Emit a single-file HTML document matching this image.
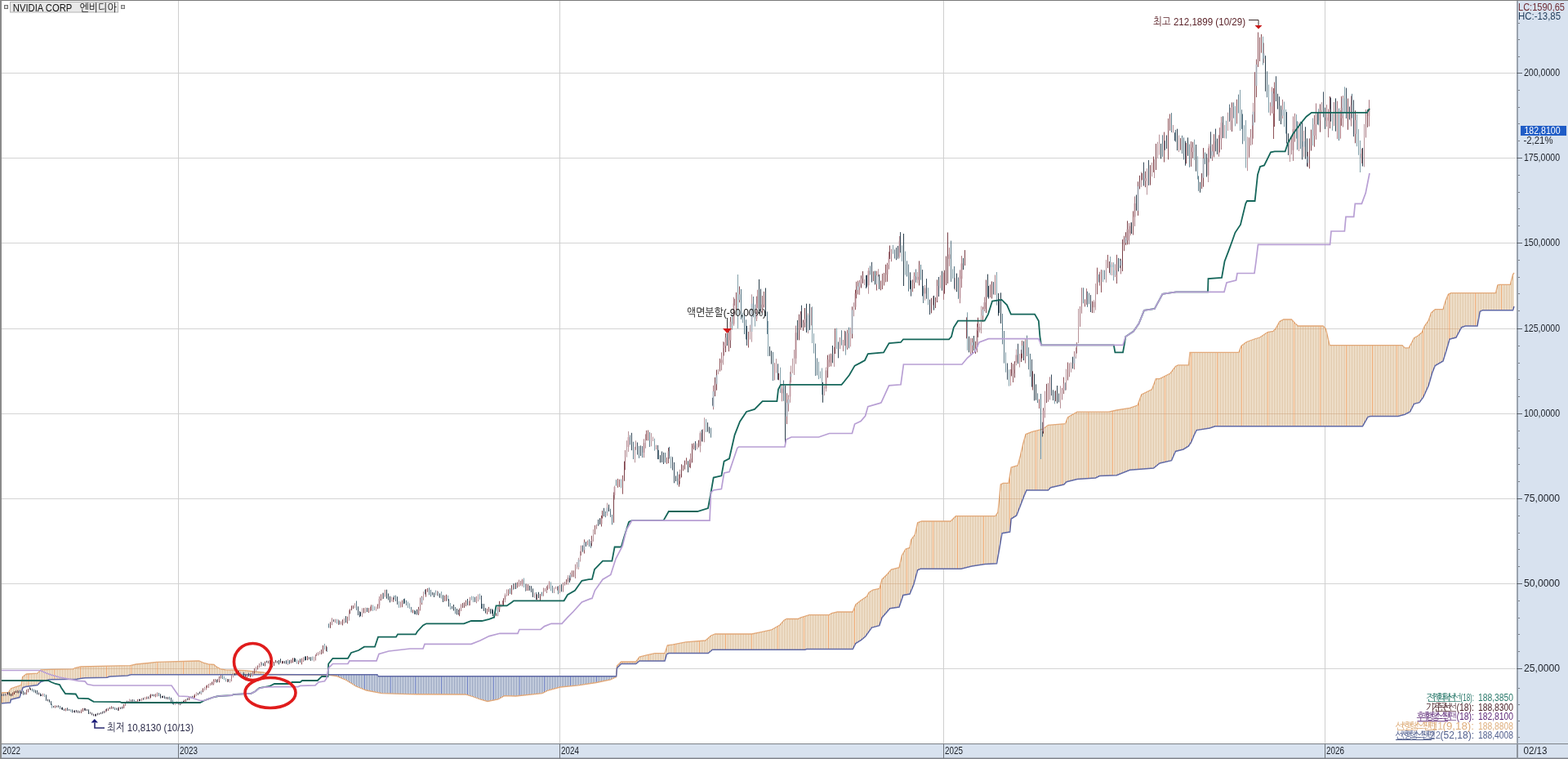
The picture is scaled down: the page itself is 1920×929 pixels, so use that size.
<!DOCTYPE html>
<html><head><meta charset="utf-8"><title>NVIDIA CORP chart</title>
<style>
html,body{margin:0;padding:0;background:#fff;}
body{width:1920px;height:929px;overflow:hidden;position:relative;}
svg{display:block;position:absolute;left:0;top:0;}
</style></head><body>
<svg width="1920" height="929" viewBox="0 0 1920 929">
<defs>
<pattern id="po" width="2" height="8" patternUnits="userSpaceOnUse"><rect width="2" height="8" fill="#fdf6ea"/><rect width="1" height="8" fill="#d6b894"/></pattern>
<pattern id="pb" width="2" height="8" patternUnits="userSpaceOnUse"><rect width="2" height="8" fill="#f2f6fb"/><rect width="1" height="8" fill="#7a8aac"/></pattern>
</defs>
<rect width="1920" height="929" fill="#ffffff"/>

<rect x="2" y="89" width="1854" height="1" fill="#d4d4d4"/>
<rect x="2" y="193" width="1854" height="1" fill="#d4d4d4"/>
<rect x="2" y="297" width="1854" height="1" fill="#d4d4d4"/>
<rect x="2" y="402" width="1854" height="1" fill="#d4d4d4"/>
<rect x="2" y="506" width="1854" height="1" fill="#d4d4d4"/>
<rect x="2" y="610" width="1854" height="1" fill="#d4d4d4"/>
<rect x="2" y="714" width="1854" height="1" fill="#d4d4d4"/>
<rect x="2" y="818" width="1854" height="1" fill="#d4d4d4"/>
<rect x="218" y="1" width="1" height="909" fill="#cfcfcf"/>
<rect x="685" y="1" width="1" height="909" fill="#cfcfcf"/>
<rect x="1155" y="1" width="1" height="909" fill="#cfcfcf"/>
<rect x="1622" y="1" width="1" height="909" fill="#cfcfcf"/>
<polygon points="0,848 1,847.9 2,847.9 3,847.8 4,847.8 5,847.7 6,847.7 7,847.6 8,847.5 9,847.5 10,847.4 10.5,847.2 11,846.5 11.5,845.7 12,845 12.5,844.2 13,843.5 13.5,842.7 14,842.5 14.5,842.4 15,842.2 15.5,842.1 16,841.9 16.5,841.8 17,841.6 17.5,841.4 18,841.3 18.5,841.1 19,840.9 19.5,840.7 20,840.6 20.5,840.4 21,840.2 21.5,840 22,839.9 22.5,839.7 23,839.5 23.5,839.4 24,839.2 24.5,839 25,838.8 25.5,838.7 26,838.5 26.5,835.4 27,832.3 27.5,829.2 28,828.3 28.5,827.9 29,827.5 29.5,827.1 30,826.8 30.5,826.4 31,826 31.5,825.6 32,825.2 32.5,825 33.5,824.9 34.5,824.9 35.5,824.8 36.5,824.8 37.5,824.7 38.5,824.6 39.5,824.6 40.5,824.5 41.5,824.5 42.5,824.4 43.5,824.3 44.5,824.3 45.5,824.2 46,824 46.5,823.5 47,822.9 47.5,822.4 48,821.9 48.5,821.4 49,820.8 49.5,820.3 50,819.8 51.5,819.7 53,819.7 54.5,819.6 56,819.6 57.5,819.5 59,819.4 60.5,819.4 62,819.3 64,819.3 66.5,819.2 69,819.2 71.5,819.1 74,819.1 76.5,819 79,819 81.5,818.9 84,818.9 86.5,818.8 89,818.8 89.5,818.8 90,818.5 90.5,818.3 91,818.1 91.5,817.8 92,817.6 92.5,817.5 93,817.4 93.5,817.3 94,817.2 94.5,817 95,816.9 95.5,816.8 96,816.7 96.5,816.6 97,816.5 97.5,816.3 98,816.2 98.5,816.1 99,816 101,815.9 103,815.9 105,815.8 107,815.8 109,815.7 111,815.7 113,815.6 115,815.6 117,815.5 119,815.5 121,815.4 123,815.4 125,815.3 127,815.3 129,815.2 131,815.2 133,815.1 135.5,815.1 138.5,815 141.5,814.9 144.5,814.9 147.5,814.8 150.5,814.8 153.5,814.7 156.5,814.7 159.5,814.6 160,814.5 160.5,814.4 161,814.2 161.5,814.1 162,814 162.5,813.9 163,813.8 163.5,813.7 164,813.6 164.5,813.5 165,813.4 165.5,813.3 166,813.2 166.5,813 167,813 168,812.9 169,812.8 170,812.7 171,812.6 172,812.5 173,812.4 174,812.3 175,812.2 176,812.1 177,812 178,811.9 179,811.8 180,811.7 181,811.6 182,811.5 182.5,811.5 183,811.4 183.5,811.4 184,811.3 184.5,811.2 185,811.2 185.5,811.1 186,811.1 186.5,811 187,811 187.5,810.9 188,810.8 188.5,810.8 189,810.7 189.5,810.7 190,810.6 190.5,810.5 191,810.5 191.5,810.4 193,810.4 195.5,810.3 198,810.2 200.5,810.2 202.5,810.1 204.5,810.1 206.5,810 208.5,810 210.5,809.9 212.5,809.8 214.5,809.8 216.5,809.7 218.5,809.7 220.5,809.6 222.5,809.5 224.5,809.5 226.5,809.4 228.5,809.4 230.5,809.3 232.5,809.2 234.5,809.2 236.5,809.1 238.5,809.1 240.5,809 243.5,809 244,809.1 244.5,809.3 245,809.6 245.5,809.8 246,810 246.5,810.2 247,810.5 247.5,810.7 248,810.9 248.5,811.1 249,811.3 249.5,811.4 250,811.5 250.5,811.7 251,811.8 251.5,811.9 252,812 252.5,812.1 253,812.3 253.5,812.4 254,812.5 254.5,812.6 255,812.8 255.5,812.8 256,812.9 256.5,812.9 257,813 257.5,813 258,813.1 258.5,813.1 259,813.2 259.5,813.2 260,813.3 260.5,813.3 261,813.4 261.5,813.4 262,813.5 262.5,814 263,814.4 263.5,814.9 264,815.3 264.5,815.8 265,816.2 265.5,816.5 266,816.8 266.5,817 267,817.2 267.5,817.5 268,817.8 268.5,818 269,818.2 269.5,818.5 270,818.8 270.5,818.8 271,818.9 271.5,819 272,819.1 272.5,819.2 273,819.2 273.5,819.3 274,819.4 274.5,819.5 275,819.6 275.5,819.7 276,819.8 277.5,819.8 279,819.9 280,820 281.5,820 282.5,820.1 284,820.1 285,820.2 286.5,820.3 289,820.3 291.5,820.4 294,820.5 296.5,820.5 299,820.6 300,820.6 300.5,820.7 301,820.7 301.5,820.8 302,820.9 302.5,820.9 303,821 303.5,821 304,821.1 304.5,821.2 305,821.2 305.5,821.3 306,821.4 306.5,821.4 307,821.5 307.5,821.6 308,821.6 308.5,821.7 309,821.7 309.5,821.8 310,821.9 310.5,821.9 311,822 312,822.1 313,822.2 314,822.3 315,822.3 316,822.4 317,822.5 318,822.6 319,822.7 320,822.8 321,822.9 322,823 322.5,823 323,823.2 323.5,823.3 324,823.5 324.5,823.7 325,823.8 325.5,824 326,824.2 326.5,824.3 327,824.5 327.5,824.7 328,824.8 328.5,825 329,825.2 329.5,825.3 330,825.5 337.5,825.6 345,825.6 352.5,825.7 360,825.7 367.5,825.8 375,825.8 382.5,825.9 390,825.9 397.5,826 402,826 402.5,826.1 403,826.1 403.5,826.2 404,826.3 404.5,826.4 405,826.5 405.5,826.5 406,826.6 406.5,826.7 407,826.8 407.5,826.8 408,826.9 408.5,827 409,827 409.5,827.1 410,827.2 410.5,827.3 411,827.4 411.5,827.4 412,827.5 412.5,827.7 413,827.9 413.5,828.1 414,828.3 414.5,828.5 415,828.8 415.5,829 416,829.2 416.5,829.4 417,829.6 417.5,829.8 418,830 418.5,830.2 419,830.4 419.5,830.6 420,830.8 420.5,831 421,831.2 421.5,831.5 422,831.7 422.5,831.9 423,832.1 423.5,832.3 424,832.5 424.5,832.8 425,833.1 425.5,833.4 426,833.8 426.5,834.1 427,834.4 427.5,834.7 428,835 428.5,835.3 429,835.6 429.5,835.9 430,836.2 430.5,836.6 431,836.9 431.5,837.2 432,837.5 432.5,837.8 433,838.1 433.5,838.4 434,838.8 434.5,839.1 435,839.4 435.5,839.7 436,840 436.5,840.2 437,840.4 437.5,840.6 438,840.8 438.5,841 439,841.2 439.5,841.4 440,841.6 440.5,841.8 441,842 441.5,842.2 442,842.4 442.5,842.5 443,842.7 443.5,842.9 444,843.1 444.5,843.3 445,843.5 445.5,843.7 446,843.9 446.5,844.1 447,844.3 447.5,844.5 448,844.7 448.5,844.9 449,845 449.5,845.1 450,845.2 450.5,845.3 451,845.4 451.5,845.5 452,845.6 452.5,845.7 453,845.8 453.5,845.9 454,846 454.5,846.1 455,846.2 455.5,846.3 456,846.4 456.5,846.5 457,846.6 457.5,846.7 458,846.8 458.5,846.9 459,847 459.5,847.1 460,847.2 460.5,847.3 461,847.4 461.5,847.5 462,847.6 462.5,847.7 463,847.8 463.5,847.9 464,848 464.5,848.1 465,848.2 465.5,848.3 466,848.4 466.5,848.5 467,848.6 467.5,848.7 469.5,848.8 471.5,848.8 473.5,848.9 475.5,848.9 477.5,849 479.5,849.1 481.5,849.1 483.5,849.2 485.5,849.3 487.5,849.3 489.5,849.4 491.5,849.4 493.5,849.5 495.5,849.6 497.5,849.6 499.5,849.7 508.5,849.7 520.5,849.8 532.5,849.8 544.5,849.9 556.5,849.9 568.5,850 570,850 570.5,850.1 571,850.3 571.5,850.5 572,850.6 572.5,850.8 573,850.9 573.5,851 574,851.2 574.5,851.4 575,851.5 575.5,851.6 576,851.8 576.5,852 577,852.1 577.5,852.2 578,852.4 578.5,852.5 579,852.7 579.5,852.9 580,853 580.5,853.2 581,853.4 581.5,853.6 582,853.8 582.5,853.9 583,854.1 583.5,854.3 584,854.5 584.5,854.7 585,854.9 585.5,855.1 586,855.2 586.5,855.4 587,855.6 587.5,855.8 588,856 588.5,856.1 589,856.3 589.5,856.4 590,856.6 590.5,856.7 591,856.8 591.5,857 592,857.1 592.5,857.2 593,857.4 593.5,857.5 594,857.7 594.5,857.8 595,857.9 595.5,858.1 596,858.2 596.5,858.4 597,858.5 597.5,858.4 598,858.3 598.5,858.2 599,858.1 599.5,858 600,857.9 600.5,857.8 601,857.7 601.5,857.6 602,857.5 602.5,857.4 603,857.3 603.5,857.2 604,857.2 604.5,857.1 605,857 605.5,856.9 606,856.8 606.5,856.7 607,856.6 607.5,856.5 608,856.4 608.5,856.3 609,856.2 609.5,856.1 610,856 610.5,855.7 611,855.4 611.5,855.1 612,854.9 612.5,854.6 613,854.3 613.5,854 614,853.7 614.5,853.4 615,853.1 615.5,852.8 616,852.6 616.5,852.3 617,852 617.5,851.7 620,851.8 622.5,851.8 625,851.9 627.5,851.9 630,852 632,852 632.5,851.9 633,851.9 633.5,851.8 634,851.7 634.5,851.7 635,851.6 635.5,851.6 636,851.5 636.5,851.5 637,851.4 637.5,851.4 638,851.3 638.5,851.3 639,851.2 639.5,851.2 640,851.1 640.5,851.1 641,851 641.5,851 642,850.9 642.5,850.9 643,850.8 643.5,850.8 644,850.7 644.5,850.6 645,850.6 645.5,850.5 646,850.5 646.5,850.4 647,850.4 647.5,850.3 648,850.3 648.5,850.2 649,850.2 649.5,850.1 650,850.1 650.5,850 651,850 651.5,849.9 652,849.9 652.5,849.8 653,849.8 653.5,849.7 654,849.6 654.5,849.6 655,849.5 655.5,849.5 656,849.4 656.5,849.4 657,849.3 657.5,849.3 658,849.2 658.5,849.2 659,849.1 659.5,849.1 660,849 660.5,849 661,848.9 661.5,848.9 662,848.8 662.5,848.8 663,848.7 663.5,848.7 664,848.6 664.5,848.3 665,848.1 665.5,847.8 666,847.6 666.5,847.3 667,847.1 667.5,846.8 668,846.5 668.5,846.3 669,846 669.5,845.8 670,845.5 670.5,845.3 671,845 671.5,844.9 672,844.7 672.5,844.6 673,844.5 673.5,844.3 674,844.2 674.5,844.1 675,843.9 675.5,843.8 676,843.7 676.5,843.5 677,843.4 677.5,843.3 678,843.1 678.5,843 679,842.9 679.5,842.7 680,842.6 680.5,842.5 681,842.3 681.5,842.2 682,842.1 682.5,841.9 683,841.8 683.5,841.7 684,841.5 684.5,841.4 685,841.3 685.5,841.1 686,841 686.5,841 687,840.9 687.5,840.9 688,840.8 689,840.7 689.5,840.6 690,840.6 690.5,840.5 691.5,840.5 692,840.4 692.5,840.4 693,840.3 693.5,840.2 694,840.2 695,840.1 695.5,840 696,840 696.5,839.9 697.5,839.9 698,839.8 698.5,839.8 699,839.7 700,839.6 700.5,839.5 701,839.5 701.5,839.4 702,839.4 702.5,839.3 703.5,839.2 704,839.2 704.5,839.1 705,839.1 706,839 706.5,838.9 707,838.9 707.5,838.8 708,838.8 708.5,838.7 709,838.6 709.5,838.6 710,838.5 710.5,838.4 711,838.3 711.5,838.3 712,838.2 712.5,838.1 713,838 713.5,838 714,837.9 714.5,837.8 715,837.8 715.5,837.7 716,837.6 716.5,837.5 717,837.4 717.5,837.4 718,837.3 718.5,837.2 719,837.1 719.5,837.1 720,837 720.5,836.9 721,836.9 721.5,836.8 722,836.7 722.5,836.6 723,836.5 723.5,836.5 724,836.4 724.5,836.3 725,836.2 725.5,836.2 726,836.1 726.5,836 727,836 727.5,835.9 728,835.8 728.5,835.7 729,835.6 729.5,835.6 730,835.5 730.5,835.4 731,835.3 731.5,835.2 732,835.1 732.5,835 733,834.9 733.5,834.8 734,834.7 734.5,834.6 735,834.5 735.5,834.4 736,834.3 736.5,834.2 737,834.1 737.5,834 738,833.9 738.5,833.8 739,833.7 739.5,833.6 740,833.5 740.5,833.4 741,833.3 741.5,833.2 742,833.1 742.5,833 743,832.9 743.5,832.8 744,832.7 744.5,832.6 745,832.5 745.5,832.4 746,832.3 746.5,832.2 747,832.1 747.5,832 748,831.8 748.5,831.5 749,831.2 749.5,831 750,830.8 750.5,830.5 751,830.2 751.5,830 752,829.8 752.5,829.5 753,829.2 753.5,829 754,828.8 754.5,828.5 755,821.8 755.5,815 756,814.5 756.5,814 757,813.5 757.5,813 758,812.5 758.5,812.1 759,811.6 759.5,811.1 760,810.6 760.5,810.1 761,810 778.5,810 779,809.6 779.5,808.9 780,808.2 780.5,807.5 781,806.8 781.5,806.1 782,805.4 782.5,804.7 783,804 783.5,803.9 784,803.7 784.5,803.6 785,803.5 785.5,803.4 786,803.2 786.5,803.1 787,803 787.5,802.8 788,802.7 788.5,802.6 789,802.5 789.5,802.3 790,802.2 790.5,802.1 791,802 791.5,801.8 792,801.7 792.5,801.6 793,801.5 793.5,801.4 794,801.3 794.5,801.2 795,801.1 795.5,801 796,800.9 796.5,800.8 797,800.6 797.5,800.5 798,800.4 798.5,800.3 799,800.2 799.5,800.1 800,800 800.5,799.9 801,799.8 801.5,799.7 802,799.6 814,799.6 814.5,798.1 815,796.6 815.5,795.1 816,793.7 816.5,792.2 817,790.7 817.5,789.8 818,789.7 818.5,789.6 819,789.6 819.5,789.5 820,789.4 820.5,789.3 821,789.3 821.5,789.2 822,789.1 822.5,789 823,789 823.5,788.9 824,788.8 824.5,788.7 825,788.7 825.5,788.6 826,788.5 826.5,788.4 827,788.3 827.5,788.2 828,788.1 828.5,788 829,787.9 829.5,787.8 830,787.7 830.5,787.6 831,787.5 831.5,787.4 832,787.3 832.5,787.2 833,787.2 833.5,787.1 834,787 834.5,786.9 835,786.8 835.5,786.7 836,786.6 836.5,786.5 837,786.4 837.5,786.3 838,786.2 838.5,786.1 839,786 839.5,785.9 840,785.9 841,785.8 842,785.7 843,785.6 844,785.6 845,785.5 846,785.4 847,785.3 848,785.2 849,785.2 850,785.1 851,785 852,784.9 853,784.9 854,784.8 855,784.7 856,784.6 857,784.5 858,784.5 859,784.4 860,784.3 861,784.2 862,784.1 863,784.1 863.5,784 864,783.8 864.5,783.4 865,782.9 865.5,782.5 866,782.1 866.5,781.6 867,781.2 867.5,780.7 868,780.3 868.5,779.9 869,779.4 869.5,779 870,778.5 870.5,778.1 871,777.8 871.5,777.7 872,777.5 872.5,777.3 873,777.1 873.5,776.9 874,776.7 874.5,776.5 875,776.3 875.5,776.1 876,776 920.5,776 921,775.9 921.5,775.8 922,775.7 922.5,775.6 923,775.5 923.5,775.4 924,775.3 924.5,775.1 925,775 925.5,774.9 926,774.8 926.5,774.7 927,774.6 927.5,774.5 928,774.4 928.5,774.3 929,774.2 929.5,774.1 930,774 930.5,773.9 931,773.8 931.5,773.7 932,773.6 932.5,773.5 933,773.4 933.5,773.2 934,773.1 934.5,773 935,772.9 935.5,772.8 936,772.7 936.5,772.6 937,772.5 937.5,772.4 938,772.3 938.5,772.2 939,772.1 939.5,772 940,771.9 940.5,771.8 941,771.7 941.5,771.6 942,771.5 942.5,771.4 943,771.3 943.5,771.2 944,771.1 944.5,771 945,770.7 945.5,770.4 946,770.1 946.5,769.8 947,769.6 947.5,769.3 948,769 948.5,768.7 949,768.4 949.5,768.1 950,767.8 950.5,767.5 951,767.2 951.5,766.9 952,766.7 952.5,766.4 953,766.1 953.5,765.8 954,765.6 954.5,765.3 955,765 955.5,764.4 956,763.8 956.5,763.3 957,762.7 957.5,762.1 958,761.5 958.5,760.9 959,760.4 959.5,759.8 960,759.2 960.5,759 961,758.7 961.5,758.5 962,758.2 962.5,758 963,757.7 963.5,757.5 977,757.5 977.5,757.4 978,757.1 978.5,756.9 979,756.6 979.5,756.4 980,756.1 980.5,755.9 981,755.7 981.5,755.5 982,755.4 982.5,755.2 983,755.1 983.5,754.9 984,754.8 984.5,754.6 985,754.5 985.5,754.3 986,754.2 986.5,754 987,753.9 987.5,753.7 988,753.6 988.5,753.4 989,753.3 989.5,753.1 990,753 990.5,752.8 991,752.7 1015,752.7 1015.5,752.4 1016,752.1 1016.5,751.8 1017,751.5 1017.5,751.2 1018,750.8 1018.5,750.6 1019,750.5 1019.5,750.3 1020,750.2 1020.5,750.1 1021,750 1021.5,749.9 1022,749.8 1022.5,749.6 1023,749.5 1023.5,749.4 1024,749.3 1024.5,749.2 1025,749.1 1025.5,749 1044,749 1044.5,748.3 1045,747 1045.5,745.8 1046,744.5 1046.5,743.2 1047,742 1047.5,740.7 1048,739.8 1048.5,739.4 1049,739 1049.5,738.6 1050,738.2 1050.5,737.8 1051,737.4 1051.5,737 1052,736.6 1052.5,736.2 1053,735.8 1053.5,735.4 1054,735 1054.5,734.7 1055,734.3 1055.5,734 1056,733.6 1056.5,733.3 1057,733 1057.5,732.6 1058,732.3 1058.5,732 1059,731.6 1059.5,731.3 1060,730.9 1060.5,730.6 1061,730.3 1061.5,729.8 1062,728.9 1062.5,728 1063,727.1 1063.5,726.2 1064,725.3 1064.5,725 1065,724.6 1065.5,724.3 1066,723.9 1066.5,723.6 1067,723.2 1067.5,722.9 1068,722.5 1068.5,722.2 1069,722 1069.5,721.9 1070,721.8 1070.5,721.7 1071,721.6 1071.5,721.5 1072,721.4 1072.5,721.3 1073,721.2 1073.5,721.1 1074,721 1074.5,720.9 1075,720.8 1075.5,720.7 1076,720.6 1076.5,720.6 1077,719.8 1077.5,718 1078,716.3 1078.5,714.5 1079,712.7 1079.5,711 1080,709.2 1080.5,708.7 1081,708.2 1081.5,707.7 1082,707.2 1082.5,706.7 1083,706.2 1083.5,705.7 1084,705.2 1084.5,704.7 1085,704.2 1085.5,703.7 1086,703.2 1086.5,702.7 1087,702.1 1087.5,701.5 1088,701 1088.5,700.4 1089,699.8 1089.5,699.2 1090,698.6 1090.5,698 1091,697.5 1091.5,697 1092,696.9 1092.5,696.7 1093,696.6 1093.5,696.5 1094,696.4 1094.5,696.2 1095,696.1 1095.5,696 1096,695.9 1096.5,695.7 1097,695.6 1097.5,695.5 1098,695.4 1098.5,695.2 1099,695.1 1099.5,695 1100,694.9 1100.5,694.7 1101,694.6 1101.5,692.4 1102,690.2 1102.5,688 1103,685.8 1103.5,683.5 1104,681.3 1104.5,679.7 1105,678.8 1105.5,678 1106,677.1 1106.5,676.3 1107,675.4 1107.5,674.6 1108,673.7 1108.5,672.9 1109,672 1109.5,671.8 1110,671.7 1110.5,671.5 1111,671.4 1111.5,671.2 1112,671 1112.5,670.9 1113,670.7 1113.5,670.6 1114,670.4 1114.5,667.4 1115,664.4 1115.5,661.4 1116,660.3 1116.5,659.6 1117,658.9 1117.5,658.2 1118,657.5 1118.5,656.9 1119,656.2 1119.5,655.5 1120,654.8 1120.5,653.8 1121,651.6 1121.5,649.3 1122,647 1122.5,644.8 1123,642.5 1123.5,640.3 1124,639.7 1124.5,639.5 1125,639.3 1125.5,639.1 1126,638.9 1126.5,638.7 1127,638.6 1127.5,638.4 1128,638.2 1128.5,638 1164,638 1164.5,637.5 1165,637 1165.5,636.5 1166,636 1166.5,635.5 1167,635 1167.5,634.6 1168,634.1 1168.5,633.6 1169,633.1 1169.5,632.6 1170,632.1 1170.5,631.7 1218.5,631.7 1219,631.5 1219.5,630.8 1220,630 1220.5,629.2 1221,628.4 1221.5,627.7 1222,626.9 1222.5,621.8 1223,616.6 1223.5,611.5 1224,606.4 1224.5,601.2 1225,596.1 1225.5,592.9 1226,592.6 1226.5,592.4 1227,592.1 1227.5,591.9 1228,591.6 1228.5,591.4 1235,591.4 1235.5,588.4 1236,585.3 1236.5,582.3 1237,579.3 1237.5,576.2 1238,573.2 1238.5,571.9 1239,571.8 1239.5,571.6 1240,571.5 1240.5,571.3 1241,571.2 1241.5,571.1 1242,570.9 1242.5,570.8 1243,570.6 1243.5,570.5 1244,570.4 1244.5,570.2 1245,570.1 1245.5,569.9 1246,569.8 1246.5,568.9 1247,567 1247.5,565.1 1248,563.2 1248.5,561.3 1249,559.4 1249.5,557.5 1250,555.3 1250.5,553.1 1251,550.9 1251.5,548.7 1252,546.5 1252.5,544.3 1253,542.3 1253.5,540.5 1254,538.7 1254.5,536.9 1255,535.2 1255.5,533.4 1256,531.6 1256.5,531.4 1257,531.2 1257.5,531 1258,530.8 1258.5,530.6 1259,530.4 1259.5,530.2 1260,530 1260.5,529.8 1261,529.6 1261.5,529.4 1262,529.2 1262.5,529 1263,528.8 1263.5,528.6 1264,528.4 1264.5,528.3 1265,528.2 1265.5,528 1266,527.9 1266.5,527.8 1267,527.7 1267.5,527.5 1268,527.4 1268.5,527.3 1269,527.2 1269.5,527 1270,526.9 1270.5,526.8 1271,526.7 1271.5,526.6 1272,526.4 1272.5,526.3 1273,526.2 1273.5,526.1 1274,525.9 1274.5,525.8 1275,525.7 1275.5,525.6 1276,525.4 1276.5,525.3 1277,525.2 1277.5,524.8 1278,524.4 1278.5,524.1 1279,523.7 1279.5,523.3 1280,522.9 1280.5,522.5 1281,522.1 1281.5,521.8 1282,521.4 1282.5,521 1283,520.6 1283.5,520.3 1284.5,520.2 1285.5,520.1 1286.5,520.1 1287.5,520 1288.5,519.9 1289.5,519.8 1290.5,519.8 1291.5,519.7 1292.5,519.6 1293.5,519.5 1294.5,519.5 1295.5,519.4 1296.5,519.3 1297.5,519.2 1298.5,519.1 1299.5,519.1 1300.5,519 1301.5,518.9 1302.5,518.8 1303.5,518.8 1304,518.7 1304.5,518.5 1305,517.2 1305.5,516 1306,514.7 1306.5,513.4 1307,512.2 1307.5,510.9 1308,510.5 1308.5,510.2 1309,509.9 1309.5,509.6 1310,509.3 1310.5,509 1311,508.8 1311.5,508.5 1312,508.2 1312.5,507.9 1313,507.6 1313.5,507.3 1314,507.1 1314.5,506.8 1315,506.5 1315.5,506.2 1316,505.9 1316.5,505.6 1317,505.3 1317.5,505.1 1318,504.8 1318.5,504.5 1319,504.2 1357.5,504.2 1358,504.1 1358.5,504 1359,503.9 1359.5,503.8 1360,503.7 1360.5,503.6 1361,503.4 1361.5,503.3 1362,503.2 1362.5,503.1 1363,503 1363.5,502.9 1364,502.8 1364.5,502.6 1365,502.5 1365.5,502.4 1366,502.3 1366.5,502.2 1367,502.1 1367.5,502 1368,501.9 1368.5,501.8 1369,501.7 1369.5,501.6 1370,501.6 1370.5,501.5 1371,501.4 1371.5,501.3 1372,501.2 1372.5,501.2 1373,501.1 1373.5,501 1374,500.9 1374.5,500.8 1375,500.8 1375.5,500.7 1376,500.6 1376.5,500.5 1377,500.4 1377.5,500.4 1378,500.3 1378.5,500.2 1379,500.1 1379.5,500 1380,500 1380.5,499.9 1381,499.8 1381.5,499.7 1382,499.6 1382.5,499.6 1383,499.5 1383.5,499.4 1384,499.2 1384.5,499 1385,498.9 1385.5,498.7 1386,498.5 1386.5,498.3 1387,498.1 1387.5,498 1388,497.8 1388.5,497.6 1389,497.4 1389.5,497.3 1390,497.1 1390.5,496.9 1391,496.7 1391.5,496.5 1392,496.4 1392.5,496.2 1393,496 1393.5,494.6 1394,493.2 1394.5,491.9 1395,490.5 1395.5,489.1 1396,487.7 1396.5,486.3 1397,484.9 1397.5,483.6 1398,482.9 1398.5,482.6 1399,482.4 1399.5,482.1 1400,481.9 1400.5,481.6 1401,481.4 1401.5,481.1 1402,480.9 1402.5,480.6 1403,480.4 1403.5,480.1 1404,479.9 1404.5,479.6 1405,479.4 1405.5,479.1 1406,478.9 1406.5,478.6 1407,478.4 1407.5,478.1 1408,477.9 1408.5,477.6 1409,477.4 1409.5,477.1 1410,476.9 1410.5,476.6 1411,475.5 1411.5,474.2 1412,472.8 1412.5,471.5 1413,470.1 1413.5,468.8 1414,467.5 1414.5,466.1 1415,464.8 1415.5,463.7 1418,463.6 1420,463.6 1420.5,463.3 1421,463.1 1421.5,462.8 1422,462.6 1422.5,462.3 1423,462.1 1423.5,461.8 1424,461.6 1424.5,461.3 1425,461.1 1425.5,460.8 1426,460.6 1426.5,460.3 1427,460 1427.5,459.8 1428,459.5 1428.5,459.3 1429,459 1429.5,458.8 1430,458.5 1430.5,458.3 1431,458 1431.5,457.8 1432,457.5 1432.5,457.3 1433,457 1433.5,456.3 1434,455.7 1434.5,455 1435,454.3 1435.5,453.7 1436,453 1436.5,452.4 1437,451.7 1437.5,451 1438,450.4 1438.5,449.7 1439,449 1439.5,448.5 1440,448.2 1440.5,447.9 1441,447.7 1441.5,447.4 1442,447.2 1442.5,446.9 1455.5,446.9 1456,441.7 1456.5,436.6 1457,431.4 1516.5,431.4 1517,430.9 1517.5,429.6 1518,428.4 1518.5,427.1 1519,425.8 1519.5,424.6 1520,423.3 1520.5,422.9 1521,422.6 1521.5,422.2 1522,421.8 1522.5,421.5 1523,421.1 1523.5,420.7 1524,420.3 1524.5,420 1525,419.6 1525.5,419.2 1526,418.9 1526.5,418.5 1527,418.3 1527.5,418.1 1528,417.9 1528.5,417.8 1529,417.6 1529.5,417.4 1530,417.2 1530.5,417 1531,416.8 1531.5,416.7 1532,416.5 1532.5,416.3 1533,416.1 1533.5,415.9 1534,415.7 1534.5,415.6 1535,415.4 1535.5,415.2 1536,415 1536.5,414.9 1537,414.7 1537.5,414.6 1538,414.4 1538.5,414.3 1539,414.1 1539.5,414 1540,413.8 1540.5,413.7 1541,413.5 1541.5,413.4 1542,413.2 1542.5,413.1 1543,412.8 1543.5,412.5 1544,412.1 1544.5,411.8 1545,411.5 1545.5,411.1 1546,410.8 1546.5,410.5 1547,410.1 1547.5,409.8 1548,409.5 1548.5,409.1 1549,408.8 1549.5,408.5 1550,408.1 1550.5,407.8 1551,407.4 1551.5,407.1 1552,406.7 1552.5,406.5 1553,406.4 1553.5,406.3 1554,406.2 1554.5,406.2 1555,406.1 1555.5,406 1556,405.9 1556.5,405.9 1557,405.8 1557.5,405.7 1558,405.6 1558.5,405.6 1559,405.5 1559.5,405 1560,404.4 1560.5,403.9 1561,403.4 1561.5,402.8 1562,402.3 1562.5,401.4 1563,400.5 1563.5,399.6 1564,398.7 1564.5,397.9 1565,397 1565.5,396.1 1566,395.2 1566.5,394.3 1567,393.5 1567.5,393.3 1568,393 1568.5,392.7 1569,392.5 1569.5,392.2 1570,391.9 1570.5,391.7 1571,391.4 1571.5,391.1 1572,391 1581,391 1581.5,391.1 1582,391.6 1582.5,392.2 1583,392.7 1583.5,393.2 1584,393.8 1584.5,394.3 1585,394.8 1585.5,395.4 1586,395.9 1586.5,396.3 1587,396.8 1587.5,397.2 1588,397.7 1588.5,398.1 1589,398.6 1589.5,399 1620,399 1620.5,399.5 1621,400 1621.5,400.5 1622,400.9 1622.5,401.4 1623,401.9 1623.5,402.7 1624,404.8 1624.5,407 1625,409.1 1625.5,411.2 1626,413.3 1626.5,415.4 1627,417.5 1627.5,419.6 1628,421.8 1628.5,422.6 1717,422.6 1717.5,423.1 1718,423.6 1718.5,424.1 1719,424.7 1719.5,425.2 1720,425.7 1720.5,425.9 1725,425.9 1725.5,425 1726,424.1 1726.5,423.2 1727,422.3 1727.5,421.4 1728,420.5 1728.5,419.6 1729,418.6 1729.5,417.6 1730,416.6 1730.5,415.6 1731,414.6 1731.5,413.6 1732,413.3 1732.5,413.1 1733,412.8 1733.5,412.5 1734,412.2 1734.5,412 1735,411.7 1735.5,411.4 1736,411.2 1736.5,410.8 1737,410.4 1737.5,410 1738,409.6 1738.5,409.1 1739,408.7 1739.5,408.3 1740,407.9 1740.5,407.4 1741,407 1741.5,405.8 1742,404.6 1742.5,403.5 1743,402.3 1743.5,401.1 1744,399.9 1744.5,398.9 1745,398.2 1745.5,397.5 1746,396.8 1746.5,396.1 1747,395.4 1747.5,394.7 1748,394 1748.5,393.3 1749,392.6 1749.5,391.2 1750,389.9 1750.5,388.5 1751,387.1 1751.5,385.7 1752,384.4 1752.5,383 1753,382.6 1753.5,382.1 1754,381.7 1754.5,381.2 1755,380.8 1755.5,380.3 1756,379.9 1756.5,379.4 1757,379 1757.5,378.7 1767,378.7 1767.5,377 1768,375.3 1768.5,373.5 1769,371.8 1769.5,370.1 1770,368.4 1770.5,367.2 1771,366 1771.5,364.8 1772,363.6 1772.5,362.4 1773,361.3 1773.5,360.3 1774,360 1774.5,359.8 1775,359.5 1775.5,359.3 1776,359 1776.5,358.8 1777,358.7 1831.5,358.7 1832,356.6 1832.5,354.5 1833,352.4 1833.5,350.3 1834,348.9 1834.5,348.8 1835,348.7 1835.5,348.5 1836,348.4 1849,348.4 1849.5,347.6 1850,345.7 1850.5,343.7 1851,341.8 1851.5,339.9 1852,337.9 1852.5,336 1853,335.3 1853.5,334.7 1854,334 1854,375 1853.5,376.6 1853,378.1 1852.5,379.7 1815.5,379.7 1815,379.9 1814.5,380.2 1814,380.4 1813.5,380.7 1813,380.9 1812.5,381.2 1812,382.4 1811.5,385.2 1811,387.9 1810.5,390.7 1810,393.5 1809.5,396.2 1809,399 1794.5,399 1794,399.1 1793.5,399.3 1793,399.5 1792.5,399.7 1792,399.9 1791.5,400 1791,400.2 1790.5,400.4 1790,400.6 1789.5,400.9 1789,401.8 1788.5,402.7 1788,403.7 1787.5,404.6 1787,405.5 1786.5,406.5 1786,407.4 1785.5,408.3 1785,409.3 1784.5,410.2 1784,411.1 1783.5,412.1 1783,413 1782.5,413.1 1782,413.3 1781.5,413.4 1781,413.6 1780.5,413.7 1780,413.8 1779.5,414 1779,414.1 1778.5,414.2 1778,414.4 1777.5,414.5 1777,414.6 1776.5,414.8 1776,414.9 1775.5,415.1 1775,415.2 1774.5,417 1774,418.7 1773.5,420.5 1773,422.3 1772.5,424 1772,425.8 1771.5,427.5 1771,429.1 1770.5,430.7 1770,432.3 1769.5,433.9 1769,435.5 1768.5,437.2 1768,438.8 1767.5,440.4 1767,442 1766.5,442.3 1766,442.6 1765.5,442.9 1765,443.1 1764.5,443.4 1764,443.7 1763.5,444 1763,444.3 1762.5,444.6 1762,444.8 1761.5,445.1 1761,445.4 1760.5,445.7 1760,446 1759.5,446.3 1759,446.5 1758.5,446.8 1758,447.1 1757.5,447.4 1757,448.2 1756.5,449.5 1756,450.7 1755.5,451.9 1755,453.1 1754.5,454.4 1754,455.6 1753.5,457.3 1753,459 1752.5,460.7 1752,462.5 1751.5,464.2 1751,465.9 1750.5,467.6 1750,469.3 1749.5,471 1749,472.4 1748.5,473.5 1748,474.6 1747.5,475.7 1747,476.8 1746.5,477.9 1746,479.1 1745.5,480.2 1745,481.3 1744.5,482.4 1744,483.5 1743.5,484.6 1743,485.8 1742.5,486.6 1742,487.3 1741.5,488 1741,488.6 1740.5,489.3 1740,490 1739.5,490.7 1739,491.3 1738.5,492 1738,492.7 1737.5,492.8 1737,492.9 1736.5,493.1 1736,493.2 1735.5,493.3 1735,493.4 1734.5,493.6 1734,493.7 1733.5,493.8 1733,493.9 1732.5,494.1 1732,494.2 1731.5,494.3 1731,495.3 1730.5,496.3 1730,497.3 1729.5,498.3 1729,499.2 1728.5,500.2 1728,501.2 1727.5,502.2 1727,503.2 1726.5,504 1726,504.3 1725.5,504.5 1725,504.8 1724.5,505 1724,505.3 1723.5,505.5 1723,505.8 1722.5,506.1 1722,506.3 1721.5,506.6 1721,506.8 1720.5,507.1 1720,507.3 1719.5,507.4 1719,507.5 1718.5,507.7 1718,507.8 1717.5,508 1717,508.1 1716.5,508.2 1716,508.4 1715.5,508.5 1715,508.7 1714.5,508.8 1714,508.9 1713.5,509.1 1713,509.2 1712.5,509.4 1712,509.5 1678.5,509.5 1678,509.6 1677.5,509.7 1677,509.8 1676.5,510 1676,510.1 1675.5,510.3 1675,510.4 1674.5,511.3 1674,512.1 1673.5,513 1673,513.9 1672.5,514.7 1672,515.6 1671.5,516.5 1671,517.4 1670.5,518.2 1670,519.1 1669.5,520 1669,520.8 1668.5,521.7 1488,521.7 1487.5,521.8 1487,522 1486.5,522.2 1486,522.3 1485.5,522.5 1485,522.7 1484.5,522.9 1484,523 1483.5,523.2 1483,523.4 1482.5,523.6 1482,523.8 1481.5,523.9 1481,524 1480.5,524.1 1480,524.2 1479.5,524.3 1479,524.4 1478.5,524.4 1478,524.5 1477.5,524.6 1477,524.7 1476.5,524.8 1476,524.8 1475.5,524.9 1475,525 1474.5,525.1 1474,525.2 1473.5,525.2 1473,525.3 1472.5,525.4 1472,525.5 1471.5,525.6 1471,525.6 1470.5,525.7 1470,525.8 1469.5,525.9 1469,526 1468.5,526 1468,526.1 1467.5,526.2 1467,526.3 1466.5,526.4 1466,526.4 1465.5,526.5 1465,526.6 1464.5,527.7 1464,528.7 1463.5,529.8 1463,530.9 1462.5,531.9 1462,533 1461.5,534.2 1461,535.4 1460.5,536.6 1460,537.8 1459.5,539.1 1459,540.3 1458.5,541.3 1458,542.1 1457.5,542.9 1457,543.7 1456.5,544.4 1456,545.2 1455.5,546 1455,546.3 1454.5,546.6 1454,546.9 1453.5,547.2 1453,547.5 1452.5,547.8 1452,548.2 1451.5,548.5 1451,548.8 1450.5,549.1 1450,549.4 1449.5,549.7 1449,550 1448.5,550.1 1448,550.2 1447.5,550.4 1447,550.5 1446.5,550.6 1446,550.8 1445.5,550.9 1445,551 1444.5,551.1 1444,551.2 1443.5,551.4 1443,551.5 1442.5,551.6 1442,551.8 1441.5,551.9 1441,552 1440.5,552.1 1440,552.2 1439.5,552.4 1439,553.3 1438.5,554.5 1438,555.6 1437.5,556.8 1437,557.9 1436.5,559.1 1436,560.2 1435.5,561.4 1435,562.5 1434.5,563.7 1434,563.8 1433.5,563.9 1433,564 1432.5,564.2 1432,564.3 1431.5,564.4 1431,564.5 1430.5,564.6 1430,564.7 1429.5,564.8 1429,565 1428.5,565.1 1428,565.2 1427.5,565.3 1427,565.4 1426.5,565.5 1426,565.6 1425.5,565.7 1425,565.9 1424.5,566 1424,566.1 1423.5,566.2 1423,566.3 1422.5,566.4 1422,566.5 1421.5,566.7 1421,566.8 1420.5,566.9 1420,567 1419.5,567.4 1419,567.8 1418.5,568.2 1418,568.6 1417.5,569 1417,569.4 1416.5,569.8 1416,570.2 1415.5,570.6 1415,571 1414.5,571.4 1414,571.8 1413.5,572.2 1413,572.6 1412.5,573 1411.5,573.1 1410.5,573.2 1409.5,573.2 1408.5,573.3 1407.5,573.4 1406.5,573.5 1405.5,573.5 1404.5,573.6 1403.5,573.7 1402.5,573.8 1401.5,573.8 1400.5,573.9 1399.5,574 1398.5,574.1 1397.5,574.1 1396.5,574.2 1395.5,574.3 1394.5,574.4 1393.5,574.4 1392.5,574.5 1391.5,574.6 1390.5,574.7 1389.5,574.7 1388.5,574.8 1387.5,574.9 1386.5,575 1385.5,575 1384.5,575.1 1383.5,575.2 1383,575.4 1382.5,575.6 1382,575.8 1381.5,576 1381,576.2 1380.5,576.4 1380,576.6 1379.5,576.8 1379,577 1378.5,577.2 1378,577.4 1377.5,577.6 1377,577.8 1376.5,578 1376,578.2 1375.5,578.4 1375,578.6 1374.5,578.8 1374,579 1373.5,579.2 1373,579.4 1372.5,579.6 1372,579.8 1371.5,580 1371,580.2 1370.5,580.4 1370,580.6 1369.5,580.8 1369,581 1368.5,581.2 1368,581.4 1367.5,581.6 1367,581.7 1365.5,581.8 1364,581.8 1362.5,581.9 1361,582 1359.5,582 1358,582.1 1356.5,582.2 1355,582.2 1353.5,582.3 1352,582.4 1350.5,582.4 1349,582.5 1347.5,582.6 1346.5,582.6 1346,582.8 1345.5,583 1345,583.3 1344.5,583.5 1344,583.8 1343.5,584 1343,584.3 1342.5,584.5 1342,584.8 1341.5,585 1340.5,585.1 1339.5,585.1 1338.5,585.2 1337.5,585.3 1336.5,585.3 1335.5,585.4 1334.5,585.5 1333.5,585.5 1332.5,585.6 1331.5,585.7 1330.5,585.7 1329.5,585.8 1328.5,585.9 1327.5,585.9 1326.5,586 1325.5,586.1 1324.5,586.1 1323.5,586.2 1322.5,586.3 1321.5,586.3 1320.5,586.4 1319.5,586.5 1319,586.5 1318.5,586.6 1318,586.7 1317.5,586.9 1317,587 1316.5,587.1 1316,587.2 1315.5,587.4 1315,587.5 1314.5,587.6 1314,587.7 1313.5,587.9 1313,588 1312.5,588.1 1312,588.2 1311.5,588.3 1311,588.5 1310.5,588.6 1310,588.7 1309.5,588.8 1309,589 1308.5,589.1 1308,589.2 1307.5,589.3 1307,589.5 1306.5,589.6 1306,589.7 1305.5,590.2 1305,590.7 1304.5,591.2 1304,591.8 1303.5,592.3 1303,592.8 1302.5,593.1 1302,593.2 1301.5,593.3 1301,593.4 1300.5,593.5 1300,593.7 1299.5,593.8 1299,593.9 1298.5,594 1298,594.1 1297.5,594.2 1297,594.4 1296.5,594.5 1296,594.6 1295.5,594.7 1295,594.8 1294.5,594.9 1294,595.1 1293.5,595.2 1293,595.3 1292.5,595.4 1292,595.5 1291.5,595.7 1291,595.8 1290.5,595.9 1290,596 1289.5,596.1 1289,596.2 1288.5,596.4 1288,596.5 1287.5,596.6 1287,596.7 1286.5,596.9 1286,597.4 1285.5,597.9 1285,598.4 1284.5,598.9 1284,599.4 1283.5,599.9 1283,600 1257,600 1256.5,601.1 1256,602.3 1255.5,603.4 1255,604.5 1254.5,605.7 1254,607 1253.5,608.3 1253,609.6 1252.5,610.9 1252,612.2 1251.5,613.5 1251,614.9 1250.5,616.2 1250,617.5 1249.5,618.8 1249,620.1 1248.5,621.3 1248,622.6 1247.5,623.9 1247,625.2 1246.5,626.4 1246,627.7 1245.5,629 1245,630.2 1244.5,631.1 1244,631.4 1243.5,631.7 1243,632 1242.5,632.4 1242,632.7 1241.5,633 1241,633.3 1240.5,633.6 1240,633.9 1239.5,634.2 1239,634.5 1238.5,634.8 1238,637 1237.5,642 1237,647 1236.5,651 1236,651.1 1235.5,651.2 1235,651.3 1234.5,651.4 1234,651.5 1233.5,651.5 1233,651.6 1232.5,651.7 1232,651.8 1231.5,651.9 1231,652 1230.5,652.1 1230,652.2 1229.5,652.3 1229,652.3 1228.5,652.4 1228,652.5 1227.5,652.6 1227,652.7 1226.5,655.6 1226,658.5 1225.5,661.5 1225,664.4 1224.5,667.3 1224,670.2 1223.5,673.1 1223,675.9 1222.5,678.7 1222,681.5 1221.5,684.2 1221,687 1220.5,689.8 1219,689.9 1217.5,689.9 1216,690 1214.5,690.1 1213,690.2 1211.5,690.2 1210,690.3 1208.5,690.4 1207,690.5 1206,690.5 1205.5,690.6 1205,690.7 1204.5,690.7 1204,690.8 1203.5,690.9 1203,691 1202.5,691 1202,691.1 1201.5,691.2 1201,691.3 1200.5,691.3 1200,691.4 1199.5,691.5 1199,691.6 1198.5,691.7 1198,691.7 1197.5,691.8 1197,691.9 1196.5,692 1196,692 1195.5,692.1 1195,692.2 1194.5,692.3 1194,692.4 1193.5,692.4 1193,692.5 1192.5,692.6 1192,692.7 1191.5,692.7 1191,692.8 1190.5,692.9 1190,693 1189.5,693.1 1189,693.2 1188.5,693.3 1188,693.5 1187.5,693.6 1187,693.7 1186.5,693.8 1186,694 1185.5,694.1 1185,694.2 1184.5,694.4 1184,694.5 1183.5,694.6 1183,694.7 1182.5,694.9 1182,695 1181.5,695.1 1181,695.3 1180.5,695.4 1180,695.5 1179.5,695.6 1179,695.8 1178.5,695.9 1178,696 1177.5,696.1 1177,696.3 1127,696.3 1126.5,696.5 1126,696.7 1125.5,697 1125,697.2 1124.5,697.5 1124,697.7 1123.5,698.3 1123,700.1 1122.5,702 1122,703.8 1121.5,705.6 1121,707.5 1120.5,709.3 1120,711.2 1119.5,713 1119,714.9 1118.5,716.3 1118,717.5 1117.5,718.7 1117,719.9 1116.5,721.1 1116,722.2 1115.5,723.4 1115,724.6 1114.5,725.8 1114,727 1113.5,727.1 1113,727.2 1112.5,727.3 1112,727.4 1111.5,727.5 1111,727.6 1110.5,727.6 1110,727.7 1109.5,727.8 1109,727.9 1108.5,728 1108,728.1 1107.5,728.2 1107,728.3 1106.5,728.4 1106,728.5 1105.5,729.7 1105,731.2 1104.5,732.6 1104,734.1 1103.5,735.6 1103,737.1 1102.5,738.6 1102,740 1101.5,741.5 1101,743 1100.5,743.1 1100,743.2 1099.5,743.2 1099,743.3 1098.5,743.4 1098,743.5 1097.5,743.5 1097,743.6 1096.5,743.7 1096,743.8 1095.5,743.8 1095,743.9 1094.5,744 1094,744.1 1093.5,744.1 1093,744.2 1092.5,744.3 1092,744.4 1091.5,744.4 1091,744.5 1090.5,744.6 1090,744.7 1089.5,744.9 1089,745.5 1088.5,746.1 1088,746.7 1087.5,747.3 1087,747.8 1086.5,748.4 1086,749 1085.5,749.6 1085,750.2 1084.5,750.8 1084,751.3 1083.5,751.9 1083,752.5 1082.5,753.1 1082,753.7 1081.5,754.3 1081,754.8 1080.5,755.4 1080,756 1079.5,757.5 1079,759 1078.5,760.5 1078,762.1 1077.5,763.6 1077,765.1 1076.5,765.8 1076,765.9 1075.5,766 1075,766.2 1074.5,766.3 1074,766.4 1073.5,766.6 1073,766.7 1072.5,766.8 1072,767 1071.5,767.1 1071,767.2 1070.5,767.4 1070,767.5 1069.5,767.6 1069,767.8 1068.5,767.9 1068,768 1067.5,768.2 1067,768.3 1066.5,769.6 1066,770.3 1065.5,771 1065,771.7 1064.5,772.4 1064,773.1 1063.5,773.8 1063,774.5 1062.5,775.1 1062,775.8 1061.5,776.5 1061,777.2 1060.5,777.9 1060,778.6 1059.5,779.2 1059,779.6 1058.5,780 1058,780.4 1057.5,780.8 1057,781.2 1056.5,781.6 1056,782.1 1055.5,782.5 1055,782.9 1054.5,783.3 1054,783.6 1053.5,783.9 1053,784.2 1052.5,784.6 1052,784.9 1051.5,785.2 1051,785.5 1050.5,785.8 1050,786.1 1049.5,786.5 1049,786.8 1048.5,787.1 1048,787.4 1047.5,788 1047,789 1046.5,790 1046,791 1045.5,791.9 1045,792.9 1044.5,793.9 1044,794.5 987.5,794.5 987,794.7 986.5,795 986,795.2 985.5,795.3 872.5,795.3 872,795.6 871.5,796 871,796.4 870.5,796.8 870,797.2 869.5,797.7 869,798.1 868.5,798.5 868,798.9 867.5,799.3 867,799.6 819,799.6 818.5,799.8 818,800 817.5,800.1 817,800.3 816.5,800.5 816,802.2 815.5,803.9 815,805.6 814.5,807.3 814,809 783,809 782.5,809.4 782,809.8 781.5,810.2 781,810.6 780.5,811 780,811.4 779.5,811.8 779,812.3 778.5,812.5 761,812.5 760.5,812.6 760,813.1 759.5,813.6 759,814.1 758.5,814.6 758,815.2 757.5,815.7 757,816.2 756.5,816.7 756,817.2 755.5,817.7 755,823.3 754.5,828.5 754,828.8 753.5,829 753,829.2 752.5,829.5 752,829.8 751.5,830 751,830.2 750.5,830.5 750,830.8 749.5,831 749,831.2 748.5,831.5 748,831.8 747.5,832 747,832.1 746.5,832.2 746,832.3 745.5,832.4 745,832.5 744.5,832.6 744,832.7 743.5,832.8 743,832.9 742.5,833 742,833.1 741.5,833.2 741,833.3 740.5,833.4 740,833.5 739.5,833.6 739,833.7 738.5,833.8 738,833.9 737.5,834 737,834.1 736.5,834.2 736,834.3 735.5,834.4 735,834.5 734.5,834.6 734,834.7 733.5,834.8 733,834.9 732.5,835 732,835.1 731.5,835.2 731,835.3 730.5,835.4 730,835.5 729.5,835.6 729,835.6 728.5,835.7 728,835.8 727.5,835.9 727,836 726.5,836 726,836.1 725.5,836.2 725,836.2 724.5,836.3 724,836.4 723.5,836.5 723,836.5 722.5,836.6 722,836.7 721.5,836.8 721,836.9 720.5,836.9 720,837 719.5,837.1 719,837.1 718.5,837.2 718,837.3 717.5,837.4 717,837.4 716.5,837.5 716,837.6 715.5,837.7 715,837.8 714.5,837.8 714,837.9 713.5,838 713,838 712.5,838.1 712,838.2 711.5,838.3 711,838.3 710.5,838.4 710,838.5 709.5,838.6 709,838.6 708.5,838.7 708,838.8 707.5,838.8 707,838.9 706.5,838.9 706,839 705,839.1 704.5,839.1 704,839.2 703.5,839.2 702.5,839.3 702,839.4 701.5,839.4 701,839.5 700.5,839.5 700,839.6 699,839.7 698.5,839.8 698,839.8 697.5,839.9 696.5,839.9 696,840 695.5,840 695,840.1 694,840.2 693.5,840.2 693,840.3 692.5,840.4 692,840.4 691.5,840.5 690.5,840.5 690,840.6 689.5,840.6 689,840.7 688,840.8 687.5,840.9 687,840.9 686.5,841 686,841 685.5,841.1 685,841.3 684.5,841.4 684,841.5 683.5,841.7 683,841.8 682.5,841.9 682,842.1 681.5,842.2 681,842.3 680.5,842.5 680,842.6 679.5,842.7 679,842.9 678.5,843 678,843.1 677.5,843.3 677,843.4 676.5,843.5 676,843.7 675.5,843.8 675,843.9 674.5,844.1 674,844.2 673.5,844.3 673,844.5 672.5,844.6 672,844.7 671.5,844.9 671,845 670.5,845.3 670,845.5 669.5,845.8 669,846 668.5,846.3 668,846.5 667.5,846.8 667,847.1 666.5,847.3 666,847.6 665.5,847.8 665,848.1 664.5,848.3 664,848.6 663.5,848.7 663,848.7 662.5,848.8 662,848.8 661.5,848.9 661,848.9 660.5,849 660,849 659.5,849.1 659,849.1 658.5,849.2 658,849.2 657.5,849.3 657,849.3 656.5,849.4 656,849.4 655.5,849.5 655,849.5 654.5,849.6 654,849.6 653.5,849.7 653,849.8 652.5,849.8 652,849.9 651.5,849.9 651,850 650.5,850 650,850.1 649.5,850.1 649,850.2 648.5,850.2 648,850.3 647.5,850.3 647,850.4 646.5,850.4 646,850.5 645.5,850.5 645,850.6 644.5,850.6 644,850.7 643.5,850.8 643,850.8 642.5,850.9 642,850.9 641.5,851 641,851 640.5,851.1 640,851.1 639.5,851.2 639,851.2 638.5,851.3 638,851.3 637.5,851.4 637,851.4 636.5,851.5 636,851.5 635.5,851.6 635,851.6 634.5,851.7 634,851.7 633.5,851.8 633,851.9 632.5,851.9 632,852 627,851.9 624.5,851.8 622,851.8 619.5,851.7 617.5,851.7 617,852 616.5,852.3 616,852.6 615.5,852.8 615,853.1 614.5,853.4 614,853.7 613.5,854 613,854.3 612.5,854.6 612,854.9 611.5,855.1 611,855.4 610.5,855.7 610,856 609.5,856.1 609,856.2 608.5,856.3 608,856.4 607.5,856.5 607,856.6 606.5,856.7 606,856.8 605.5,856.9 605,857 604.5,857.1 604,857.2 603.5,857.2 603,857.3 602.5,857.4 602,857.5 601.5,857.6 601,857.7 600.5,857.8 600,857.9 599.5,858 599,858.1 598.5,858.2 598,858.3 597.5,858.4 597,858.5 596.5,858.4 596,858.2 595.5,858.1 595,857.9 594.5,857.8 594,857.7 593.5,857.5 593,857.4 592.5,857.2 592,857.1 591.5,857 591,856.8 590.5,856.7 590,856.6 589.5,856.4 589,856.3 588.5,856.1 588,856 587.5,855.8 587,855.6 586.5,855.4 586,855.2 585.5,855.1 585,854.9 584.5,854.7 584,854.5 583.5,854.3 583,854.1 582.5,853.9 582,853.8 581.5,853.6 581,853.4 580.5,853.2 580,853 579.5,852.9 579,852.7 578.5,852.5 578,852.4 577.5,852.2 577,852.1 576.5,852 576,851.8 575.5,851.6 575,851.5 574.5,851.4 574,851.2 573.5,851 573,850.9 572.5,850.8 572,850.6 571.5,850.5 571,850.3 570.5,850.1 570,850 558,849.9 546,849.9 534,849.8 522,849.8 510,849.7 499.5,849.7 497.5,849.6 495.5,849.6 493.5,849.5 491.5,849.4 489.5,849.4 487.5,849.3 485.5,849.3 483.5,849.2 481.5,849.1 479.5,849.1 477.5,849 475.5,848.9 473.5,848.9 471.5,848.8 469.5,848.8 467.5,848.7 467,848.6 466.5,848.5 466,848.4 465.5,848.3 465,848.2 464.5,848.1 464,848 463.5,847.9 463,847.8 462.5,847.7 462,847.6 461.5,847.5 461,847.4 460.5,847.3 460,847.2 459.5,847.1 459,847 458.5,846.9 458,846.8 457.5,846.7 457,846.6 456.5,846.5 456,846.4 455.5,846.3 455,846.2 454.5,846.1 454,846 453.5,845.9 453,845.8 452.5,845.7 452,845.6 451.5,845.5 451,845.4 450.5,845.3 450,845.2 449.5,845.1 449,845 448.5,844.9 448,844.7 447.5,844.5 447,844.3 446.5,844.1 446,843.9 445.5,843.7 445,843.5 444.5,843.3 444,843.1 443.5,842.9 443,842.7 442.5,842.5 442,842.4 441.5,842.2 441,842 440.5,841.8 440,841.6 439.5,841.4 439,841.2 438.5,841 438,840.8 437.5,840.6 437,840.4 436.5,840.2 436,840 435.5,839.7 435,839.4 434.5,839.1 434,838.8 433.5,838.4 433,838.1 432.5,837.8 432,837.5 431.5,837.2 431,836.9 430.5,836.6 430,836.2 429.5,835.9 429,835.6 428.5,835.3 428,835 427.5,834.7 427,834.4 426.5,834.1 426,833.8 425.5,833.4 425,833.1 424.5,832.8 424,832.5 423.5,832.3 423,832.1 422.5,831.9 422,831.7 421.5,831.5 421,831.2 420.5,831 420,830.8 419.5,830.6 419,830.4 418.5,830.2 418,830 417.5,829.8 417,829.6 416.5,829.4 416,829.2 415.5,829 415,828.8 414.5,828.5 414,828.3 413.5,828.1 413,827.9 412.5,827.7 412,827.5 411.5,827.4 411,827.4 410.5,827.3 410,827.2 409.5,827.1 409,827 408.5,827 408,826.9 407.5,826.8 407,826.8 406.5,826.7 406,826.6 405.5,826.5 405,826.5 404.5,826.4 404,826.3 403.5,826.2 403,826.1 402.5,826.1 402,826 394.5,825.9 387,825.9 379.5,825.8 160.5,825.8 160,825.9 159.5,826 159,826.2 158.5,826.3 158,826.5 157.5,826.6 157,826.7 156.5,826.9 156,827 155,827.1 154,827.1 153,827.2 152,827.2 151,827.3 150,827.3 149,827.4 148,827.4 147,827.5 146,827.5 145,827.6 144,827.6 143,827.7 142,827.7 141,827.8 140,827.8 139,827.9 138,827.9 137,828 136,828 135,828.1 134.5,828.1 134,828.2 133.5,828.4 133,828.6 132.5,828.7 132,828.9 131.5,829 131,829.2 128,829.3 125,829.3 122,829.4 119,829.4 116,829.5 113,829.5 110,829.6 107,829.6 104,829.7 103.5,829.8 103,829.8 102.5,829.9 102,830 101.5,830 101,830.1 100.5,830.1 100,830.2 99.5,830.3 99,830.4 98.5,830.5 98,830.5 97.5,830.6 97,830.7 96.5,830.8 96,830.9 95.5,831 95,831 94.5,831.1 94,831.2 93,831.3 89.5,831.3 86,831.4 82.5,831.4 79,831.5 75.5,831.6 72,831.6 68.5,831.7 65,831.7 61.5,831.8 60.5,831.8 60,831.9 59.5,832 59,832.1 58.5,832.3 58,832.4 57.5,832.5 57,832.6 56.5,832.8 56,832.9 55.5,833 55,833.1 54.5,833.3 54,833.4 53.5,833.5 53,833.6 52.5,833.8 52,833.9 51.5,834 51,834.1 50.5,834.3 50,834.4 49.5,834.9 49,835.4 48.5,835.9 48,836.4 47.5,836.8 47,837.3 46.5,837.8 46,838.3 45.5,838.5 45,838.6 44.5,838.7 44,838.8 43.5,838.8 43,838.9 42.5,839 42,839 41.5,839.1 41,839.2 40.5,839.3 40,839.3 39.5,839.4 39,839.5 38.5,839.6 38,839.6 37.5,839.7 37,839.8 36.5,839.8 36,839.9 35.5,840 35,840.1 34.5,840.1 34,840.2 33.5,840.3 33,840.3 32.5,840.4 32,840.5 31.5,840.6 31,840.7 30.5,840.9 30,841 29.5,841.2 29,841.4 28.5,841.5 28,841.7 27.5,843.2 27,844.7 26.5,846.2 26,847.7 25.5,849.1 25,850.6 24.5,852.1 24,853.6 23.5,853.7 23,853.9 22.5,854 22,854.1 21.5,854.2 21,854.4 20.5,854.5 20,854.6 19.5,854.7 19,854.9 18.5,855 18,855.1 17.5,855.2 17,855.4 16.5,855.5 16,855.6 15.5,855.7 15,855.9 14.5,856 14,856.1 13.5,856.2 13,858.1 12.5,860 11.5,860.1 10.5,860.2 9.5,860.2 8.5,860.3 7.5,860.4 6.5,860.5 5.5,860.6 4.5,860.6 3.5,860.7 2.5,860.8 1.5,860.9 0.5,861 0,861" fill="url(#po)"/>
<polygon points="0,861 1,860.9 2,860.8 3,860.8 4,860.7 5,860.6 6,860.5 7,860.4 8,860.4 9,860.3 10,860.2 11,860.1 12,860 12.5,860 13,858.1 13.5,856.2 14,856.1 14.5,856 15,855.9 15.5,855.7 16,855.6 16.5,855.5 17,855.4 17.5,855.2 18,855.1 18.5,855 19,854.9 19.5,854.7 20,854.6 20.5,854.5 21,854.4 21.5,854.2 22,854.1 22.5,854 23,853.9 23.5,853.7 24,853.6 24.5,852.1 25,850.6 25.5,849.1 26,847.7 26.5,846.2 27,844.7 27.5,843.2 28,841.7 28.5,841.5 29,841.4 29.5,841.2 30,841 30.5,840.9 31,840.7 31.5,840.6 32,840.5 32.5,840.4 33,840.3 33.5,840.3 34,840.2 34.5,840.1 35,840.1 35.5,840 36,839.9 36.5,839.8 37,839.8 37.5,839.7 38,839.6 38.5,839.6 39,839.5 39.5,839.4 40,839.3 40.5,839.3 41,839.2 41.5,839.1 42,839 42.5,839 43,838.9 43.5,838.8 44,838.8 44.5,838.7 45,838.6 45.5,838.5 46,838.3 46.5,837.8 47,837.3 47.5,836.8 48,836.4 48.5,835.9 49,835.4 49.5,834.9 50,834.4 50.5,834.3 51,834.1 51.5,834 52,833.9 52.5,833.8 53,833.6 53.5,833.5 54,833.4 54.5,833.3 55,833.1 55.5,833 56,832.9 56.5,832.8 57,832.6 57.5,832.5 58,832.4 58.5,832.3 59,832.1 59.5,832 60,831.9 60.5,831.8 64,831.7 67.5,831.7 71,831.6 74.5,831.6 78,831.5 81.5,831.5 85,831.4 88.5,831.3 92,831.3 94,831.2 94.5,831.1 95,831 95.5,831 96,830.9 96.5,830.8 97,830.7 97.5,830.6 98,830.5 98.5,830.5 99,830.4 99.5,830.3 100,830.2 100.5,830.1 101,830.1 101.5,830 102,830 102.5,829.9 103,829.8 103.5,829.8 104,829.7 107,829.6 110,829.6 113,829.5 116,829.5 119,829.4 122,829.4 125,829.3 128,829.3 131,829.2 131.5,829 132,828.9 132.5,828.7 133,828.6 133.5,828.4 134,828.2 134.5,828.1 135.5,828 136.5,828 137.5,827.9 138.5,827.9 139.5,827.8 140.5,827.8 141.5,827.7 142.5,827.7 143.5,827.6 144.5,827.6 145.5,827.5 146.5,827.5 147.5,827.4 148.5,827.4 149.5,827.3 150.5,827.3 151.5,827.2 152.5,827.2 153.5,827.1 154.5,827.1 155.5,827 156,827 156.5,826.9 157,826.7 157.5,826.6 158,826.5 158.5,826.3 159,826.2 159.5,826 160,825.9 160.5,825.8 462,825.8 462.5,826.8 463,827.8 754.5,827.8 755,823.3 755.5,817.7 756,817.2 756.5,816.7 757,816.2 757.5,815.7 758,815.2 758.5,814.6 759,814.1 759.5,813.6 760,813.1 760.5,812.6 761,812.5 778.5,812.5 779,812.3 779.5,811.8 780,811.4 780.5,811 781,810.6 781.5,810.2 782,809.8 782.5,809.4 783,809 814,809 814.5,807.3 815,805.6 815.5,803.9 816,802.2 816.5,800.5 817,800.3 817.5,800.1 818,800 818.5,799.8 819,799.6 867,799.6 867.5,799.3 868,798.9 868.5,798.5 869,798.1 869.5,797.7 870,797.2 870.5,796.8 871,796.4 871.5,796 872,795.6 872.5,795.3 985.5,795.3 986,795.2 986.5,795 987,794.7 987.5,794.5 1044,794.5 1044.5,793.9 1045,792.9 1045.5,791.9 1046,791 1046.5,790 1047,789 1047.5,788 1048,787.4 1048.5,787.1 1049,786.8 1049.5,786.5 1050,786.1 1050.5,785.8 1051,785.5 1051.5,785.2 1052,784.9 1052.5,784.6 1053,784.2 1053.5,783.9 1054,783.6 1054.5,783.3 1055,782.9 1055.5,782.5 1056,782.1 1056.5,781.6 1057,781.2 1057.5,780.8 1058,780.4 1058.5,780 1059,779.6 1059.5,779.2 1060,778.6 1060.5,777.9 1061,777.2 1061.5,776.5 1062,775.8 1062.5,775.1 1063,774.5 1063.5,773.8 1064,773.1 1064.5,772.4 1065,771.7 1065.5,771 1066,770.3 1066.5,769.6 1067,768.3 1067.5,768.2 1068,768 1068.5,767.9 1069,767.8 1069.5,767.6 1070,767.5 1070.5,767.4 1071,767.2 1071.5,767.1 1072,767 1072.5,766.8 1073,766.7 1073.5,766.6 1074,766.4 1074.5,766.3 1075,766.2 1075.5,766 1076,765.9 1076.5,765.8 1077,765.1 1077.5,763.6 1078,762.1 1078.5,760.5 1079,759 1079.5,757.5 1080,756 1080.5,755.4 1081,754.8 1081.5,754.3 1082,753.7 1082.5,753.1 1083,752.5 1083.5,751.9 1084,751.3 1084.5,750.8 1085,750.2 1085.5,749.6 1086,749 1086.5,748.4 1087,747.8 1087.5,747.3 1088,746.7 1088.5,746.1 1089,745.5 1089.5,744.9 1090,744.7 1090.5,744.6 1091,744.5 1091.5,744.4 1092,744.4 1092.5,744.3 1093,744.2 1093.5,744.1 1094,744.1 1094.5,744 1095,743.9 1095.5,743.8 1096,743.8 1096.5,743.7 1097,743.6 1097.5,743.5 1098,743.5 1098.5,743.4 1099,743.3 1099.5,743.2 1100,743.2 1100.5,743.1 1101,743 1101.5,741.5 1102,740 1102.5,738.6 1103,737.1 1103.5,735.6 1104,734.1 1104.5,732.6 1105,731.2 1105.5,729.7 1106,728.5 1106.5,728.4 1107,728.3 1107.5,728.2 1108,728.1 1108.5,728 1109,727.9 1109.5,727.8 1110,727.7 1110.5,727.6 1111,727.6 1111.5,727.5 1112,727.4 1112.5,727.3 1113,727.2 1113.5,727.1 1114,727 1114.5,725.8 1115,724.6 1115.5,723.4 1116,722.2 1116.5,721.1 1117,719.9 1117.5,718.7 1118,717.5 1118.5,716.3 1119,714.9 1119.5,713 1120,711.2 1120.5,709.3 1121,707.5 1121.5,705.6 1122,703.8 1122.5,702 1123,700.1 1123.5,698.3 1124,697.7 1124.5,697.5 1125,697.2 1125.5,697 1126,696.7 1126.5,696.5 1127,696.3 1177,696.3 1177.5,696.1 1178,696 1178.5,695.9 1179,695.8 1179.5,695.6 1180,695.5 1180.5,695.4 1181,695.3 1181.5,695.1 1182,695 1182.5,694.9 1183,694.7 1183.5,694.6 1184,694.5 1184.5,694.4 1185,694.2 1185.5,694.1 1186,694 1186.5,693.8 1187,693.7 1187.5,693.6 1188,693.5 1188.5,693.3 1189,693.2 1189.5,693.1 1190,693 1190.5,692.9 1191,692.8 1191.5,692.7 1192,692.7 1192.5,692.6 1193,692.5 1193.5,692.4 1194,692.4 1194.5,692.3 1195,692.2 1195.5,692.1 1196,692 1196.5,692 1197,691.9 1197.5,691.8 1198,691.7 1198.5,691.7 1199,691.6 1199.5,691.5 1200,691.4 1200.5,691.3 1201,691.3 1201.5,691.2 1202,691.1 1202.5,691 1203,691 1203.5,690.9 1204,690.8 1204.5,690.7 1205,690.7 1205.5,690.6 1206,690.5 1207.5,690.4 1209,690.4 1210.5,690.3 1212,690.2 1213.5,690.1 1215,690.1 1216.5,690 1218,689.9 1219.5,689.8 1220.5,689.8 1221,687 1221.5,684.2 1222,681.5 1222.5,678.7 1223,675.9 1223.5,673.1 1224,670.2 1224.5,667.3 1225,664.4 1225.5,661.5 1226,658.5 1226.5,655.6 1227,652.7 1227.5,652.6 1228,652.5 1228.5,652.4 1229,652.3 1229.5,652.3 1230,652.2 1230.5,652.1 1231,652 1231.5,651.9 1232,651.8 1232.5,651.7 1233,651.6 1233.5,651.5 1234,651.5 1234.5,651.4 1235,651.3 1235.5,651.2 1236,651.1 1236.5,651 1237,647 1237.5,642 1238,637 1238.5,634.8 1239,634.5 1239.5,634.2 1240,633.9 1240.5,633.6 1241,633.3 1241.5,633 1242,632.7 1242.5,632.4 1243,632 1243.5,631.7 1244,631.4 1244.5,631.1 1245,630.2 1245.5,629 1246,627.7 1246.5,626.4 1247,625.2 1247.5,623.9 1248,622.6 1248.5,621.3 1249,620.1 1249.5,618.8 1250,617.5 1250.5,616.2 1251,614.9 1251.5,613.5 1252,612.2 1252.5,610.9 1253,609.6 1253.5,608.3 1254,607 1254.5,605.7 1255,604.5 1255.5,603.4 1256,602.3 1256.5,601.1 1257,600 1283,600 1283.5,599.9 1284,599.4 1284.5,598.9 1285,598.4 1285.5,597.9 1286,597.4 1286.5,596.9 1287,596.7 1287.5,596.6 1288,596.5 1288.5,596.4 1289,596.2 1289.5,596.1 1290,596 1290.5,595.9 1291,595.8 1291.5,595.7 1292,595.5 1292.5,595.4 1293,595.3 1293.5,595.2 1294,595.1 1294.5,594.9 1295,594.8 1295.5,594.7 1296,594.6 1296.5,594.5 1297,594.4 1297.5,594.2 1298,594.1 1298.5,594 1299,593.9 1299.5,593.8 1300,593.7 1300.5,593.5 1301,593.4 1301.5,593.3 1302,593.2 1302.5,593.1 1303,592.8 1303.5,592.3 1304,591.8 1304.5,591.2 1305,590.7 1305.5,590.2 1306,589.7 1306.5,589.6 1307,589.5 1307.5,589.3 1308,589.2 1308.5,589.1 1309,589 1309.5,588.8 1310,588.7 1310.5,588.6 1311,588.5 1311.5,588.3 1312,588.2 1312.5,588.1 1313,588 1313.5,587.9 1314,587.7 1314.5,587.6 1315,587.5 1315.5,587.4 1316,587.2 1316.5,587.1 1317,587 1317.5,586.9 1318,586.7 1318.5,586.6 1319,586.5 1320,586.4 1321,586.4 1322,586.3 1323,586.2 1324,586.2 1325,586.1 1326,586 1327,586 1328,585.9 1329,585.8 1330,585.8 1331,585.7 1332,585.6 1333,585.6 1334,585.5 1335,585.4 1336,585.4 1337,585.3 1338,585.2 1339,585.2 1340,585.1 1341,585 1341.5,585 1342,584.8 1342.5,584.5 1343,584.3 1343.5,584 1344,583.8 1344.5,583.5 1345,583.3 1345.5,583 1346,582.8 1346.5,582.6 1348,582.5 1349.5,582.5 1351,582.4 1352.5,582.3 1354,582.3 1355.5,582.2 1357,582.1 1358.5,582.1 1360,582 1361.5,581.9 1363,581.9 1364.5,581.8 1366,581.8 1367,581.7 1367.5,581.6 1368,581.4 1368.5,581.2 1369,581 1369.5,580.8 1370,580.6 1370.5,580.4 1371,580.2 1371.5,580 1372,579.8 1372.5,579.6 1373,579.4 1373.5,579.2 1374,579 1374.5,578.8 1375,578.6 1375.5,578.4 1376,578.2 1376.5,578 1377,577.8 1377.5,577.6 1378,577.4 1378.5,577.2 1379,577 1379.5,576.8 1380,576.6 1380.5,576.4 1381,576.2 1381.5,576 1382,575.8 1382.5,575.6 1383,575.4 1383.5,575.2 1384.5,575.1 1385.5,575 1386.5,575 1387.5,574.9 1388.5,574.8 1389.5,574.7 1390.5,574.7 1391.5,574.6 1392.5,574.5 1393.5,574.4 1394.5,574.4 1395.5,574.3 1396.5,574.2 1397.5,574.1 1398.5,574.1 1399.5,574 1400.5,573.9 1401.5,573.8 1402.5,573.8 1403.5,573.7 1404.5,573.6 1405.5,573.5 1406.5,573.5 1407.5,573.4 1408.5,573.3 1409.5,573.2 1410.5,573.2 1411.5,573.1 1412.5,573 1413,572.6 1413.5,572.2 1414,571.8 1414.5,571.4 1415,571 1415.5,570.6 1416,570.2 1416.5,569.8 1417,569.4 1417.5,569 1418,568.6 1418.5,568.2 1419,567.8 1419.5,567.4 1420,567 1420.5,566.9 1421,566.8 1421.5,566.7 1422,566.5 1422.5,566.4 1423,566.3 1423.5,566.2 1424,566.1 1424.5,566 1425,565.9 1425.5,565.7 1426,565.6 1426.5,565.5 1427,565.4 1427.5,565.3 1428,565.2 1428.5,565.1 1429,565 1429.5,564.8 1430,564.7 1430.5,564.6 1431,564.5 1431.5,564.4 1432,564.3 1432.5,564.2 1433,564 1433.5,563.9 1434,563.8 1434.5,563.7 1435,562.5 1435.5,561.4 1436,560.2 1436.5,559.1 1437,557.9 1437.5,556.8 1438,555.6 1438.5,554.5 1439,553.3 1439.5,552.4 1440,552.2 1440.5,552.1 1441,552 1441.5,551.9 1442,551.8 1442.5,551.6 1443,551.5 1443.5,551.4 1444,551.2 1444.5,551.1 1445,551 1445.5,550.9 1446,550.8 1446.5,550.6 1447,550.5 1447.5,550.4 1448,550.2 1448.5,550.1 1449,550 1449.5,549.7 1450,549.4 1450.5,549.1 1451,548.8 1451.5,548.5 1452,548.2 1452.5,547.8 1453,547.5 1453.5,547.2 1454,546.9 1454.5,546.6 1455,546.3 1455.5,546 1456,545.2 1456.5,544.4 1457,543.7 1457.5,542.9 1458,542.1 1458.5,541.3 1459,540.3 1459.5,539.1 1460,537.8 1460.5,536.6 1461,535.4 1461.5,534.2 1462,533 1462.5,531.9 1463,530.9 1463.5,529.8 1464,528.7 1464.5,527.7 1465,526.6 1465.5,526.5 1466,526.4 1466.5,526.4 1467,526.3 1467.5,526.2 1468,526.1 1468.5,526 1469,526 1469.5,525.9 1470,525.8 1470.5,525.7 1471,525.6 1471.5,525.6 1472,525.5 1472.5,525.4 1473,525.3 1473.5,525.2 1474,525.2 1474.5,525.1 1475,525 1475.5,524.9 1476,524.8 1476.5,524.8 1477,524.7 1477.5,524.6 1478,524.5 1478.5,524.4 1479,524.4 1479.5,524.3 1480,524.2 1480.5,524.1 1481,524 1481.5,523.9 1482,523.8 1482.5,523.6 1483,523.4 1483.5,523.2 1484,523 1484.5,522.9 1485,522.7 1485.5,522.5 1486,522.3 1486.5,522.2 1487,522 1487.5,521.8 1488,521.7 1668.5,521.7 1669,520.8 1669.5,520 1670,519.1 1670.5,518.2 1671,517.4 1671.5,516.5 1672,515.6 1672.5,514.7 1673,513.9 1673.5,513 1674,512.1 1674.5,511.3 1675,510.4 1675.5,510.3 1676,510.1 1676.5,510 1677,509.8 1677.5,509.7 1678,509.6 1678.5,509.5 1712,509.5 1712.5,509.4 1713,509.2 1713.5,509.1 1714,508.9 1714.5,508.8 1715,508.7 1715.5,508.5 1716,508.4 1716.5,508.2 1717,508.1 1717.5,508 1718,507.8 1718.5,507.7 1719,507.5 1719.5,507.4 1720,507.3 1720.5,507.1 1721,506.8 1721.5,506.6 1722,506.3 1722.5,506.1 1723,505.8 1723.5,505.5 1724,505.3 1724.5,505 1725,504.8 1725.5,504.5 1726,504.3 1726.5,504 1727,503.2 1727.5,502.2 1728,501.2 1728.5,500.2 1729,499.2 1729.5,498.3 1730,497.3 1730.5,496.3 1731,495.3 1731.5,494.3 1732,494.2 1732.5,494.1 1733,493.9 1733.5,493.8 1734,493.7 1734.5,493.6 1735,493.4 1735.5,493.3 1736,493.2 1736.5,493.1 1737,492.9 1737.5,492.8 1738,492.7 1738.5,492 1739,491.3 1739.5,490.7 1740,490 1740.5,489.3 1741,488.6 1741.5,488 1742,487.3 1742.5,486.6 1743,485.8 1743.5,484.6 1744,483.5 1744.5,482.4 1745,481.3 1745.5,480.2 1746,479.1 1746.5,477.9 1747,476.8 1747.5,475.7 1748,474.6 1748.5,473.5 1749,472.4 1749.5,471 1750,469.3 1750.5,467.6 1751,465.9 1751.5,464.2 1752,462.5 1752.5,460.7 1753,459 1753.5,457.3 1754,455.6 1754.5,454.4 1755,453.1 1755.5,451.9 1756,450.7 1756.5,449.5 1757,448.2 1757.5,447.4 1758,447.1 1758.5,446.8 1759,446.5 1759.5,446.3 1760,446 1760.5,445.7 1761,445.4 1761.5,445.1 1762,444.8 1762.5,444.6 1763,444.3 1763.5,444 1764,443.7 1764.5,443.4 1765,443.1 1765.5,442.9 1766,442.6 1766.5,442.3 1767,442 1767.5,440.4 1768,438.8 1768.5,437.2 1769,435.5 1769.5,433.9 1770,432.3 1770.5,430.7 1771,429.1 1771.5,427.5 1772,425.8 1772.5,424 1773,422.3 1773.5,420.5 1774,418.7 1774.5,417 1775,415.2 1775.5,415.1 1776,414.9 1776.5,414.8 1777,414.6 1777.5,414.5 1778,414.4 1778.5,414.2 1779,414.1 1779.5,414 1780,413.8 1780.5,413.7 1781,413.6 1781.5,413.4 1782,413.3 1782.5,413.1 1783,413 1783.5,412.1 1784,411.1 1784.5,410.2 1785,409.3 1785.5,408.3 1786,407.4 1786.5,406.5 1787,405.5 1787.5,404.6 1788,403.7 1788.5,402.7 1789,401.8 1789.5,400.9 1790,400.6 1790.5,400.4 1791,400.2 1791.5,400 1792,399.9 1792.5,399.7 1793,399.5 1793.5,399.3 1794,399.1 1794.5,399 1809,399 1809.5,396.2 1810,393.5 1810.5,390.7 1811,387.9 1811.5,385.2 1812,382.4 1812.5,381.2 1813,380.9 1813.5,380.7 1814,380.4 1814.5,380.2 1815,379.9 1815.5,379.7 1852.5,379.7 1853,378.1 1853.5,376.6 1854,375 1854,375 1853.5,376.6 1853,378.1 1852.5,379.7 1815.5,379.7 1815,379.9 1814.5,380.2 1814,380.4 1813.5,380.7 1813,380.9 1812.5,381.2 1812,382.4 1811.5,385.2 1811,387.9 1810.5,390.7 1810,393.5 1809.5,396.2 1809,399 1794.5,399 1794,399.1 1793.5,399.3 1793,399.5 1792.5,399.7 1792,399.9 1791.5,400 1791,400.2 1790.5,400.4 1790,400.6 1789.5,400.9 1789,401.8 1788.5,402.7 1788,403.7 1787.5,404.6 1787,405.5 1786.5,406.5 1786,407.4 1785.5,408.3 1785,409.3 1784.5,410.2 1784,411.1 1783.5,412.1 1783,413 1782.5,413.1 1782,413.3 1781.5,413.4 1781,413.6 1780.5,413.7 1780,413.8 1779.5,414 1779,414.1 1778.5,414.2 1778,414.4 1777.5,414.5 1777,414.6 1776.5,414.8 1776,414.9 1775.5,415.1 1775,415.2 1774.5,417 1774,418.7 1773.5,420.5 1773,422.3 1772.5,424 1772,425.8 1771.5,427.5 1771,429.1 1770.5,430.7 1770,432.3 1769.5,433.9 1769,435.5 1768.5,437.2 1768,438.8 1767.5,440.4 1767,442 1766.5,442.3 1766,442.6 1765.5,442.9 1765,443.1 1764.5,443.4 1764,443.7 1763.5,444 1763,444.3 1762.5,444.6 1762,444.8 1761.5,445.1 1761,445.4 1760.5,445.7 1760,446 1759.5,446.3 1759,446.5 1758.5,446.8 1758,447.1 1757.5,447.4 1757,448.2 1756.5,449.5 1756,450.7 1755.5,451.9 1755,453.1 1754.5,454.4 1754,455.6 1753.5,457.3 1753,459 1752.5,460.7 1752,462.5 1751.5,464.2 1751,465.9 1750.5,467.6 1750,469.3 1749.5,471 1749,472.4 1748.5,473.5 1748,474.6 1747.5,475.7 1747,476.8 1746.5,477.9 1746,479.1 1745.5,480.2 1745,481.3 1744.5,482.4 1744,483.5 1743.5,484.6 1743,485.8 1742.5,486.6 1742,487.3 1741.5,488 1741,488.6 1740.5,489.3 1740,490 1739.5,490.7 1739,491.3 1738.5,492 1738,492.7 1737.5,492.8 1737,492.9 1736.5,493.1 1736,493.2 1735.5,493.3 1735,493.4 1734.5,493.6 1734,493.7 1733.5,493.8 1733,493.9 1732.5,494.1 1732,494.2 1731.5,494.3 1731,495.3 1730.5,496.3 1730,497.3 1729.5,498.3 1729,499.2 1728.5,500.2 1728,501.2 1727.5,502.2 1727,503.2 1726.5,504 1726,504.3 1725.5,504.5 1725,504.8 1724.5,505 1724,505.3 1723.5,505.5 1723,505.8 1722.5,506.1 1722,506.3 1721.5,506.6 1721,506.8 1720.5,507.1 1720,507.3 1719.5,507.4 1719,507.5 1718.5,507.7 1718,507.8 1717.5,508 1717,508.1 1716.5,508.2 1716,508.4 1715.5,508.5 1715,508.7 1714.5,508.8 1714,508.9 1713.5,509.1 1713,509.2 1712.5,509.4 1712,509.5 1678.5,509.5 1678,509.6 1677.5,509.7 1677,509.8 1676.5,510 1676,510.1 1675.5,510.3 1675,510.4 1674.5,511.3 1674,512.1 1673.5,513 1673,513.9 1672.5,514.7 1672,515.6 1671.5,516.5 1671,517.4 1670.5,518.2 1670,519.1 1669.5,520 1669,520.8 1668.5,521.7 1488,521.7 1487.5,521.8 1487,522 1486.5,522.2 1486,522.3 1485.5,522.5 1485,522.7 1484.5,522.9 1484,523 1483.5,523.2 1483,523.4 1482.5,523.6 1482,523.8 1481.5,523.9 1481,524 1480.5,524.1 1480,524.2 1479.5,524.3 1479,524.4 1478.5,524.4 1478,524.5 1477.5,524.6 1477,524.7 1476.5,524.8 1476,524.8 1475.5,524.9 1475,525 1474.5,525.1 1474,525.2 1473.5,525.2 1473,525.3 1472.5,525.4 1472,525.5 1471.5,525.6 1471,525.6 1470.5,525.7 1470,525.8 1469.5,525.9 1469,526 1468.5,526 1468,526.1 1467.5,526.2 1467,526.3 1466.5,526.4 1466,526.4 1465.5,526.5 1465,526.6 1464.5,527.7 1464,528.7 1463.5,529.8 1463,530.9 1462.5,531.9 1462,533 1461.5,534.2 1461,535.4 1460.5,536.6 1460,537.8 1459.5,539.1 1459,540.3 1458.5,541.3 1458,542.1 1457.5,542.9 1457,543.7 1456.5,544.4 1456,545.2 1455.5,546 1455,546.3 1454.5,546.6 1454,546.9 1453.5,547.2 1453,547.5 1452.5,547.8 1452,548.2 1451.5,548.5 1451,548.8 1450.5,549.1 1450,549.4 1449.5,549.7 1449,550 1448.5,550.1 1448,550.2 1447.5,550.4 1447,550.5 1446.5,550.6 1446,550.8 1445.5,550.9 1445,551 1444.5,551.1 1444,551.2 1443.5,551.4 1443,551.5 1442.5,551.6 1442,551.8 1441.5,551.9 1441,552 1440.5,552.1 1440,552.2 1439.5,552.4 1439,553.3 1438.5,554.5 1438,555.6 1437.5,556.8 1437,557.9 1436.5,559.1 1436,560.2 1435.5,561.4 1435,562.5 1434.5,563.7 1434,563.8 1433.5,563.9 1433,564 1432.5,564.2 1432,564.3 1431.5,564.4 1431,564.5 1430.5,564.6 1430,564.7 1429.5,564.8 1429,565 1428.5,565.1 1428,565.2 1427.5,565.3 1427,565.4 1426.5,565.5 1426,565.6 1425.5,565.7 1425,565.9 1424.5,566 1424,566.1 1423.5,566.2 1423,566.3 1422.5,566.4 1422,566.5 1421.5,566.7 1421,566.8 1420.5,566.9 1420,567 1419.5,567.4 1419,567.8 1418.5,568.2 1418,568.6 1417.5,569 1417,569.4 1416.5,569.8 1416,570.2 1415.5,570.6 1415,571 1414.5,571.4 1414,571.8 1413.5,572.2 1413,572.6 1412.5,573 1411.5,573.1 1410.5,573.2 1409.5,573.2 1408.5,573.3 1407.5,573.4 1406.5,573.5 1405.5,573.5 1404.5,573.6 1403.5,573.7 1402.5,573.8 1401.5,573.8 1400.5,573.9 1399.5,574 1398.5,574.1 1397.5,574.1 1396.5,574.2 1395.5,574.3 1394.5,574.4 1393.5,574.4 1392.5,574.5 1391.5,574.6 1390.5,574.7 1389.5,574.7 1388.5,574.8 1387.5,574.9 1386.5,575 1385.5,575 1384.5,575.1 1383.5,575.2 1383,575.4 1382.5,575.6 1382,575.8 1381.5,576 1381,576.2 1380.5,576.4 1380,576.6 1379.5,576.8 1379,577 1378.5,577.2 1378,577.4 1377.5,577.6 1377,577.8 1376.5,578 1376,578.2 1375.5,578.4 1375,578.6 1374.5,578.8 1374,579 1373.5,579.2 1373,579.4 1372.5,579.6 1372,579.8 1371.5,580 1371,580.2 1370.5,580.4 1370,580.6 1369.5,580.8 1369,581 1368.5,581.2 1368,581.4 1367.5,581.6 1367,581.7 1365.5,581.8 1364,581.8 1362.5,581.9 1361,582 1359.5,582 1358,582.1 1356.5,582.2 1355,582.2 1353.5,582.3 1352,582.4 1350.5,582.4 1349,582.5 1347.5,582.6 1346.5,582.6 1346,582.8 1345.5,583 1345,583.3 1344.5,583.5 1344,583.8 1343.5,584 1343,584.3 1342.5,584.5 1342,584.8 1341.5,585 1340.5,585.1 1339.5,585.1 1338.5,585.2 1337.5,585.3 1336.5,585.3 1335.5,585.4 1334.5,585.5 1333.5,585.5 1332.5,585.6 1331.5,585.7 1330.5,585.7 1329.5,585.8 1328.5,585.9 1327.5,585.9 1326.5,586 1325.5,586.1 1324.5,586.1 1323.5,586.2 1322.5,586.3 1321.5,586.3 1320.5,586.4 1319.5,586.5 1319,586.5 1318.5,586.6 1318,586.7 1317.5,586.9 1317,587 1316.5,587.1 1316,587.2 1315.5,587.4 1315,587.5 1314.5,587.6 1314,587.7 1313.5,587.9 1313,588 1312.5,588.1 1312,588.2 1311.5,588.3 1311,588.5 1310.5,588.6 1310,588.7 1309.5,588.8 1309,589 1308.5,589.1 1308,589.2 1307.5,589.3 1307,589.5 1306.5,589.6 1306,589.7 1305.5,590.2 1305,590.7 1304.5,591.2 1304,591.8 1303.5,592.3 1303,592.8 1302.5,593.1 1302,593.2 1301.5,593.3 1301,593.4 1300.5,593.5 1300,593.7 1299.5,593.8 1299,593.9 1298.5,594 1298,594.1 1297.5,594.2 1297,594.4 1296.5,594.5 1296,594.6 1295.5,594.7 1295,594.8 1294.5,594.9 1294,595.1 1293.5,595.2 1293,595.3 1292.5,595.4 1292,595.5 1291.5,595.7 1291,595.8 1290.5,595.9 1290,596 1289.5,596.1 1289,596.2 1288.5,596.4 1288,596.5 1287.5,596.6 1287,596.7 1286.5,596.9 1286,597.4 1285.5,597.9 1285,598.4 1284.5,598.9 1284,599.4 1283.5,599.9 1283,600 1257,600 1256.5,601.1 1256,602.3 1255.5,603.4 1255,604.5 1254.5,605.7 1254,607 1253.5,608.3 1253,609.6 1252.5,610.9 1252,612.2 1251.5,613.5 1251,614.9 1250.5,616.2 1250,617.5 1249.5,618.8 1249,620.1 1248.5,621.3 1248,622.6 1247.5,623.9 1247,625.2 1246.5,626.4 1246,627.7 1245.5,629 1245,630.2 1244.5,631.1 1244,631.4 1243.5,631.7 1243,632 1242.5,632.4 1242,632.7 1241.5,633 1241,633.3 1240.5,633.6 1240,633.9 1239.5,634.2 1239,634.5 1238.5,634.8 1238,637 1237.5,642 1237,647 1236.5,651 1236,651.1 1235.5,651.2 1235,651.3 1234.5,651.4 1234,651.5 1233.5,651.5 1233,651.6 1232.5,651.7 1232,651.8 1231.5,651.9 1231,652 1230.5,652.1 1230,652.2 1229.5,652.3 1229,652.3 1228.5,652.4 1228,652.5 1227.5,652.6 1227,652.7 1226.5,655.6 1226,658.5 1225.5,661.5 1225,664.4 1224.5,667.3 1224,670.2 1223.5,673.1 1223,675.9 1222.5,678.7 1222,681.5 1221.5,684.2 1221,687 1220.5,689.8 1219,689.9 1217.5,689.9 1216,690 1214.5,690.1 1213,690.2 1211.5,690.2 1210,690.3 1208.5,690.4 1207,690.5 1206,690.5 1205.5,690.6 1205,690.7 1204.5,690.7 1204,690.8 1203.5,690.9 1203,691 1202.5,691 1202,691.1 1201.5,691.2 1201,691.3 1200.5,691.3 1200,691.4 1199.5,691.5 1199,691.6 1198.5,691.7 1198,691.7 1197.5,691.8 1197,691.9 1196.5,692 1196,692 1195.5,692.1 1195,692.2 1194.5,692.3 1194,692.4 1193.5,692.4 1193,692.5 1192.5,692.6 1192,692.7 1191.5,692.7 1191,692.8 1190.5,692.9 1190,693 1189.5,693.1 1189,693.2 1188.5,693.3 1188,693.5 1187.5,693.6 1187,693.7 1186.5,693.8 1186,694 1185.5,694.1 1185,694.2 1184.5,694.4 1184,694.5 1183.5,694.6 1183,694.7 1182.5,694.9 1182,695 1181.5,695.1 1181,695.3 1180.5,695.4 1180,695.5 1179.5,695.6 1179,695.8 1178.5,695.9 1178,696 1177.5,696.1 1177,696.3 1127,696.3 1126.5,696.5 1126,696.7 1125.5,697 1125,697.2 1124.5,697.5 1124,697.7 1123.5,698.3 1123,700.1 1122.5,702 1122,703.8 1121.5,705.6 1121,707.5 1120.5,709.3 1120,711.2 1119.5,713 1119,714.9 1118.5,716.3 1118,717.5 1117.5,718.7 1117,719.9 1116.5,721.1 1116,722.2 1115.5,723.4 1115,724.6 1114.5,725.8 1114,727 1113.5,727.1 1113,727.2 1112.5,727.3 1112,727.4 1111.5,727.5 1111,727.6 1110.5,727.6 1110,727.7 1109.5,727.8 1109,727.9 1108.5,728 1108,728.1 1107.5,728.2 1107,728.3 1106.5,728.4 1106,728.5 1105.5,729.7 1105,731.2 1104.5,732.6 1104,734.1 1103.5,735.6 1103,737.1 1102.5,738.6 1102,740 1101.5,741.5 1101,743 1100.5,743.1 1100,743.2 1099.5,743.2 1099,743.3 1098.5,743.4 1098,743.5 1097.5,743.5 1097,743.6 1096.5,743.7 1096,743.8 1095.5,743.8 1095,743.9 1094.5,744 1094,744.1 1093.5,744.1 1093,744.2 1092.5,744.3 1092,744.4 1091.5,744.4 1091,744.5 1090.5,744.6 1090,744.7 1089.5,744.9 1089,745.5 1088.5,746.1 1088,746.7 1087.5,747.3 1087,747.8 1086.5,748.4 1086,749 1085.5,749.6 1085,750.2 1084.5,750.8 1084,751.3 1083.5,751.9 1083,752.5 1082.5,753.1 1082,753.7 1081.5,754.3 1081,754.8 1080.5,755.4 1080,756 1079.5,757.5 1079,759 1078.5,760.5 1078,762.1 1077.5,763.6 1077,765.1 1076.5,765.8 1076,765.9 1075.5,766 1075,766.2 1074.5,766.3 1074,766.4 1073.5,766.6 1073,766.7 1072.5,766.8 1072,767 1071.5,767.1 1071,767.2 1070.5,767.4 1070,767.5 1069.5,767.6 1069,767.8 1068.5,767.9 1068,768 1067.5,768.2 1067,768.3 1066.5,769.6 1066,770.3 1065.5,771 1065,771.7 1064.5,772.4 1064,773.1 1063.5,773.8 1063,774.5 1062.5,775.1 1062,775.8 1061.5,776.5 1061,777.2 1060.5,777.9 1060,778.6 1059.5,779.2 1059,779.6 1058.5,780 1058,780.4 1057.5,780.8 1057,781.2 1056.5,781.6 1056,782.1 1055.5,782.5 1055,782.9 1054.5,783.3 1054,783.6 1053.5,783.9 1053,784.2 1052.5,784.6 1052,784.9 1051.5,785.2 1051,785.5 1050.5,785.8 1050,786.1 1049.5,786.5 1049,786.8 1048.5,787.1 1048,787.4 1047.5,788 1047,789 1046.5,790 1046,791 1045.5,791.9 1045,792.9 1044.5,793.9 1044,794.5 987.5,794.5 987,794.7 986.5,795 986,795.2 985.5,795.3 872.5,795.3 872,795.6 871.5,796 871,796.4 870.5,796.8 870,797.2 869.5,797.7 869,798.1 868.5,798.5 868,798.9 867.5,799.3 867,799.6 819,799.6 818.5,799.8 818,800 817.5,800.1 817,800.3 816.5,800.5 816,802.2 815.5,803.9 815,805.6 814.5,807.3 814,809 783,809 782.5,809.4 782,809.8 781.5,810.2 781,810.6 780.5,811 780,811.4 779.5,811.8 779,812.3 778.5,812.5 761,812.5 760.5,812.6 760,813.1 759.5,813.6 759,814.1 758.5,814.6 758,815.2 757.5,815.7 757,816.2 756.5,816.7 756,817.2 755.5,817.7 755,823.3 754.5,828.5 754,828.8 753.5,829 753,829.2 752.5,829.5 752,829.8 751.5,830 751,830.2 750.5,830.5 750,830.8 749.5,831 749,831.2 748.5,831.5 748,831.8 747.5,832 747,832.1 746.5,832.2 746,832.3 745.5,832.4 745,832.5 744.5,832.6 744,832.7 743.5,832.8 743,832.9 742.5,833 742,833.1 741.5,833.2 741,833.3 740.5,833.4 740,833.5 739.5,833.6 739,833.7 738.5,833.8 738,833.9 737.5,834 737,834.1 736.5,834.2 736,834.3 735.5,834.4 735,834.5 734.5,834.6 734,834.7 733.5,834.8 733,834.9 732.5,835 732,835.1 731.5,835.2 731,835.3 730.5,835.4 730,835.5 729.5,835.6 729,835.6 728.5,835.7 728,835.8 727.5,835.9 727,836 726.5,836 726,836.1 725.5,836.2 725,836.2 724.5,836.3 724,836.4 723.5,836.5 723,836.5 722.5,836.6 722,836.7 721.5,836.8 721,836.9 720.5,836.9 720,837 719.5,837.1 719,837.1 718.5,837.2 718,837.3 717.5,837.4 717,837.4 716.5,837.5 716,837.6 715.5,837.7 715,837.8 714.5,837.8 714,837.9 713.5,838 713,838 712.5,838.1 712,838.2 711.5,838.3 711,838.3 710.5,838.4 710,838.5 709.5,838.6 709,838.6 708.5,838.7 708,838.8 707.5,838.8 707,838.9 706.5,838.9 706,839 705,839.1 704.5,839.1 704,839.2 703.5,839.2 702.5,839.3 702,839.4 701.5,839.4 701,839.5 700.5,839.5 700,839.6 699,839.7 698.5,839.8 698,839.8 697.5,839.9 696.5,839.9 696,840 695.5,840 695,840.1 694,840.2 693.5,840.2 693,840.3 692.5,840.4 692,840.4 691.5,840.5 690.5,840.5 690,840.6 689.5,840.6 689,840.7 688,840.8 687.5,840.9 687,840.9 686.5,841 686,841 685.5,841.1 685,841.3 684.5,841.4 684,841.5 683.5,841.7 683,841.8 682.5,841.9 682,842.1 681.5,842.2 681,842.3 680.5,842.5 680,842.6 679.5,842.7 679,842.9 678.5,843 678,843.1 677.5,843.3 677,843.4 676.5,843.5 676,843.7 675.5,843.8 675,843.9 674.5,844.1 674,844.2 673.5,844.3 673,844.5 672.5,844.6 672,844.7 671.5,844.9 671,845 670.5,845.3 670,845.5 669.5,845.8 669,846 668.5,846.3 668,846.5 667.5,846.8 667,847.1 666.5,847.3 666,847.6 665.5,847.8 665,848.1 664.5,848.3 664,848.6 663.5,848.7 663,848.7 662.5,848.8 662,848.8 661.5,848.9 661,848.9 660.5,849 660,849 659.5,849.1 659,849.1 658.5,849.2 658,849.2 657.5,849.3 657,849.3 656.5,849.4 656,849.4 655.5,849.5 655,849.5 654.5,849.6 654,849.6 653.5,849.7 653,849.8 652.5,849.8 652,849.9 651.5,849.9 651,850 650.5,850 650,850.1 649.5,850.1 649,850.2 648.5,850.2 648,850.3 647.5,850.3 647,850.4 646.5,850.4 646,850.5 645.5,850.5 645,850.6 644.5,850.6 644,850.7 643.5,850.8 643,850.8 642.5,850.9 642,850.9 641.5,851 641,851 640.5,851.1 640,851.1 639.5,851.2 639,851.2 638.5,851.3 638,851.3 637.5,851.4 637,851.4 636.5,851.5 636,851.5 635.5,851.6 635,851.6 634.5,851.7 634,851.7 633.5,851.8 633,851.9 632.5,851.9 632,852 627,851.9 624.5,851.8 622,851.8 619.5,851.7 617.5,851.7 617,852 616.5,852.3 616,852.6 615.5,852.8 615,853.1 614.5,853.4 614,853.7 613.5,854 613,854.3 612.5,854.6 612,854.9 611.5,855.1 611,855.4 610.5,855.7 610,856 609.5,856.1 609,856.2 608.5,856.3 608,856.4 607.5,856.5 607,856.6 606.5,856.7 606,856.8 605.5,856.9 605,857 604.5,857.1 604,857.2 603.5,857.2 603,857.3 602.5,857.4 602,857.5 601.5,857.6 601,857.7 600.5,857.8 600,857.9 599.5,858 599,858.1 598.5,858.2 598,858.3 597.5,858.4 597,858.5 596.5,858.4 596,858.2 595.5,858.1 595,857.9 594.5,857.8 594,857.7 593.5,857.5 593,857.4 592.5,857.2 592,857.1 591.5,857 591,856.8 590.5,856.7 590,856.6 589.5,856.4 589,856.3 588.5,856.1 588,856 587.5,855.8 587,855.6 586.5,855.4 586,855.2 585.5,855.1 585,854.9 584.5,854.7 584,854.5 583.5,854.3 583,854.1 582.5,853.9 582,853.8 581.5,853.6 581,853.4 580.5,853.2 580,853 579.5,852.9 579,852.7 578.5,852.5 578,852.4 577.5,852.2 577,852.1 576.5,852 576,851.8 575.5,851.6 575,851.5 574.5,851.4 574,851.2 573.5,851 573,850.9 572.5,850.8 572,850.6 571.5,850.5 571,850.3 570.5,850.1 570,850 558,849.9 546,849.9 534,849.8 522,849.8 510,849.7 499.5,849.7 497.5,849.6 495.5,849.6 493.5,849.5 491.5,849.4 489.5,849.4 487.5,849.3 485.5,849.3 483.5,849.2 481.5,849.1 479.5,849.1 477.5,849 475.5,848.9 473.5,848.9 471.5,848.8 469.5,848.8 467.5,848.7 467,848.6 466.5,848.5 466,848.4 465.5,848.3 465,848.2 464.5,848.1 464,848 463.5,847.9 463,847.8 462.5,847.7 462,847.6 461.5,847.5 461,847.4 460.5,847.3 460,847.2 459.5,847.1 459,847 458.5,846.9 458,846.8 457.5,846.7 457,846.6 456.5,846.5 456,846.4 455.5,846.3 455,846.2 454.5,846.1 454,846 453.5,845.9 453,845.8 452.5,845.7 452,845.6 451.5,845.5 451,845.4 450.5,845.3 450,845.2 449.5,845.1 449,845 448.5,844.9 448,844.7 447.5,844.5 447,844.3 446.5,844.1 446,843.9 445.5,843.7 445,843.5 444.5,843.3 444,843.1 443.5,842.9 443,842.7 442.5,842.5 442,842.4 441.5,842.2 441,842 440.5,841.8 440,841.6 439.5,841.4 439,841.2 438.5,841 438,840.8 437.5,840.6 437,840.4 436.5,840.2 436,840 435.5,839.7 435,839.4 434.5,839.1 434,838.8 433.5,838.4 433,838.1 432.5,837.8 432,837.5 431.5,837.2 431,836.9 430.5,836.6 430,836.2 429.5,835.9 429,835.6 428.5,835.3 428,835 427.5,834.7 427,834.4 426.5,834.1 426,833.8 425.5,833.4 425,833.1 424.5,832.8 424,832.5 423.5,832.3 423,832.1 422.5,831.9 422,831.7 421.5,831.5 421,831.2 420.5,831 420,830.8 419.5,830.6 419,830.4 418.5,830.2 418,830 417.5,829.8 417,829.6 416.5,829.4 416,829.2 415.5,829 415,828.8 414.5,828.5 414,828.3 413.5,828.1 413,827.9 412.5,827.7 412,827.5 411.5,827.4 411,827.4 410.5,827.3 410,827.2 409.5,827.1 409,827 408.5,827 408,826.9 407.5,826.8 407,826.8 406.5,826.7 406,826.6 405.5,826.5 405,826.5 404.5,826.4 404,826.3 403.5,826.2 403,826.1 402.5,826.1 402,826 394.5,825.9 387,825.9 379.5,825.8 160.5,825.8 160,825.9 159.5,826 159,826.2 158.5,826.3 158,826.5 157.5,826.6 157,826.7 156.5,826.9 156,827 155,827.1 154,827.1 153,827.2 152,827.2 151,827.3 150,827.3 149,827.4 148,827.4 147,827.5 146,827.5 145,827.6 144,827.6 143,827.7 142,827.7 141,827.8 140,827.8 139,827.9 138,827.9 137,828 136,828 135,828.1 134.5,828.1 134,828.2 133.5,828.4 133,828.6 132.5,828.7 132,828.9 131.5,829 131,829.2 128,829.3 125,829.3 122,829.4 119,829.4 116,829.5 113,829.5 110,829.6 107,829.6 104,829.7 103.5,829.8 103,829.8 102.5,829.9 102,830 101.5,830 101,830.1 100.5,830.1 100,830.2 99.5,830.3 99,830.4 98.5,830.5 98,830.5 97.5,830.6 97,830.7 96.5,830.8 96,830.9 95.5,831 95,831 94.5,831.1 94,831.2 93,831.3 89.5,831.3 86,831.4 82.5,831.4 79,831.5 75.5,831.6 72,831.6 68.5,831.7 65,831.7 61.5,831.8 60.5,831.8 60,831.9 59.5,832 59,832.1 58.5,832.3 58,832.4 57.5,832.5 57,832.6 56.5,832.8 56,832.9 55.5,833 55,833.1 54.5,833.3 54,833.4 53.5,833.5 53,833.6 52.5,833.8 52,833.9 51.5,834 51,834.1 50.5,834.3 50,834.4 49.5,834.9 49,835.4 48.5,835.9 48,836.4 47.5,836.8 47,837.3 46.5,837.8 46,838.3 45.5,838.5 45,838.6 44.5,838.7 44,838.8 43.5,838.8 43,838.9 42.5,839 42,839 41.5,839.1 41,839.2 40.5,839.3 40,839.3 39.5,839.4 39,839.5 38.5,839.6 38,839.6 37.5,839.7 37,839.8 36.5,839.8 36,839.9 35.5,840 35,840.1 34.5,840.1 34,840.2 33.5,840.3 33,840.3 32.5,840.4 32,840.5 31.5,840.6 31,840.7 30.5,840.9 30,841 29.5,841.2 29,841.4 28.5,841.5 28,841.7 27.5,843.2 27,844.7 26.5,846.2 26,847.7 25.5,849.1 25,850.6 24.5,852.1 24,853.6 23.5,853.7 23,853.9 22.5,854 22,854.1 21.5,854.2 21,854.4 20.5,854.5 20,854.6 19.5,854.7 19,854.9 18.5,855 18,855.1 17.5,855.2 17,855.4 16.5,855.5 16,855.6 15.5,855.7 15,855.9 14.5,856 14,856.1 13.5,856.2 13,858.1 12.5,860 11.5,860.1 10.5,860.2 9.5,860.2 8.5,860.3 7.5,860.4 6.5,860.5 5.5,860.6 4.5,860.6 3.5,860.7 2.5,860.8 1.5,860.9 0.5,861 0,861" fill="url(#pb)"/>
<rect x="2" y="847.8" width="1" height="12.9" fill="#e59a5e"/>
<rect x="34" y="824.9" width="1" height="15.3" fill="#e59a5e"/>
<rect x="66" y="819.2" width="1" height="12.5" fill="#e59a5e"/>
<rect x="98" y="816.3" width="1" height="14.3" fill="#e59a5e"/>
<rect x="130" y="815.2" width="1" height="14" fill="#e59a5e"/>
<rect x="160" y="814.3" width="1" height="11.5" fill="#e59a5e"/>
<rect x="192" y="810.4" width="1" height="15.4" fill="#e59a5e"/>
<rect x="224" y="809.5" width="1" height="16.3" fill="#e59a5e"/>
<rect x="256" y="812.8" width="1" height="13" fill="#e59a5e"/>
<rect x="288" y="820.3" width="1" height="5.5" fill="#e59a5e"/>
<rect x="318" y="822.7" width="1" height="3.1" fill="#e59a5e"/>
<rect x="414" y="825.8" width="1" height="2.5" fill="#4c62ae"/>
<rect x="446" y="825.8" width="1" height="17.9" fill="#4c62ae"/>
<rect x="478" y="827.8" width="1" height="21.2" fill="#4c62ae"/>
<rect x="508" y="827.8" width="1" height="21.9" fill="#4c62ae"/>
<rect x="540" y="827.8" width="1" height="22.1" fill="#4c62ae"/>
<rect x="572" y="827.8" width="1" height="22.8" fill="#4c62ae"/>
<rect x="604" y="827.8" width="1" height="29.4" fill="#4c62ae"/>
<rect x="636" y="827.8" width="1" height="23.8" fill="#4c62ae"/>
<rect x="666" y="827.8" width="1" height="19.3" fill="#4c62ae"/>
<rect x="698" y="827.8" width="1" height="11.9" fill="#4c62ae"/>
<rect x="730" y="827.8" width="1" height="7.7" fill="#4c62ae"/>
<rect x="762" y="810" width="1" height="2.5" fill="#e59a5e"/>
<rect x="794" y="801.4" width="1" height="7.6" fill="#e59a5e"/>
<rect x="826" y="788.6" width="1" height="11" fill="#e59a5e"/>
<rect x="856" y="784.6" width="1" height="15" fill="#e59a5e"/>
<rect x="888" y="776" width="1" height="19.3" fill="#e59a5e"/>
<rect x="920" y="776" width="1" height="19.3" fill="#e59a5e"/>
<rect x="952" y="766.9" width="1" height="28.4" fill="#e59a5e"/>
<rect x="984" y="755" width="1" height="40.3" fill="#e59a5e"/>
<rect x="1014" y="752.7" width="1" height="41.8" fill="#e59a5e"/>
<rect x="1046" y="743.3" width="1" height="46.7" fill="#e59a5e"/>
<rect x="1078" y="715.9" width="1" height="45.8" fill="#e59a5e"/>
<rect x="1110" y="671.8" width="1" height="56" fill="#e59a5e"/>
<rect x="1142" y="638" width="1" height="58.3" fill="#e59a5e"/>
<rect x="1172" y="631.7" width="1" height="64.6" fill="#e59a5e"/>
<rect x="1204" y="631.7" width="1" height="59" fill="#e59a5e"/>
<rect x="1236" y="583.9" width="1" height="67.2" fill="#e59a5e"/>
<rect x="1268" y="527.4" width="1" height="72.6" fill="#e59a5e"/>
<rect x="1300" y="519.1" width="1" height="74.7" fill="#e59a5e"/>
<rect x="1332" y="504.2" width="1" height="81.5" fill="#e59a5e"/>
<rect x="1362" y="503" width="1" height="78.9" fill="#e59a5e"/>
<rect x="1394" y="492.2" width="1" height="82.2" fill="#e59a5e"/>
<rect x="1426" y="460.5" width="1" height="105.1" fill="#e59a5e"/>
<rect x="1458" y="431.4" width="1" height="111.2" fill="#e59a5e"/>
<rect x="1490" y="431.4" width="1" height="90.3" fill="#e59a5e"/>
<rect x="1520" y="422.6" width="1" height="99.1" fill="#e59a5e"/>
<rect x="1552" y="406.5" width="1" height="115.2" fill="#e59a5e"/>
<rect x="1584" y="394" width="1" height="127.7" fill="#e59a5e"/>
<rect x="1616" y="399" width="1" height="122.7" fill="#e59a5e"/>
<rect x="1648" y="422.6" width="1" height="99.1" fill="#e59a5e"/>
<rect x="1680" y="422.6" width="1" height="86.9" fill="#e59a5e"/>
<rect x="1710" y="422.6" width="1" height="86.9" fill="#e59a5e"/>
<rect x="1742" y="403.9" width="1" height="83" fill="#e59a5e"/>
<rect x="1774" y="360" width="1" height="58.9" fill="#e59a5e"/>
<rect x="1806" y="358.7" width="1" height="40.3" fill="#e59a5e"/>
<rect x="1838" y="348.4" width="1" height="31.3" fill="#e59a5e"/>
<rect x="1562" y="402" width="61" height="1" fill="#c89c78" opacity="0.45"/>
<rect x="1743" y="402" width="45" height="1" fill="#c89c78" opacity="0.45"/>
<rect x="1317" y="506" width="402" height="1" fill="#c89c78" opacity="0.45"/>
<rect x="1224" y="610" width="28" height="1" fill="#c89c78" opacity="0.45"/>
<rect x="1079" y="714" width="40" height="1" fill="#c89c78" opacity="0.45"/>
<rect x="93" y="818" width="174" height="1" fill="#c89c78" opacity="0.45"/>
<polyline points="0,848 10.4,847.4 13.5,842.7 16.7,841.7 26,838.5 27.6,828.6 32.3,825 45.8,824.2 50,819.8 62.5,819.3 89.6,818.8 91.7,817.7 99,816 133.3,815.1 159.4,814.6 166.7,813 182.3,811.5 191.7,810.4 200,810.2 241,809 243.8,809 248.8,811.2 255,812.8 262,813.5 265,816.2 270,818.8 276,819.8 286,820.2 300,820.6 311,822 322.5,823 330,825.5 402,826 412,827.5 424,832.5 436,840 448.8,845 467.5,848.7 500,849.7 570,850 580,853 588,856 597,858.5 610,856 617.5,851.7 631.6,852 664,848.6 671,845 686,841 708,838.8 730,835.5 747.5,832 754.5,828.5 755.5,815 760.6,810 778.7,810 783,804 791.6,801.8 801.9,799.6 814,799.6 817.3,789.8 824.2,788.8 839.7,785.9 863.8,784 870.6,778 875.8,776 920.5,776 930.8,773.8 944.5,771 951.4,767 955,765 960,759.2 963.4,757.5 977.2,757.5 980.6,755.8 991,752.7 1015,752.7 1018.4,750.6 1025.3,749 1044.2,749 1047.8,740 1054,735 1061.4,730 1064,725.3 1068.8,722 1076.8,720.5 1080,709.2 1086.5,702.7 1091.4,697 1101,694.6 1104.3,680 1109,672 1114,670.4 1115.6,660.8 1120.4,654.3 1123.6,639.8 1128.5,638 1164,638 1170.4,631.7 1218.9,631.7 1222,626.9 1225.3,593 1228.5,591.4 1235,591.4 1238.2,572 1246.3,569.7 1249.5,557.5 1252.8,543 1256,531.6 1264,528.4 1277,525.2 1283.4,520.3 1304.4,518.7 1307.6,510.7 1319,504.2 1357.7,504.2 1367.3,502 1383.5,499.4 1393,496 1397.7,483 1410.6,476.6 1415.4,463.7 1420,463.6 1433,457 1439.4,448.5 1442.6,446.9 1455.5,446.9 1457,431.4 1516.8,431.4 1520,423.3 1526.5,418.5 1536,415 1542.7,413 1549,408.8 1552.3,406.5 1559,405.5 1562,402.3 1566.9,393.6 1571.7,391 1581.4,391 1586,395.9 1589.5,399 1620,399 1623.4,402.3 1628.2,422.6 1717,422.6 1720.2,425.9 1725,425.9 1728.3,420 1731.5,413.6 1736.3,411 1741,407 1744.4,399 1749,392.6 1752.5,383 1757.3,378.7 1767,378.7 1770,368.4 1773.4,360.3 1776.7,358.7 1831.5,358.7 1833.8,349 1836,348.4 1849.3,348.4 1852.5,336 1854,334" fill="none" stroke="#e2a878" stroke-width="1.3"/>
<polyline points="0,861 12.5,860 13.5,856.2 24,853.6 28,841.7 31.2,840.6 45.8,838.5 50,834.4 60.4,831.8 93.8,831.2 100,830.2 104,829.7 131,829.2 134.4,828.1 156,827 160.4,825.8 462,825.8 463,827.8 754.6,827.8 755.5,817.7 760.6,812.5 778.7,812.5 783,809 814,809 816.5,800.5 819,799.6 867.2,799.6 872.3,795.3 985.8,795.3 987.5,794.5 1044.2,794.5 1047.7,787.6 1054.5,783.3 1059.7,779 1066.6,769.5 1067,768.3 1076.8,765.7 1080,756 1089.7,744.7 1101,743 1105.9,728.5 1114,727 1118.8,715.6 1123.6,697.9 1126.9,696.3 1176.9,696.3 1189.8,693 1206,690.5 1220.5,689.8 1223.7,672 1227,652.7 1236.6,651 1238.2,635 1244.7,631 1249.5,618.8 1254.4,605.9 1257,600 1283.4,600 1286.6,596.8 1302.8,593 1306,589.7 1319,586.5 1341.5,585 1346.4,582.6 1367.3,581.7 1383.5,575.2 1412.5,573 1420,567 1434.5,563.7 1439.4,552.4 1449,550 1455.5,546 1458.7,541 1462,533 1465,526.6 1481.3,524 1487.8,521.7 1668.5,521.7 1675,510.4 1678.2,509.5 1712,509.5 1720.2,507.2 1726.6,504 1731.5,494.3 1738,492.7 1742.8,486.2 1749.3,471.7 1754,455.6 1757.3,447.5 1767,442 1771.8,426.5 1775,415.2 1783,413 1789.6,400.7 1794.4,399 1809,399 1812.2,381.3 1815.4,379.7 1852.5,379.7 1854,375" fill="none" stroke="#616aa6" stroke-width="1.5"/>
<rect x="2" y="849.4" width="1" height="2.5" fill="#4a4452"/>
<rect x="4" y="849.1" width="1" height="2.9" fill="#4a4452"/>
<rect x="6" y="849.2" width="1" height="2.3" fill="#4a4452"/>
<rect x="8" y="848.3" width="1" height="3.7" fill="#a87880"/>
<rect x="9" y="847.1" width="1" height="3" fill="#4a4452"/>
<rect x="11" y="847.3" width="1" height="4.1" fill="#384c5c"/>
<rect x="13" y="849" width="1" height="3.1" fill="#4a4452"/>
<rect x="15" y="847.5" width="1" height="4.2" fill="#8e5258"/>
<rect x="17" y="846.2" width="1" height="3.7" fill="#7a4048"/>
<rect x="19" y="845.5" width="1" height="2.5" fill="#4a4452"/>
<rect x="21" y="844.7" width="1" height="3.6" fill="#a87880"/>
<rect x="22" y="845.5" width="1" height="3" fill="#4a4452"/>
<rect x="24" y="844.7" width="1" height="3.6" fill="#2c404c"/>
<rect x="26" y="846" width="1" height="3" fill="#4a4452"/>
<rect x="28" y="845.6" width="1" height="5" fill="#384c5c"/>
<rect x="30" y="847.3" width="1" height="3" fill="#4a4452"/>
<rect x="32" y="844.1" width="1" height="6.1" fill="#8e5258"/>
<rect x="34" y="842.9" width="1" height="4.5" fill="#8e5258"/>
<rect x="36" y="840.9" width="1" height="3.2" fill="#4a4452"/>
<rect x="37" y="842.5" width="1" height="2.2" fill="#4a4452"/>
<rect x="39" y="842.7" width="1" height="3.6" fill="#5a7886"/>
<rect x="41" y="843.7" width="1" height="3.7" fill="#5a7886"/>
<rect x="43" y="844.6" width="1" height="3.8" fill="#2c404c"/>
<rect x="45" y="844.9" width="1" height="5.1" fill="#384c5c"/>
<rect x="47" y="847.5" width="1" height="2.9" fill="#4a4452"/>
<rect x="49" y="848.5" width="1" height="3.7" fill="#384c5c"/>
<rect x="50" y="849.8" width="1" height="2.2" fill="#4a4452"/>
<rect x="52" y="848.8" width="1" height="3.5" fill="#a87880"/>
<rect x="54" y="849.1" width="1" height="4.1" fill="#83a0aa"/>
<rect x="56" y="850.4" width="1" height="7.4" fill="#384c5c"/>
<rect x="58" y="855.7" width="1" height="2.6" fill="#4a4452"/>
<rect x="60" y="856.2" width="1" height="3.5" fill="#2c404c"/>
<rect x="62" y="858.2" width="1" height="4.7" fill="#384c5c"/>
<rect x="63" y="861.5" width="1" height="5.3" fill="#83a0aa"/>
<rect x="65" y="864" width="1" height="2.2" fill="#4a4452"/>
<rect x="67" y="863.4" width="1" height="3.2" fill="#8e5258"/>
<rect x="69" y="863.7" width="1" height="2" fill="#4a4452"/>
<rect x="71" y="863.3" width="1" height="2.5" fill="#4a4452"/>
<rect x="73" y="864" width="1" height="3.8" fill="#5a7886"/>
<rect x="75" y="865.9" width="1" height="2.6" fill="#4a4452"/>
<rect x="76" y="865.7" width="1" height="3.4" fill="#2c404c"/>
<rect x="78" y="867.5" width="1" height="2.6" fill="#4a4452"/>
<rect x="80" y="866.8" width="1" height="3.6" fill="#8e5258"/>
<rect x="82" y="866.3" width="1" height="3.6" fill="#384c5c"/>
<rect x="84" y="867.9" width="1" height="1.9" fill="#4a4452"/>
<rect x="86" y="868" width="1" height="3.2" fill="#83a0aa"/>
<rect x="88" y="868.5" width="1" height="3.8" fill="#384c5c"/>
<rect x="90" y="869.8" width="1" height="1.9" fill="#4a4452"/>
<rect x="91" y="869.3" width="1" height="3.1" fill="#4a4452"/>
<rect x="93" y="869" width="1" height="3.1" fill="#4a4452"/>
<rect x="95" y="869.6" width="1" height="3.1" fill="#4a4452"/>
<rect x="97" y="870.3" width="1" height="2.4" fill="#4a4452"/>
<rect x="99" y="868.4" width="1" height="4.5" fill="#8e5258"/>
<rect x="101" y="866.8" width="1" height="4.3" fill="#7a4048"/>
<rect x="103" y="866.7" width="1" height="2.9" fill="#4a4452"/>
<rect x="104" y="867.1" width="1" height="2.9" fill="#4a4452"/>
<rect x="106" y="868.1" width="1" height="2" fill="#4a4452"/>
<rect x="108" y="868.3" width="1" height="5.7" fill="#2c404c"/>
<rect x="110" y="871.5" width="1" height="2.2" fill="#4a4452"/>
<rect x="112" y="872.3" width="1" height="3" fill="#4a4452"/>
<rect x="114" y="873.7" width="1" height="2.7" fill="#4a4452"/>
<rect x="116" y="874.2" width="1" height="2.4" fill="#4a4452"/>
<rect x="117" y="873.6" width="1" height="3" fill="#4a4452"/>
<rect x="119" y="872.7" width="1" height="2.7" fill="#4a4452"/>
<rect x="121" y="872.7" width="1" height="2" fill="#4a4452"/>
<rect x="123" y="871.8" width="1" height="2.4" fill="#4a4452"/>
<rect x="125" y="870.7" width="1" height="3" fill="#4a4452"/>
<rect x="127" y="870" width="1" height="2.9" fill="#4a4452"/>
<rect x="129" y="868.1" width="1" height="4" fill="#a87880"/>
<rect x="130" y="867.3" width="1" height="3.2" fill="#4a4452"/>
<rect x="132" y="866.5" width="1" height="3.5" fill="#8e5258"/>
<rect x="134" y="865.5" width="1" height="2.6" fill="#4a4452"/>
<rect x="136" y="864.4" width="1" height="3.3" fill="#7a4048"/>
<rect x="138" y="865.2" width="1" height="2.4" fill="#4a4452"/>
<rect x="140" y="865.6" width="1" height="3.4" fill="#5a7886"/>
<rect x="142" y="866.5" width="1" height="2.3" fill="#4a4452"/>
<rect x="144" y="866.3" width="1" height="3.5" fill="#384c5c"/>
<rect x="145" y="865.2" width="1" height="4.7" fill="#a87880"/>
<rect x="147" y="865.5" width="1" height="2.5" fill="#4a4452"/>
<rect x="149" y="864.9" width="1" height="2.8" fill="#4a4452"/>
<rect x="151" y="861.9" width="1" height="5.2" fill="#7a4048"/>
<rect x="150.5" y="862.6" width="2" height="3.4" fill="#b48890" opacity="0.8"/>
<rect x="153" y="858.8" width="1" height="5.1" fill="#a87880"/>
<rect x="155" y="857.7" width="1" height="2.5" fill="#4a4452"/>
<rect x="157" y="858.3" width="1" height="1.9" fill="#4a4452"/>
<rect x="158" y="855.5" width="1" height="5.2" fill="#b8949a"/>
<rect x="160" y="856.4" width="1" height="2.8" fill="#4a4452"/>
<rect x="162" y="856" width="1" height="3" fill="#4a4452"/>
<rect x="164" y="856.5" width="1" height="3.5" fill="#5a7886"/>
<rect x="166" y="858" width="1" height="2.5" fill="#4a4452"/>
<rect x="168" y="856" width="1" height="4.5" fill="#8e5258"/>
<rect x="170" y="855.6" width="1" height="2.8" fill="#4a4452"/>
<rect x="171" y="856" width="1" height="1.9" fill="#4a4452"/>
<rect x="173" y="854.6" width="1" height="3.5" fill="#a87880"/>
<rect x="175" y="854" width="1" height="2.8" fill="#4a4452"/>
<rect x="177" y="853.1" width="1" height="3.3" fill="#b8949a"/>
<rect x="179" y="852.6" width="1" height="3.3" fill="#8e5258"/>
<rect x="181" y="852.5" width="1" height="3" fill="#4a4452"/>
<rect x="183" y="850.7" width="1" height="5.1" fill="#b8949a"/>
<rect x="184" y="849.5" width="1" height="4.7" fill="#7a4048"/>
<rect x="186" y="849.7" width="1" height="2.4" fill="#4a4452"/>
<rect x="188" y="849.8" width="1" height="2.6" fill="#4a4452"/>
<rect x="190" y="849.2" width="1" height="4.1" fill="#8e5258"/>
<rect x="192" y="847.5" width="1" height="5" fill="#a87880"/>
<rect x="194" y="848" width="1" height="4.2" fill="#5a7886"/>
<rect x="196" y="849.4" width="1" height="5.2" fill="#2c404c"/>
<rect x="198" y="852" width="1" height="2.3" fill="#4a4452"/>
<rect x="199" y="851.5" width="1" height="2.6" fill="#4a4452"/>
<rect x="201" y="851.6" width="1" height="3.5" fill="#384c5c"/>
<rect x="203" y="853" width="1" height="2.7" fill="#4a4452"/>
<rect x="205" y="853" width="1" height="3" fill="#4a4452"/>
<rect x="207" y="852.7" width="1" height="3.8" fill="#5a7886"/>
<rect x="209" y="853.9" width="1" height="5.2" fill="#384c5c"/>
<rect x="211" y="856.4" width="1" height="5.6" fill="#5a7886"/>
<rect x="212" y="859.2" width="1" height="3.5" fill="#5a7886"/>
<rect x="214" y="859" width="1" height="3.9" fill="#b8949a"/>
<rect x="216" y="858.7" width="1" height="2.8" fill="#4a4452"/>
<rect x="218" y="859.4" width="1" height="3" fill="#4a4452"/>
<rect x="220" y="860.5" width="1" height="2.6" fill="#4a4452"/>
<rect x="222" y="858.6" width="1" height="3.4" fill="#a87880"/>
<rect x="224" y="858" width="1" height="2.6" fill="#4a4452"/>
<rect x="225" y="856.6" width="1" height="3.6" fill="#7a4048"/>
<rect x="227" y="855.8" width="1" height="3.3" fill="#7a4048"/>
<rect x="229" y="854.4" width="1" height="2.8" fill="#4a4452"/>
<rect x="231" y="852.2" width="1" height="4.9" fill="#7a4048"/>
<rect x="233" y="852.5" width="1" height="2" fill="#4a4452"/>
<rect x="235" y="851.8" width="1" height="2.1" fill="#4a4452"/>
<rect x="237" y="851.4" width="1" height="3.3" fill="#8e5258"/>
<rect x="238" y="849.6" width="1" height="4.2" fill="#8e5258"/>
<rect x="240" y="847.3" width="1" height="4.6" fill="#b8949a"/>
<rect x="242" y="848.1" width="1" height="2.6" fill="#4a4452"/>
<rect x="244" y="846.6" width="1" height="2.8" fill="#4a4452"/>
<rect x="246" y="844.9" width="1" height="5.4" fill="#b8949a"/>
<rect x="245.5" y="845.9" width="2" height="3" fill="#a8b8c4" opacity="0.8"/>
<rect x="248" y="842.4" width="1" height="4.8" fill="#7a4048"/>
<rect x="250" y="840.7" width="1" height="4.7" fill="#b8949a"/>
<rect x="252" y="839.3" width="1" height="5.1" fill="#a87880"/>
<rect x="253" y="838.4" width="1" height="3.4" fill="#8e5258"/>
<rect x="255" y="837" width="1" height="5" fill="#a87880"/>
<rect x="257" y="835.9" width="1" height="3.3" fill="#a87880"/>
<rect x="259" y="834.6" width="1" height="3.9" fill="#7a4048"/>
<rect x="261" y="831.4" width="1" height="7.1" fill="#8e5258"/>
<rect x="260.5" y="833.5" width="2" height="3.5" fill="#c29aa2" opacity="0.8"/>
<rect x="263" y="831.1" width="1" height="3.7" fill="#8e5258"/>
<rect x="265" y="831.7" width="1" height="3.8" fill="#2c404c"/>
<rect x="266" y="830.9" width="1" height="4" fill="#b8949a"/>
<rect x="268" y="827.8" width="1" height="7.5" fill="#7a4048"/>
<rect x="267.5" y="829.7" width="2" height="3.6" fill="#c29aa2" opacity="0.8"/>
<rect x="270" y="826.3" width="1" height="4.1" fill="#8e5258"/>
<rect x="272" y="826.4" width="1" height="4.6" fill="#5a7886"/>
<rect x="274" y="827.7" width="1" height="4.5" fill="#83a0aa"/>
<rect x="276" y="829.8" width="1" height="4.5" fill="#83a0aa"/>
<rect x="278" y="831" width="1" height="4" fill="#a87880"/>
<rect x="279" y="831.2" width="1" height="3.4" fill="#2c404c"/>
<rect x="281" y="830.9" width="1" height="4.7" fill="#b8949a"/>
<rect x="283" y="826.2" width="1" height="7.9" fill="#a87880"/>
<rect x="285" y="824.1" width="1" height="5.2" fill="#b8949a"/>
<rect x="287" y="824" width="1" height="2.6" fill="#4a4452"/>
<rect x="289" y="821.4" width="1" height="4.6" fill="#8e5258"/>
<rect x="291" y="821.8" width="1" height="3.2" fill="#4a4452"/>
<rect x="292" y="821.1" width="1" height="5" fill="#384c5c"/>
<rect x="294" y="822.1" width="1" height="4.1" fill="#b8949a"/>
<rect x="296" y="823.2" width="1" height="3.4" fill="#83a0aa"/>
<rect x="298" y="822.8" width="1" height="5.5" fill="#2c404c"/>
<rect x="300" y="825.6" width="1" height="4" fill="#2c404c"/>
<rect x="302" y="825.6" width="1" height="4.7" fill="#8e5258"/>
<rect x="304" y="823.7" width="1" height="4.5" fill="#384c5c"/>
<rect x="306" y="824.5" width="1" height="4.6" fill="#8e5258"/>
<rect x="307" y="823.9" width="1" height="4.2" fill="#83a0aa"/>
<rect x="309" y="821.1" width="1" height="7.3" fill="#b8949a"/>
<rect x="308.5" y="821.9" width="2" height="4.5" fill="#c29aa2" opacity="0.8"/>
<rect x="311" y="818" width="1" height="6.6" fill="#8e5258"/>
<rect x="313" y="815.9" width="1" height="6.2" fill="#b8949a"/>
<rect x="315" y="814.5" width="1" height="5.1" fill="#8e5258"/>
<rect x="317" y="811.9" width="1" height="5.3" fill="#a87880"/>
<rect x="319" y="810" width="1" height="6.3" fill="#b8949a"/>
<rect x="320" y="810.6" width="1" height="3.8" fill="#83a0aa"/>
<rect x="322" y="811.6" width="1" height="3.4" fill="#2c404c"/>
<rect x="324" y="809.7" width="1" height="5.7" fill="#7a4048"/>
<rect x="326" y="808.7" width="1" height="2.6" fill="#4a4452"/>
<rect x="328" y="808.7" width="1" height="3.4" fill="#7a4048"/>
<rect x="330" y="808" width="1" height="5.5" fill="#2c404c"/>
<rect x="332" y="810" width="1" height="4.8" fill="#384c5c"/>
<rect x="333" y="812.2" width="1" height="4.9" fill="#8e5258"/>
<rect x="335" y="810" width="1" height="5" fill="#7a4048"/>
<rect x="337" y="807.9" width="1" height="3.5" fill="#7a4048"/>
<rect x="339" y="808.9" width="1" height="2.7" fill="#4a4452"/>
<rect x="341" y="807.9" width="1" height="5.4" fill="#2c404c"/>
<rect x="343" y="806.3" width="1" height="5.1" fill="#2c404c"/>
<rect x="345" y="809.1" width="1" height="3.3" fill="#8e5258"/>
<rect x="346" y="808.9" width="1" height="3.1" fill="#4a4452"/>
<rect x="348" y="809.1" width="1" height="3.1" fill="#4a4452"/>
<rect x="350" y="808.2" width="1" height="4.5" fill="#384c5c"/>
<rect x="352" y="806.9" width="1" height="7.1" fill="#b8949a"/>
<rect x="351.5" y="809.1" width="2" height="3.3" fill="#a8b8c4" opacity="0.8"/>
<rect x="354" y="807.9" width="1" height="4.7" fill="#384c5c"/>
<rect x="356" y="807.4" width="1" height="4.3" fill="#7a4048"/>
<rect x="358" y="805.4" width="1" height="5.9" fill="#7a4048"/>
<rect x="360" y="805.2" width="1" height="4.8" fill="#2c404c"/>
<rect x="361" y="805.9" width="1" height="4.3" fill="#2c404c"/>
<rect x="363" y="807.3" width="1" height="5.2" fill="#83a0aa"/>
<rect x="365" y="808.4" width="1" height="4.6" fill="#8e5258"/>
<rect x="367" y="806.4" width="1" height="4.5" fill="#384c5c"/>
<rect x="369" y="805.7" width="1" height="7.6" fill="#8e5258"/>
<rect x="371" y="804.3" width="1" height="5.9" fill="#a87880"/>
<rect x="373" y="803.5" width="1" height="5" fill="#2c404c"/>
<rect x="374" y="803.3" width="1" height="4.7" fill="#384c5c"/>
<rect x="376" y="802.9" width="1" height="5.2" fill="#7a4048"/>
<rect x="378" y="804.2" width="1" height="3.1" fill="#4a4452"/>
<rect x="380" y="804.2" width="1" height="4.6" fill="#2c404c"/>
<rect x="382" y="803.5" width="1" height="5" fill="#83a0aa"/>
<rect x="384" y="803.6" width="1" height="6" fill="#b8949a"/>
<rect x="386" y="801.2" width="1" height="7.3" fill="#a87880"/>
<rect x="387" y="799.2" width="1" height="3.7" fill="#a87880"/>
<rect x="389" y="798.2" width="1" height="4.1" fill="#a87880"/>
<rect x="391" y="796.8" width="1" height="4.2" fill="#b8949a"/>
<rect x="393" y="795" width="1" height="5.9" fill="#7a4048"/>
<rect x="395" y="789.9" width="1" height="9.9" fill="#7a4048"/>
<rect x="397" y="787.9" width="1" height="7.4" fill="#83a0aa"/>
<rect x="399" y="790.4" width="1" height="6.6" fill="#7a4048"/>
<rect x="400" y="792" width="1" height="6" fill="#83a0aa"/>
<rect x="402" y="763.3" width="1" height="5.2" fill="#5a7886"/>
<rect x="404" y="761.3" width="1" height="7.5" fill="#7a4048"/>
<rect x="406" y="756.3" width="1" height="8.9" fill="#a87880"/>
<rect x="408" y="758.2" width="1" height="2.9" fill="#4a4452"/>
<rect x="410" y="757.7" width="1" height="4.6" fill="#a87880"/>
<rect x="412" y="757.7" width="1" height="5.7" fill="#83a0aa"/>
<rect x="414" y="758.3" width="1" height="6.6" fill="#a87880"/>
<rect x="415" y="759.5" width="1" height="5" fill="#5a7886"/>
<rect x="417" y="760.4" width="1" height="4.1" fill="#a87880"/>
<rect x="419" y="758.3" width="1" height="7.1" fill="#7a4048"/>
<rect x="421" y="756.6" width="1" height="6.5" fill="#b8949a"/>
<rect x="423" y="754.1" width="1" height="8.1" fill="#2c404c"/>
<rect x="425" y="754.6" width="1" height="8.7" fill="#8e5258"/>
<rect x="427" y="746.9" width="1" height="12.8" fill="#b8949a"/>
<rect x="428" y="745.3" width="1" height="6.1" fill="#8e5258"/>
<rect x="430" y="741.3" width="1" height="5.9" fill="#7a4048"/>
<rect x="432" y="741.1" width="1" height="4.1" fill="#7a4048"/>
<rect x="434" y="738.3" width="1" height="6.1" fill="#b8949a"/>
<rect x="436" y="735.5" width="1" height="11.4" fill="#5a7886"/>
<rect x="438" y="742.3" width="1" height="10.8" fill="#384c5c"/>
<rect x="440" y="748.2" width="1" height="7.1" fill="#384c5c"/>
<rect x="441" y="749.1" width="1" height="5.1" fill="#384c5c"/>
<rect x="443" y="744.3" width="1" height="10.9" fill="#b8949a"/>
<rect x="445" y="744.2" width="1" height="6.3" fill="#7a4048"/>
<rect x="447" y="743.6" width="1" height="6.8" fill="#b8949a"/>
<rect x="449" y="743.9" width="1" height="5.2" fill="#2c404c"/>
<rect x="451" y="744.1" width="1" height="5.9" fill="#8e5258"/>
<rect x="453" y="742.5" width="1" height="6" fill="#b8949a"/>
<rect x="454" y="740.3" width="1" height="7.2" fill="#8e5258"/>
<rect x="456" y="740.4" width="1" height="7.5" fill="#83a0aa"/>
<rect x="458" y="742.2" width="1" height="4.7" fill="#83a0aa"/>
<rect x="460" y="742.4" width="1" height="5.3" fill="#b8949a"/>
<rect x="462" y="739.4" width="1" height="6" fill="#8e5258"/>
<rect x="464" y="729.9" width="1" height="14.8" fill="#a87880"/>
<rect x="463.5" y="733" width="2" height="8.4" fill="#c29aa2" opacity="0.8"/>
<rect x="466" y="727.3" width="1" height="7.8" fill="#8e5258"/>
<rect x="468" y="725.7" width="1" height="7.8" fill="#b8949a"/>
<rect x="469" y="725.6" width="1" height="7.3" fill="#5a7886"/>
<rect x="471" y="721.8" width="1" height="8.8" fill="#a87880"/>
<rect x="473" y="721.7" width="1" height="11" fill="#2c404c"/>
<rect x="475" y="726.4" width="1" height="8.1" fill="#384c5c"/>
<rect x="477" y="729.7" width="1" height="7.7" fill="#2c404c"/>
<rect x="479" y="730.4" width="1" height="6.1" fill="#b8949a"/>
<rect x="481" y="731.2" width="1" height="5.6" fill="#8e5258"/>
<rect x="482" y="729" width="1" height="4.8" fill="#5a7886"/>
<rect x="484" y="728.6" width="1" height="7.3" fill="#5a7886"/>
<rect x="486" y="730.2" width="1" height="9.7" fill="#384c5c"/>
<rect x="488" y="735.8" width="1" height="8.1" fill="#83a0aa"/>
<rect x="490" y="736.4" width="1" height="7.2" fill="#a87880"/>
<rect x="492" y="734.6" width="1" height="8.6" fill="#8e5258"/>
<rect x="494" y="733.2" width="1" height="6.1" fill="#2c404c"/>
<rect x="495" y="732.5" width="1" height="6.1" fill="#5a7886"/>
<rect x="497" y="734.8" width="1" height="6.3" fill="#5a7886"/>
<rect x="499" y="736.5" width="1" height="7.6" fill="#83a0aa"/>
<rect x="501" y="738.4" width="1" height="6.8" fill="#83a0aa"/>
<rect x="503" y="742.9" width="1" height="6.6" fill="#5a7886"/>
<rect x="505" y="746.3" width="1" height="4.1" fill="#7a4048"/>
<rect x="507" y="746.7" width="1" height="5" fill="#5a7886"/>
<rect x="508" y="747.6" width="1" height="4.3" fill="#2c404c"/>
<rect x="510" y="745.9" width="1" height="6.6" fill="#384c5c"/>
<rect x="512" y="742.8" width="1" height="10" fill="#7a4048"/>
<rect x="511.5" y="745.4" width="2" height="5.5" fill="#b48890" opacity="0.8"/>
<rect x="514" y="731.5" width="1" height="16" fill="#a87880"/>
<rect x="516" y="729.7" width="1" height="10.5" fill="#8e5258"/>
<rect x="515.5" y="730.9" width="2" height="6.8" fill="#a8b8c4" opacity="0.8"/>
<rect x="518" y="724.1" width="1" height="10.6" fill="#b8949a"/>
<rect x="520" y="721.6" width="1" height="5.9" fill="#5a7886"/>
<rect x="521" y="720.9" width="1" height="9.7" fill="#8e5258"/>
<rect x="523" y="720" width="1" height="4.7" fill="#8e5258"/>
<rect x="525" y="719.3" width="1" height="9" fill="#5a7886"/>
<rect x="527" y="721.8" width="1" height="8.5" fill="#5a7886"/>
<rect x="529" y="724.8" width="1" height="3.7" fill="#384c5c"/>
<rect x="531" y="725.4" width="1" height="5.6" fill="#2c404c"/>
<rect x="533" y="722.5" width="1" height="6.2" fill="#83a0aa"/>
<rect x="535" y="723" width="1" height="6" fill="#b8949a"/>
<rect x="536" y="724.1" width="1" height="5.7" fill="#83a0aa"/>
<rect x="538" y="726.3" width="1" height="5.4" fill="#2c404c"/>
<rect x="540" y="724" width="1" height="8.7" fill="#83a0aa"/>
<rect x="542" y="728.3" width="1" height="8.7" fill="#2c404c"/>
<rect x="544" y="728.8" width="1" height="7.1" fill="#8e5258"/>
<rect x="546" y="727.7" width="1" height="8" fill="#7a4048"/>
<rect x="548" y="728.8" width="1" height="6.2" fill="#83a0aa"/>
<rect x="549" y="733.3" width="1" height="9.2" fill="#384c5c"/>
<rect x="551" y="737.9" width="1" height="8.1" fill="#83a0aa"/>
<rect x="553" y="741.9" width="1" height="3.5" fill="#384c5c"/>
<rect x="555" y="740" width="1" height="7.5" fill="#2c404c"/>
<rect x="557" y="743.1" width="1" height="8.3" fill="#5a7886"/>
<rect x="559" y="745" width="1" height="7.4" fill="#2c404c"/>
<rect x="561" y="746.5" width="1" height="5.9" fill="#384c5c"/>
<rect x="562" y="744.5" width="1" height="9.7" fill="#8e5258"/>
<rect x="561.5" y="747.8" width="2" height="3.2" fill="#b48890" opacity="0.8"/>
<rect x="564" y="739.4" width="1" height="8.6" fill="#a87880"/>
<rect x="566" y="738.1" width="1" height="6" fill="#7a4048"/>
<rect x="568" y="737.3" width="1" height="6.6" fill="#7a4048"/>
<rect x="570" y="734.7" width="1" height="7.4" fill="#8e5258"/>
<rect x="572" y="733" width="1" height="7.8" fill="#384c5c"/>
<rect x="574" y="735.5" width="1" height="5.9" fill="#b8949a"/>
<rect x="575" y="730.8" width="1" height="10.1" fill="#a87880"/>
<rect x="577" y="729.6" width="1" height="5" fill="#83a0aa"/>
<rect x="579" y="729.9" width="1" height="7.2" fill="#83a0aa"/>
<rect x="581" y="730.7" width="1" height="6.2" fill="#384c5c"/>
<rect x="583" y="729.8" width="1" height="8.5" fill="#a87880"/>
<rect x="585" y="727.4" width="1" height="8.8" fill="#b8949a"/>
<rect x="587" y="726.7" width="1" height="7.1" fill="#83a0aa"/>
<rect x="589" y="728.9" width="1" height="16.2" fill="#384c5c"/>
<rect x="590" y="739" width="1" height="5.9" fill="#5a7886"/>
<rect x="592" y="739.1" width="1" height="8.8" fill="#384c5c"/>
<rect x="594" y="744.2" width="1" height="6.4" fill="#2c404c"/>
<rect x="596" y="744.9" width="1" height="7" fill="#8e5258"/>
<rect x="598" y="742.9" width="1" height="6" fill="#8e5258"/>
<rect x="600" y="745.2" width="1" height="6.1" fill="#2c404c"/>
<rect x="602" y="745.2" width="1" height="5.9" fill="#384c5c"/>
<rect x="603" y="746.4" width="1" height="7.6" fill="#2c404c"/>
<rect x="605" y="749.8" width="1" height="6.5" fill="#384c5c"/>
<rect x="607" y="750.5" width="1" height="3.6" fill="#8e5258"/>
<rect x="609" y="742.9" width="1" height="11.3" fill="#a87880"/>
<rect x="608.5" y="745.4" width="2" height="7.4" fill="#a8b8c4" opacity="0.8"/>
<rect x="611" y="735.8" width="1" height="13.3" fill="#7a4048"/>
<rect x="610.5" y="739.5" width="2" height="6.5" fill="#b48890" opacity="0.8"/>
<rect x="613" y="738.9" width="1" height="4.4" fill="#b8949a"/>
<rect x="615" y="735.1" width="1" height="7.2" fill="#a87880"/>
<rect x="616" y="732.3" width="1" height="9.2" fill="#7a4048"/>
<rect x="618" y="726.3" width="1" height="10.9" fill="#b8949a"/>
<rect x="617.5" y="728.6" width="2" height="5.2" fill="#b48890" opacity="0.8"/>
<rect x="620" y="721.4" width="1" height="8.4" fill="#b8949a"/>
<rect x="622" y="721.3" width="1" height="7.7" fill="#8e5258"/>
<rect x="624" y="720.1" width="1" height="6.8" fill="#5a7886"/>
<rect x="626" y="716.2" width="1" height="11.5" fill="#7a4048"/>
<rect x="628" y="713.9" width="1" height="8.3" fill="#83a0aa"/>
<rect x="629" y="714.1" width="1" height="6.9" fill="#a87880"/>
<rect x="631" y="713.4" width="1" height="7.6" fill="#2c404c"/>
<rect x="633" y="712.5" width="1" height="7" fill="#8e5258"/>
<rect x="635" y="709.6" width="1" height="8.5" fill="#a87880"/>
<rect x="637" y="710.9" width="1" height="6" fill="#a87880"/>
<rect x="639" y="708.6" width="1" height="9" fill="#a87880"/>
<rect x="638.5" y="709.7" width="2" height="5" fill="#b48890" opacity="0.8"/>
<rect x="641" y="707.5" width="1" height="11.6" fill="#83a0aa"/>
<rect x="643" y="714.6" width="1" height="9.3" fill="#83a0aa"/>
<rect x="644" y="714.6" width="1" height="8.5" fill="#a87880"/>
<rect x="646" y="715.2" width="1" height="7.8" fill="#7a4048"/>
<rect x="648" y="716.8" width="1" height="6" fill="#2c404c"/>
<rect x="650" y="717.2" width="1" height="7.7" fill="#384c5c"/>
<rect x="652" y="720.4" width="1" height="10.5" fill="#2c404c"/>
<rect x="654" y="725.4" width="1" height="6.4" fill="#b8949a"/>
<rect x="656" y="724.9" width="1" height="9.1" fill="#5a7886"/>
<rect x="657" y="727.3" width="1" height="7.1" fill="#7a4048"/>
<rect x="659" y="724.7" width="1" height="7.4" fill="#2c404c"/>
<rect x="661" y="727" width="1" height="8.4" fill="#7a4048"/>
<rect x="663" y="724.6" width="1" height="5" fill="#5a7886"/>
<rect x="665" y="719.5" width="1" height="10.2" fill="#a87880"/>
<rect x="667" y="720" width="1" height="4.2" fill="#a87880"/>
<rect x="669" y="717.5" width="1" height="8.4" fill="#a87880"/>
<rect x="670" y="715.7" width="1" height="6.4" fill="#a87880"/>
<rect x="672" y="711.4" width="1" height="9.3" fill="#a87880"/>
<rect x="674" y="712.3" width="1" height="11" fill="#83a0aa"/>
<rect x="676" y="716.8" width="1" height="9" fill="#5a7886"/>
<rect x="678" y="719.1" width="1" height="6.9" fill="#b8949a"/>
<rect x="680" y="717.7" width="1" height="3.3" fill="#b8949a"/>
<rect x="682" y="717.8" width="1" height="4.8" fill="#a87880"/>
<rect x="683" y="717.2" width="1" height="10.1" fill="#5a7886"/>
<rect x="685" y="716" width="1" height="10" fill="#a87880"/>
<rect x="687" y="715.2" width="1" height="9.1" fill="#2c404c"/>
<rect x="689" y="713.1" width="1" height="11.5" fill="#a87880"/>
<rect x="691" y="712.1" width="1" height="4.6" fill="#a87880"/>
<rect x="693" y="709.1" width="1" height="6.4" fill="#8e5258"/>
<rect x="695" y="704.1" width="1" height="11.6" fill="#b8949a"/>
<rect x="694.5" y="707" width="2" height="4.8" fill="#b48890" opacity="0.8"/>
<rect x="697" y="704.4" width="1" height="8.7" fill="#384c5c"/>
<rect x="698" y="700.7" width="1" height="9.8" fill="#a87880"/>
<rect x="697.5" y="703" width="2" height="4.9" fill="#a8b8c4" opacity="0.8"/>
<rect x="700" y="698.3" width="1" height="8" fill="#8e5258"/>
<rect x="702" y="698.3" width="1" height="8" fill="#8e5258"/>
<rect x="704" y="690.6" width="1" height="17.4" fill="#a87880"/>
<rect x="706" y="688" width="1" height="8.6" fill="#b8949a"/>
<rect x="708" y="682.7" width="1" height="14.3" fill="#b8949a"/>
<rect x="707.5" y="685.1" width="2" height="9" fill="#a8b8c4" opacity="0.8"/>
<rect x="710" y="674.8" width="1" height="12.7" fill="#b8949a"/>
<rect x="711" y="667.6" width="1" height="12.3" fill="#a87880"/>
<rect x="713" y="667.5" width="1" height="8.1" fill="#384c5c"/>
<rect x="715" y="660.3" width="1" height="17.2" fill="#8e5258"/>
<rect x="714.5" y="664.1" width="2" height="9.2" fill="#a8b8c4" opacity="0.8"/>
<rect x="717" y="662.9" width="1" height="6" fill="#384c5c"/>
<rect x="719" y="661.5" width="1" height="5.9" fill="#a87880"/>
<rect x="721" y="660.2" width="1" height="9" fill="#5a7886"/>
<rect x="723" y="662" width="1" height="8.7" fill="#5a7886"/>
<rect x="724" y="655.7" width="1" height="12.7" fill="#8e5258"/>
<rect x="723.5" y="660.6" width="2" height="4.1" fill="#c29aa2" opacity="0.8"/>
<rect x="726" y="648" width="1" height="14.8" fill="#b8949a"/>
<rect x="728" y="642.9" width="1" height="11.3" fill="#8e5258"/>
<rect x="730" y="641.8" width="1" height="5.8" fill="#a87880"/>
<rect x="732" y="636" width="1" height="7.7" fill="#384c5c"/>
<rect x="734" y="634.3" width="1" height="7.6" fill="#2c404c"/>
<rect x="736" y="631.1" width="1" height="13.4" fill="#8e5258"/>
<rect x="735.5" y="633.8" width="2" height="7.5" fill="#b48890" opacity="0.8"/>
<rect x="737" y="625.1" width="1" height="9.4" fill="#7a4048"/>
<rect x="739" y="621.8" width="1" height="10.4" fill="#384c5c"/>
<rect x="741" y="626" width="1" height="7.2" fill="#5a7886"/>
<rect x="743" y="615.6" width="1" height="15.8" fill="#b8949a"/>
<rect x="742.5" y="621.4" width="2" height="6.4" fill="#a8b8c4" opacity="0.8"/>
<rect x="745" y="617.6" width="1" height="8.4" fill="#2c404c"/>
<rect x="747" y="622.7" width="1" height="10.2" fill="#5a7886"/>
<rect x="749" y="630" width="1" height="12.3" fill="#5a7886"/>
<rect x="751" y="602.5" width="1" height="37.3" fill="#7a4048"/>
<rect x="752" y="594.5" width="1" height="17" fill="#b8949a"/>
<rect x="751.5" y="596.1" width="2" height="10" fill="#c29aa2" opacity="0.8"/>
<rect x="754" y="587.2" width="1" height="7.5" fill="#5a7886"/>
<rect x="756" y="585.9" width="1" height="10.9" fill="#8e5258"/>
<rect x="758" y="586.7" width="1" height="9.4" fill="#8e5258"/>
<rect x="760" y="586.4" width="1" height="11" fill="#83a0aa"/>
<rect x="762" y="581.8" width="1" height="22.9" fill="#8e5258"/>
<rect x="764" y="564.6" width="1" height="24.2" fill="#7a4048"/>
<rect x="765" y="551" width="1" height="24.3" fill="#a87880"/>
<rect x="767" y="539.2" width="1" height="20.4" fill="#b8949a"/>
<rect x="769" y="527.9" width="1" height="25.2" fill="#b8949a"/>
<rect x="768.5" y="535.1" width="2" height="11.9" fill="#c29aa2" opacity="0.8"/>
<rect x="771" y="532.5" width="1" height="12" fill="#5a7886"/>
<rect x="773" y="529.8" width="1" height="21.4" fill="#384c5c"/>
<rect x="775" y="540.7" width="1" height="21.4" fill="#5a7886"/>
<rect x="777" y="546.8" width="1" height="19.4" fill="#b8949a"/>
<rect x="778" y="539.3" width="1" height="11.4" fill="#b8949a"/>
<rect x="780" y="541.5" width="1" height="15.1" fill="#384c5c"/>
<rect x="782" y="545.8" width="1" height="15" fill="#5a7886"/>
<rect x="784" y="545.4" width="1" height="12.6" fill="#384c5c"/>
<rect x="786" y="546" width="1" height="14.1" fill="#5a7886"/>
<rect x="788" y="537.3" width="1" height="22.9" fill="#a87880"/>
<rect x="787.5" y="542.2" width="2" height="11.8" fill="#b48890" opacity="0.8"/>
<rect x="790" y="531.4" width="1" height="17.3" fill="#b8949a"/>
<rect x="791" y="526.8" width="1" height="12.4" fill="#8e5258"/>
<rect x="793" y="526.5" width="1" height="12.9" fill="#8e5258"/>
<rect x="795" y="528.9" width="1" height="18.1" fill="#5a7886"/>
<rect x="797" y="530.1" width="1" height="16.2" fill="#b8949a"/>
<rect x="799" y="534.6" width="1" height="5.4" fill="#b8949a"/>
<rect x="801" y="536.7" width="1" height="15" fill="#83a0aa"/>
<rect x="803" y="544.7" width="1" height="5.5" fill="#a87880"/>
<rect x="805" y="544.9" width="1" height="17.2" fill="#384c5c"/>
<rect x="806" y="550.8" width="1" height="11.4" fill="#5a7886"/>
<rect x="808" y="557.1" width="1" height="9.2" fill="#2c404c"/>
<rect x="810" y="552.5" width="1" height="13.4" fill="#384c5c"/>
<rect x="812" y="553.8" width="1" height="14.2" fill="#384c5c"/>
<rect x="814" y="554.1" width="1" height="12.3" fill="#5a7886"/>
<rect x="816" y="559.8" width="1" height="8" fill="#8e5258"/>
<rect x="818" y="548.1" width="1" height="19" fill="#8e5258"/>
<rect x="817.5" y="552.2" width="2" height="8" fill="#c29aa2" opacity="0.8"/>
<rect x="819" y="546.9" width="1" height="14.6" fill="#5a7886"/>
<rect x="821" y="558.5" width="1" height="14.7" fill="#83a0aa"/>
<rect x="823" y="559.3" width="1" height="16.2" fill="#384c5c"/>
<rect x="825" y="565.8" width="1" height="25.5" fill="#384c5c"/>
<rect x="827" y="582.4" width="1" height="6.6" fill="#2c404c"/>
<rect x="829" y="577.3" width="1" height="16.3" fill="#5a7886"/>
<rect x="831" y="580.7" width="1" height="15" fill="#7a4048"/>
<rect x="830.5" y="585.6" width="2" height="3.3" fill="#b48890" opacity="0.8"/>
<rect x="832" y="574.7" width="1" height="17.9" fill="#b8949a"/>
<rect x="831.5" y="580.3" width="2" height="5.7" fill="#b48890" opacity="0.8"/>
<rect x="834" y="568.3" width="1" height="16.1" fill="#7a4048"/>
<rect x="836" y="569.4" width="1" height="6.9" fill="#8e5258"/>
<rect x="838" y="563.6" width="1" height="11" fill="#7a4048"/>
<rect x="840" y="560.3" width="1" height="8.4" fill="#8e5258"/>
<rect x="842" y="564.2" width="1" height="14" fill="#2c404c"/>
<rect x="844" y="562.6" width="1" height="9.4" fill="#7a4048"/>
<rect x="845" y="554.9" width="1" height="18.2" fill="#a87880"/>
<rect x="844.5" y="561.4" width="2" height="6.4" fill="#c29aa2" opacity="0.8"/>
<rect x="847" y="543" width="1" height="23.3" fill="#7a4048"/>
<rect x="849" y="542.4" width="1" height="7.9" fill="#8e5258"/>
<rect x="848.5" y="545.2" width="2" height="3.3" fill="#b48890" opacity="0.8"/>
<rect x="851" y="540.1" width="1" height="11.1" fill="#384c5c"/>
<rect x="853" y="542.5" width="1" height="7.4" fill="#b8949a"/>
<rect x="855" y="538.7" width="1" height="8.9" fill="#7a4048"/>
<rect x="857" y="527.9" width="1" height="25.6" fill="#b8949a"/>
<rect x="856.5" y="530.1" width="2" height="15.7" fill="#b48890" opacity="0.8"/>
<rect x="859" y="526.1" width="1" height="14.3" fill="#384c5c"/>
<rect x="860" y="525.2" width="1" height="15.5" fill="#b8949a"/>
<rect x="862" y="511.2" width="1" height="30.1" fill="#b8949a"/>
<rect x="864" y="512.9" width="1" height="16" fill="#83a0aa"/>
<rect x="866" y="517.1" width="1" height="11.5" fill="#2c404c"/>
<rect x="868" y="522.5" width="1" height="8" fill="#2c404c"/>
<rect x="870" y="523.7" width="1" height="11.9" fill="#5a7886"/>
<rect x="872" y="486.8" width="1" height="9.8" fill="#2c404c"/>
<rect x="873" y="471.8" width="1" height="29.5" fill="#a87880"/>
<rect x="872.5" y="478.9" width="2" height="19.2" fill="#a8b8c4" opacity="0.8"/>
<rect x="875" y="461.9" width="1" height="23.2" fill="#7a4048"/>
<rect x="874.5" y="468.4" width="2" height="11" fill="#b48890" opacity="0.8"/>
<rect x="877" y="452.6" width="1" height="25.1" fill="#7a4048"/>
<rect x="876.5" y="459.3" width="2" height="11" fill="#a8b8c4" opacity="0.8"/>
<rect x="879" y="451.8" width="1" height="6.4" fill="#b8949a"/>
<rect x="881" y="438.8" width="1" height="15.8" fill="#8e5258"/>
<rect x="883" y="431.3" width="1" height="22.1" fill="#a87880"/>
<rect x="882.5" y="440.4" width="2" height="3.8" fill="#b48890" opacity="0.8"/>
<rect x="885" y="417.9" width="1" height="28.6" fill="#b8949a"/>
<rect x="886" y="418.7" width="1" height="16.8" fill="#a87880"/>
<rect x="885.5" y="422.2" width="2" height="3.8" fill="#c29aa2" opacity="0.8"/>
<rect x="888" y="407.9" width="1" height="23.1" fill="#7a4048"/>
<rect x="887.5" y="413.2" width="2" height="10.4" fill="#c29aa2" opacity="0.8"/>
<rect x="890" y="407.2" width="1" height="16" fill="#2c404c"/>
<rect x="892" y="402.3" width="1" height="27.9" fill="#8e5258"/>
<rect x="894" y="388" width="1" height="37.9" fill="#7a4048"/>
<rect x="893.5" y="393.7" width="2" height="22.8" fill="#c29aa2" opacity="0.8"/>
<rect x="896" y="384.6" width="1" height="19.1" fill="#83a0aa"/>
<rect x="898" y="363.7" width="1" height="35" fill="#a87880"/>
<rect x="897.5" y="371.3" width="2" height="25.1" fill="#b48890" opacity="0.8"/>
<rect x="899" y="365.8" width="1" height="8.2" fill="#a87880"/>
<rect x="901" y="357.8" width="1" height="21.4" fill="#7a4048"/>
<rect x="903" y="336" width="1" height="66" fill="#83a0aa"/>
<rect x="905" y="350.5" width="1" height="19.8" fill="#7a4048"/>
<rect x="904.5" y="360.3" width="2" height="6.8" fill="#a8b8c4" opacity="0.8"/>
<rect x="907" y="353.9" width="1" height="37.1" fill="#5a7886"/>
<rect x="909" y="382.7" width="1" height="12.5" fill="#83a0aa"/>
<rect x="911" y="384.5" width="1" height="24.6" fill="#5a7886"/>
<rect x="913" y="391.3" width="1" height="24.2" fill="#5a7886"/>
<rect x="914" y="398.9" width="1" height="24" fill="#384c5c"/>
<rect x="916" y="406" width="1" height="19.5" fill="#8e5258"/>
<rect x="918" y="397.6" width="1" height="17.9" fill="#b8949a"/>
<rect x="920" y="360.3" width="1" height="58.3" fill="#b8949a"/>
<rect x="919.5" y="371.7" width="2" height="34.3" fill="#a8b8c4" opacity="0.8"/>
<rect x="922" y="363" width="1" height="25.3" fill="#5a7886"/>
<rect x="924" y="372.7" width="1" height="26.9" fill="#83a0aa"/>
<rect x="926" y="362.6" width="1" height="30.5" fill="#a87880"/>
<rect x="925.5" y="371.4" width="2" height="18.5" fill="#c29aa2" opacity="0.8"/>
<rect x="927" y="354.6" width="1" height="22.6" fill="#a87880"/>
<rect x="929" y="341.9" width="1" height="42.1" fill="#2c404c"/>
<rect x="931" y="353.6" width="1" height="27.9" fill="#2c404c"/>
<rect x="933" y="361.9" width="1" height="20.7" fill="#8e5258"/>
<rect x="932.5" y="372.9" width="2" height="3.8" fill="#b48890" opacity="0.8"/>
<rect x="935" y="356.8" width="1" height="19.7" fill="#8e5258"/>
<rect x="937" y="352.5" width="1" height="34.5" fill="#2c404c"/>
<rect x="939" y="381.5" width="1" height="27.4" fill="#5a7886"/>
<rect x="940" y="393" width="1" height="43" fill="#83a0aa"/>
<rect x="942" y="424.1" width="1" height="11.7" fill="#2c404c"/>
<rect x="944" y="429.4" width="1" height="16.2" fill="#2c404c"/>
<rect x="946" y="430.9" width="1" height="35.2" fill="#5a7886"/>
<rect x="948" y="444.1" width="1" height="21.3" fill="#a87880"/>
<rect x="950" y="439.1" width="1" height="17.5" fill="#b8949a"/>
<rect x="952" y="445.3" width="1" height="19.5" fill="#384c5c"/>
<rect x="953" y="456.8" width="1" height="8.5" fill="#7a4048"/>
<rect x="955" y="449.7" width="1" height="31.2" fill="#83a0aa"/>
<rect x="957" y="470.4" width="1" height="20.9" fill="#a87880"/>
<rect x="956.5" y="475.5" width="2" height="5.9" fill="#b48890" opacity="0.8"/>
<rect x="959" y="465.5" width="1" height="25.3" fill="#5a7886"/>
<rect x="961" y="472" width="1" height="73" fill="#2c404c"/>
<rect x="963" y="481.2" width="1" height="37.9" fill="#8e5258"/>
<rect x="962.5" y="492.8" width="2" height="16.9" fill="#a8b8c4" opacity="0.8"/>
<rect x="965" y="483.5" width="1" height="20.1" fill="#a87880"/>
<rect x="964.5" y="489" width="2" height="5.7" fill="#a8b8c4" opacity="0.8"/>
<rect x="967" y="455.2" width="1" height="37.6" fill="#b8949a"/>
<rect x="966.5" y="465.7" width="2" height="19.8" fill="#c29aa2" opacity="0.8"/>
<rect x="968" y="447.6" width="1" height="20.6" fill="#b8949a"/>
<rect x="967.5" y="457.7" width="2" height="3.5" fill="#a8b8c4" opacity="0.8"/>
<rect x="970" y="438.7" width="1" height="18.1" fill="#b8949a"/>
<rect x="972" y="428.1" width="1" height="30.9" fill="#b8949a"/>
<rect x="974" y="398.6" width="1" height="46.9" fill="#a87880"/>
<rect x="973.5" y="407.2" width="2" height="31.5" fill="#b48890" opacity="0.8"/>
<rect x="976" y="392" width="1" height="24.3" fill="#2c404c"/>
<rect x="978" y="384.7" width="1" height="31.7" fill="#7a4048"/>
<rect x="980" y="381.1" width="1" height="22.7" fill="#8e5258"/>
<rect x="981" y="373.7" width="1" height="27.2" fill="#384c5c"/>
<rect x="983" y="391.5" width="1" height="13.4" fill="#7a4048"/>
<rect x="985" y="377" width="1" height="23.8" fill="#7a4048"/>
<rect x="984.5" y="390" width="2" height="4.8" fill="#c29aa2" opacity="0.8"/>
<rect x="987" y="371.7" width="1" height="35.3" fill="#2c404c"/>
<rect x="989" y="383.4" width="1" height="24.8" fill="#b8949a"/>
<rect x="988.5" y="385.8" width="2" height="19.6" fill="#a8b8c4" opacity="0.8"/>
<rect x="991" y="371.8" width="1" height="32.1" fill="#2c404c"/>
<rect x="993" y="376.1" width="1" height="22.2" fill="#b8949a"/>
<rect x="994" y="375.3" width="1" height="44.8" fill="#83a0aa"/>
<rect x="996" y="408.2" width="1" height="24.3" fill="#83a0aa"/>
<rect x="998" y="420.5" width="1" height="39.5" fill="#5a7886"/>
<rect x="1000" y="438.4" width="1" height="21.1" fill="#5a7886"/>
<rect x="1002" y="442.7" width="1" height="21.4" fill="#83a0aa"/>
<rect x="1004" y="454.4" width="1" height="8.6" fill="#83a0aa"/>
<rect x="1006" y="450.5" width="1" height="32.6" fill="#83a0aa"/>
<rect x="1007" y="467.9" width="1" height="24.8" fill="#2c404c"/>
<rect x="1009" y="472.3" width="1" height="11.9" fill="#b8949a"/>
<rect x="1011" y="449.6" width="1" height="29.6" fill="#b8949a"/>
<rect x="1010.5" y="453.4" width="2" height="22.1" fill="#b48890" opacity="0.8"/>
<rect x="1013" y="434.6" width="1" height="27.7" fill="#7a4048"/>
<rect x="1012.5" y="440.1" width="2" height="10.5" fill="#b48890" opacity="0.8"/>
<rect x="1015" y="433.3" width="1" height="15.8" fill="#a87880"/>
<rect x="1017" y="432.7" width="1" height="15.8" fill="#8e5258"/>
<rect x="1016.5" y="434.7" width="2" height="8.8" fill="#b48890" opacity="0.8"/>
<rect x="1019" y="423" width="1" height="21.4" fill="#2c404c"/>
<rect x="1021" y="424.7" width="1" height="24.2" fill="#b8949a"/>
<rect x="1022" y="402.1" width="1" height="31" fill="#7a4048"/>
<rect x="1024" y="401.6" width="1" height="25.6" fill="#83a0aa"/>
<rect x="1026" y="418.4" width="1" height="19.9" fill="#384c5c"/>
<rect x="1028" y="412.9" width="1" height="14.2" fill="#a87880"/>
<rect x="1030" y="404.2" width="1" height="18.5" fill="#5a7886"/>
<rect x="1032" y="416" width="1" height="13.9" fill="#a87880"/>
<rect x="1034" y="404.7" width="1" height="18.4" fill="#8e5258"/>
<rect x="1035" y="405.6" width="1" height="29" fill="#83a0aa"/>
<rect x="1037" y="403.7" width="1" height="24.1" fill="#8e5258"/>
<rect x="1036.5" y="407.9" width="2" height="17.6" fill="#c29aa2" opacity="0.8"/>
<rect x="1039" y="400.6" width="1" height="25.8" fill="#5a7886"/>
<rect x="1041" y="401" width="1" height="23.4" fill="#b8949a"/>
<rect x="1043" y="375.3" width="1" height="38.9" fill="#7a4048"/>
<rect x="1042.5" y="379.4" width="2" height="29.2" fill="#a8b8c4" opacity="0.8"/>
<rect x="1045" y="370.3" width="1" height="16.9" fill="#b8949a"/>
<rect x="1047" y="354.7" width="1" height="24.5" fill="#8e5258"/>
<rect x="1046.5" y="358.9" width="2" height="16.8" fill="#b48890" opacity="0.8"/>
<rect x="1048" y="344.7" width="1" height="20.5" fill="#8e5258"/>
<rect x="1050" y="343.6" width="1" height="16.9" fill="#8e5258"/>
<rect x="1049.5" y="350.5" width="2" height="4.5" fill="#a8b8c4" opacity="0.8"/>
<rect x="1052" y="342.8" width="1" height="18" fill="#a87880"/>
<rect x="1051.5" y="345.9" width="2" height="5.4" fill="#a8b8c4" opacity="0.8"/>
<rect x="1054" y="337.2" width="1" height="15.3" fill="#7a4048"/>
<rect x="1053.5" y="340.9" width="2" height="7.1" fill="#c29aa2" opacity="0.8"/>
<rect x="1056" y="332" width="1" height="14.8" fill="#7a4048"/>
<rect x="1058" y="341.7" width="1" height="7.3" fill="#b8949a"/>
<rect x="1060" y="337" width="1" height="16" fill="#384c5c"/>
<rect x="1061" y="336.6" width="1" height="14.8" fill="#384c5c"/>
<rect x="1063" y="327.7" width="1" height="32" fill="#b8949a"/>
<rect x="1062.5" y="331.4" width="2" height="17.8" fill="#b48890" opacity="0.8"/>
<rect x="1065" y="325.4" width="1" height="11.1" fill="#5a7886"/>
<rect x="1067" y="320.8" width="1" height="24.7" fill="#384c5c"/>
<rect x="1069" y="332.1" width="1" height="11.9" fill="#7a4048"/>
<rect x="1071" y="331.6" width="1" height="16.8" fill="#2c404c"/>
<rect x="1073" y="331.7" width="1" height="23.8" fill="#8e5258"/>
<rect x="1072.5" y="337.1" width="2" height="10.5" fill="#a8b8c4" opacity="0.8"/>
<rect x="1075" y="329.2" width="1" height="9.3" fill="#b8949a"/>
<rect x="1076" y="336" width="1" height="17.9" fill="#2c404c"/>
<rect x="1078" y="343.5" width="1" height="11.8" fill="#7a4048"/>
<rect x="1080" y="334.9" width="1" height="19.1" fill="#8e5258"/>
<rect x="1082" y="333.9" width="1" height="15.6" fill="#8e5258"/>
<rect x="1084" y="323.7" width="1" height="21.7" fill="#8e5258"/>
<rect x="1086" y="321.7" width="1" height="23.1" fill="#8e5258"/>
<rect x="1085.5" y="324" width="2" height="12.3" fill="#b48890" opacity="0.8"/>
<rect x="1088" y="308.2" width="1" height="21.4" fill="#a87880"/>
<rect x="1087.5" y="314.2" width="2" height="6.9" fill="#c29aa2" opacity="0.8"/>
<rect x="1089" y="300.5" width="1" height="16.5" fill="#7a4048"/>
<rect x="1091" y="304.9" width="1" height="15.3" fill="#a87880"/>
<rect x="1093" y="299.8" width="1" height="10.9" fill="#83a0aa"/>
<rect x="1095" y="305.4" width="1" height="11.1" fill="#5a7886"/>
<rect x="1097" y="303.1" width="1" height="15.1" fill="#384c5c"/>
<rect x="1099" y="301" width="1" height="15.7" fill="#384c5c"/>
<rect x="1101" y="289" width="1" height="27.4" fill="#b8949a"/>
<rect x="1100.5" y="294.6" width="2" height="19.7" fill="#c29aa2" opacity="0.8"/>
<rect x="1102" y="284.1" width="1" height="25.2" fill="#384c5c"/>
<rect x="1104" y="300.3" width="1" height="19.6" fill="#83a0aa"/>
<rect x="1106" y="286" width="1" height="64" fill="#2c404c"/>
<rect x="1108" y="307.6" width="1" height="29" fill="#83a0aa"/>
<rect x="1110" y="319.3" width="1" height="19.2" fill="#5a7886"/>
<rect x="1112" y="323.5" width="1" height="33.1" fill="#5a7886"/>
<rect x="1114" y="333.3" width="1" height="20.5" fill="#2c404c"/>
<rect x="1115" y="343.2" width="1" height="19.4" fill="#384c5c"/>
<rect x="1117" y="342.4" width="1" height="14.9" fill="#8e5258"/>
<rect x="1119" y="333.3" width="1" height="19.8" fill="#8e5258"/>
<rect x="1118.5" y="337.9" width="2" height="7.8" fill="#c29aa2" opacity="0.8"/>
<rect x="1121" y="329.5" width="1" height="16.3" fill="#5a7886"/>
<rect x="1123" y="332.7" width="1" height="13.9" fill="#b8949a"/>
<rect x="1122.5" y="338.8" width="2" height="3.7" fill="#c29aa2" opacity="0.8"/>
<rect x="1125" y="319.4" width="1" height="30" fill="#7a4048"/>
<rect x="1127" y="324" width="1" height="18.7" fill="#5a7886"/>
<rect x="1129" y="330.1" width="1" height="32.3" fill="#384c5c"/>
<rect x="1130" y="349.9" width="1" height="21.1" fill="#5a7886"/>
<rect x="1132" y="348.9" width="1" height="18.8" fill="#b8949a"/>
<rect x="1131.5" y="352.5" width="2" height="6.9" fill="#b48890" opacity="0.8"/>
<rect x="1134" y="341.1" width="1" height="24.7" fill="#384c5c"/>
<rect x="1136" y="352.2" width="1" height="21.1" fill="#83a0aa"/>
<rect x="1138" y="366.6" width="1" height="18.5" fill="#384c5c"/>
<rect x="1140" y="364.8" width="1" height="18.6" fill="#7a4048"/>
<rect x="1142" y="362.4" width="1" height="11.1" fill="#b8949a"/>
<rect x="1143" y="361.9" width="1" height="17.7" fill="#2c404c"/>
<rect x="1145" y="364" width="1" height="13" fill="#7a4048"/>
<rect x="1147" y="342.4" width="1" height="27.7" fill="#7a4048"/>
<rect x="1146.5" y="349.9" width="2" height="18.1" fill="#c29aa2" opacity="0.8"/>
<rect x="1149" y="339" width="1" height="24" fill="#384c5c"/>
<rect x="1151" y="336.8" width="1" height="16" fill="#b8949a"/>
<rect x="1153" y="331.7" width="1" height="24" fill="#2c404c"/>
<rect x="1155" y="333.5" width="1" height="33.4" fill="#a87880"/>
<rect x="1156" y="330.7" width="1" height="28.9" fill="#7a4048"/>
<rect x="1158" y="313.5" width="1" height="35.5" fill="#7a4048"/>
<rect x="1160" y="284.5" width="1" height="62.5" fill="#7a4048"/>
<rect x="1162" y="303.1" width="1" height="22.7" fill="#a87880"/>
<rect x="1161.5" y="311.4" width="2" height="5.4" fill="#b48890" opacity="0.8"/>
<rect x="1164" y="294.6" width="1" height="50.3" fill="#5a7886"/>
<rect x="1166" y="329.3" width="1" height="11.6" fill="#83a0aa"/>
<rect x="1168" y="326" width="1" height="27.6" fill="#5a7886"/>
<rect x="1169" y="340.1" width="1" height="15.3" fill="#b8949a"/>
<rect x="1171" y="334.6" width="1" height="22.6" fill="#2c404c"/>
<rect x="1173" y="339.5" width="1" height="26.4" fill="#5a7886"/>
<rect x="1175" y="330.4" width="1" height="40.8" fill="#a87880"/>
<rect x="1174.5" y="337.9" width="2" height="26.7" fill="#c29aa2" opacity="0.8"/>
<rect x="1177" y="313.1" width="1" height="39.1" fill="#a87880"/>
<rect x="1176.5" y="322.4" width="2" height="18.8" fill="#b48890" opacity="0.8"/>
<rect x="1179" y="315.8" width="1" height="14.4" fill="#2c404c"/>
<rect x="1181" y="306.1" width="1" height="18.9" fill="#7a4048"/>
<rect x="1183" y="388.4" width="1" height="25.9" fill="#8e5258"/>
<rect x="1184" y="382.3" width="1" height="46.5" fill="#83a0aa"/>
<rect x="1186" y="411.7" width="1" height="19.6" fill="#2c404c"/>
<rect x="1188" y="413.8" width="1" height="20" fill="#a87880"/>
<rect x="1190" y="414" width="1" height="19.1" fill="#7a4048"/>
<rect x="1189.5" y="419.2" width="2" height="3.5" fill="#a8b8c4" opacity="0.8"/>
<rect x="1192" y="411" width="1" height="18.2" fill="#2c404c"/>
<rect x="1194" y="417.7" width="1" height="15.2" fill="#7a4048"/>
<rect x="1196" y="396.1" width="1" height="35.2" fill="#a87880"/>
<rect x="1195.5" y="403.8" width="2" height="21.4" fill="#b48890" opacity="0.8"/>
<rect x="1197" y="388.7" width="1" height="24.1" fill="#7a4048"/>
<rect x="1196.5" y="400" width="2" height="5.1" fill="#b48890" opacity="0.8"/>
<rect x="1199" y="395.7" width="1" height="11.6" fill="#b8949a"/>
<rect x="1198.5" y="400.5" width="2" height="3.7" fill="#c29aa2" opacity="0.8"/>
<rect x="1201" y="374.6" width="1" height="33.5" fill="#b8949a"/>
<rect x="1203" y="375.5" width="1" height="18.6" fill="#8e5258"/>
<rect x="1202.5" y="378.9" width="2" height="7.4" fill="#a8b8c4" opacity="0.8"/>
<rect x="1205" y="363.5" width="1" height="17.7" fill="#a87880"/>
<rect x="1204.5" y="370.2" width="2" height="8" fill="#b48890" opacity="0.8"/>
<rect x="1207" y="342.5" width="1" height="40.5" fill="#7a4048"/>
<rect x="1209" y="335.6" width="1" height="28.1" fill="#2c404c"/>
<rect x="1210" y="349.9" width="1" height="15.7" fill="#384c5c"/>
<rect x="1212" y="348.2" width="1" height="16" fill="#8e5258"/>
<rect x="1214" y="344.4" width="1" height="21.1" fill="#7a4048"/>
<rect x="1216" y="345.1" width="1" height="15.4" fill="#384c5c"/>
<rect x="1218" y="336.5" width="1" height="24.4" fill="#a87880"/>
<rect x="1220" y="333" width="1" height="40.7" fill="#83a0aa"/>
<rect x="1222" y="358.9" width="1" height="27.6" fill="#2c404c"/>
<rect x="1223" y="365.7" width="1" height="17.6" fill="#384c5c"/>
<rect x="1225" y="358.3" width="1" height="37.6" fill="#2c404c"/>
<rect x="1227" y="383.9" width="1" height="37.5" fill="#5a7886"/>
<rect x="1229" y="405" width="1" height="39.6" fill="#5a7886"/>
<rect x="1231" y="431.3" width="1" height="24.4" fill="#83a0aa"/>
<rect x="1233" y="444.5" width="1" height="20.2" fill="#384c5c"/>
<rect x="1235" y="452.3" width="1" height="20.3" fill="#83a0aa"/>
<rect x="1237" y="452" width="1" height="20.1" fill="#b8949a"/>
<rect x="1238" y="443.9" width="1" height="16.5" fill="#7a4048"/>
<rect x="1240" y="445.3" width="1" height="22.7" fill="#8e5258"/>
<rect x="1239.5" y="452.5" width="2" height="4.5" fill="#c29aa2" opacity="0.8"/>
<rect x="1242" y="442.2" width="1" height="20.2" fill="#7a4048"/>
<rect x="1244" y="427.4" width="1" height="19.9" fill="#b8949a"/>
<rect x="1243.5" y="434.5" width="2" height="9" fill="#b48890" opacity="0.8"/>
<rect x="1246" y="420.7" width="1" height="24.6" fill="#384c5c"/>
<rect x="1248" y="433" width="1" height="16.6" fill="#b8949a"/>
<rect x="1250" y="428.1" width="1" height="14.9" fill="#7a4048"/>
<rect x="1251" y="416.8" width="1" height="21.8" fill="#8e5258"/>
<rect x="1250.5" y="423" width="2" height="9.8" fill="#a8b8c4" opacity="0.8"/>
<rect x="1253" y="417.6" width="1" height="23.5" fill="#2c404c"/>
<rect x="1255" y="415" width="1" height="29.6" fill="#a87880"/>
<rect x="1257" y="410.6" width="1" height="25.5" fill="#5a7886"/>
<rect x="1259" y="425.2" width="1" height="27.1" fill="#5a7886"/>
<rect x="1261" y="432.9" width="1" height="28.3" fill="#5a7886"/>
<rect x="1263" y="439.8" width="1" height="33.8" fill="#384c5c"/>
<rect x="1264" y="454.3" width="1" height="23.2" fill="#8e5258"/>
<rect x="1266" y="457.6" width="1" height="32.8" fill="#2c404c"/>
<rect x="1268" y="470.4" width="1" height="19.3" fill="#2c404c"/>
<rect x="1270" y="481.3" width="1" height="11.9" fill="#5a7886"/>
<rect x="1272" y="488.5" width="1" height="11.5" fill="#8e5258"/>
<rect x="1274" y="482" width="1" height="80" fill="#5a7886"/>
<rect x="1276" y="516.7" width="1" height="17.8" fill="#2c404c"/>
<rect x="1277" y="499.3" width="1" height="31.3" fill="#7a4048"/>
<rect x="1276.5" y="502.5" width="2" height="25.6" fill="#c29aa2" opacity="0.8"/>
<rect x="1279" y="478.6" width="1" height="32.8" fill="#b8949a"/>
<rect x="1281" y="469.8" width="1" height="23.4" fill="#7a4048"/>
<rect x="1283" y="468.7" width="1" height="23.1" fill="#a87880"/>
<rect x="1285" y="461.4" width="1" height="28" fill="#a87880"/>
<rect x="1287" y="458.5" width="1" height="25.8" fill="#384c5c"/>
<rect x="1289" y="477.3" width="1" height="12.8" fill="#384c5c"/>
<rect x="1291" y="478.8" width="1" height="15.5" fill="#83a0aa"/>
<rect x="1292" y="478.1" width="1" height="13.1" fill="#7a4048"/>
<rect x="1294" y="472" width="1" height="21.7" fill="#2c404c"/>
<rect x="1296" y="481.5" width="1" height="10.9" fill="#384c5c"/>
<rect x="1298" y="472.3" width="1" height="27.5" fill="#b8949a"/>
<rect x="1300" y="474.9" width="1" height="14.5" fill="#a87880"/>
<rect x="1302" y="461.6" width="1" height="20.6" fill="#8e5258"/>
<rect x="1301.5" y="469.4" width="2" height="8" fill="#c29aa2" opacity="0.8"/>
<rect x="1304" y="468.2" width="1" height="9.7" fill="#83a0aa"/>
<rect x="1305" y="451.6" width="1" height="25.9" fill="#b8949a"/>
<rect x="1307" y="443.5" width="1" height="22" fill="#8e5258"/>
<rect x="1309" y="444.4" width="1" height="17" fill="#a87880"/>
<rect x="1311" y="443.5" width="1" height="12.2" fill="#b8949a"/>
<rect x="1313" y="436.7" width="1" height="14.6" fill="#2c404c"/>
<rect x="1315" y="429.9" width="1" height="22.3" fill="#a87880"/>
<rect x="1314.5" y="436.4" width="2" height="8.5" fill="#a8b8c4" opacity="0.8"/>
<rect x="1317" y="425.2" width="1" height="13.6" fill="#b8949a"/>
<rect x="1318" y="418.9" width="1" height="13.7" fill="#a87880"/>
<rect x="1320" y="378" width="1" height="42" fill="#b8949a"/>
<rect x="1322" y="374.9" width="1" height="25" fill="#a87880"/>
<rect x="1324" y="352.2" width="1" height="31.5" fill="#a87880"/>
<rect x="1326" y="352.2" width="1" height="19.2" fill="#5a7886"/>
<rect x="1328" y="366.3" width="1" height="9.1" fill="#8e5258"/>
<rect x="1330" y="353.1" width="1" height="19.8" fill="#a87880"/>
<rect x="1331" y="356.7" width="1" height="19.1" fill="#5a7886"/>
<rect x="1333" y="358.6" width="1" height="13.7" fill="#5a7886"/>
<rect x="1335" y="361.1" width="1" height="20.9" fill="#384c5c"/>
<rect x="1337" y="368.5" width="1" height="14.5" fill="#7a4048"/>
<rect x="1339" y="367.2" width="1" height="15.9" fill="#b8949a"/>
<rect x="1338.5" y="369.4" width="2" height="6.8" fill="#b48890" opacity="0.8"/>
<rect x="1341" y="347.1" width="1" height="32.5" fill="#b8949a"/>
<rect x="1343" y="327.6" width="1" height="32.6" fill="#8e5258"/>
<rect x="1345" y="335.7" width="1" height="9.9" fill="#5a7886"/>
<rect x="1346" y="332.7" width="1" height="16.9" fill="#a87880"/>
<rect x="1348" y="330.1" width="1" height="27.8" fill="#8e5258"/>
<rect x="1350" y="330.5" width="1" height="14.8" fill="#83a0aa"/>
<rect x="1352" y="330.6" width="1" height="11.6" fill="#5a7886"/>
<rect x="1354" y="318.1" width="1" height="27.7" fill="#b8949a"/>
<rect x="1356" y="311.9" width="1" height="16.3" fill="#8e5258"/>
<rect x="1358" y="320" width="1" height="14.1" fill="#8e5258"/>
<rect x="1359" y="314" width="1" height="22.5" fill="#83a0aa"/>
<rect x="1361" y="321" width="1" height="16.1" fill="#b8949a"/>
<rect x="1360.5" y="323.7" width="2" height="3.3" fill="#a8b8c4" opacity="0.8"/>
<rect x="1363" y="321.1" width="1" height="22.3" fill="#83a0aa"/>
<rect x="1365" y="323.3" width="1" height="15.9" fill="#a87880"/>
<rect x="1364.5" y="330.9" width="2" height="5.7" fill="#a8b8c4" opacity="0.8"/>
<rect x="1367" y="311.8" width="1" height="35.3" fill="#8e5258"/>
<rect x="1369" y="315.8" width="1" height="16.5" fill="#384c5c"/>
<rect x="1371" y="316.6" width="1" height="11.6" fill="#5a7886"/>
<rect x="1372" y="316.8" width="1" height="18.6" fill="#a87880"/>
<rect x="1371.5" y="318.8" width="2" height="6.3" fill="#a8b8c4" opacity="0.8"/>
<rect x="1374" y="293.1" width="1" height="38.9" fill="#7a4048"/>
<rect x="1376" y="288.7" width="1" height="18.5" fill="#8e5258"/>
<rect x="1375.5" y="292.2" width="2" height="6.9" fill="#b48890" opacity="0.8"/>
<rect x="1378" y="284.2" width="1" height="16" fill="#7a4048"/>
<rect x="1377.5" y="290.7" width="2" height="6.5" fill="#a8b8c4" opacity="0.8"/>
<rect x="1380" y="270.4" width="1" height="29" fill="#7a4048"/>
<rect x="1379.5" y="280.7" width="2" height="13.6" fill="#b48890" opacity="0.8"/>
<rect x="1382" y="273.1" width="1" height="26.1" fill="#a87880"/>
<rect x="1381.5" y="283.2" width="2" height="7.4" fill="#c29aa2" opacity="0.8"/>
<rect x="1384" y="272.4" width="1" height="15.8" fill="#b8949a"/>
<rect x="1383.5" y="276.7" width="2" height="8.8" fill="#b48890" opacity="0.8"/>
<rect x="1385" y="272.2" width="1" height="13.9" fill="#2c404c"/>
<rect x="1387" y="258.4" width="1" height="29.2" fill="#8e5258"/>
<rect x="1389" y="240.4" width="1" height="36.5" fill="#a87880"/>
<rect x="1388.5" y="249" width="2" height="16.5" fill="#b48890" opacity="0.8"/>
<rect x="1391" y="238.5" width="1" height="19.3" fill="#2c404c"/>
<rect x="1393" y="222.3" width="1" height="41.6" fill="#7a4048"/>
<rect x="1392.5" y="228.1" width="2" height="30" fill="#a8b8c4" opacity="0.8"/>
<rect x="1395" y="214.8" width="1" height="16.6" fill="#7a4048"/>
<rect x="1397" y="210.5" width="1" height="18.4" fill="#b8949a"/>
<rect x="1398" y="212" width="1" height="8.5" fill="#7a4048"/>
<rect x="1400" y="198.6" width="1" height="28.9" fill="#384c5c"/>
<rect x="1402" y="209.6" width="1" height="19.6" fill="#7a4048"/>
<rect x="1401.5" y="218.3" width="2" height="3.2" fill="#c29aa2" opacity="0.8"/>
<rect x="1404" y="206.2" width="1" height="32.2" fill="#b8949a"/>
<rect x="1406" y="196" width="1" height="30.9" fill="#384c5c"/>
<rect x="1408" y="202.1" width="1" height="24.5" fill="#7a4048"/>
<rect x="1410" y="199" width="1" height="17.3" fill="#b8949a"/>
<rect x="1412" y="191.6" width="1" height="19.3" fill="#8e5258"/>
<rect x="1413" y="194.7" width="1" height="23.3" fill="#b8949a"/>
<rect x="1415" y="175.9" width="1" height="32.1" fill="#7a4048"/>
<rect x="1417" y="173.7" width="1" height="20" fill="#b8949a"/>
<rect x="1419" y="164.7" width="1" height="25" fill="#b8949a"/>
<rect x="1421" y="175.8" width="1" height="18.6" fill="#2c404c"/>
<rect x="1423" y="165.3" width="1" height="26.6" fill="#5a7886"/>
<rect x="1425" y="161.6" width="1" height="36.9" fill="#8e5258"/>
<rect x="1426" y="172.2" width="1" height="11.6" fill="#5a7886"/>
<rect x="1428" y="165.5" width="1" height="16.5" fill="#384c5c"/>
<rect x="1430" y="145.1" width="1" height="50.2" fill="#8e5258"/>
<rect x="1432" y="139.5" width="1" height="20.4" fill="#8e5258"/>
<rect x="1434" y="138.2" width="1" height="23.8" fill="#5a7886"/>
<rect x="1436" y="153" width="1" height="9.6" fill="#b8949a"/>
<rect x="1438" y="162.2" width="1" height="10.2" fill="#384c5c"/>
<rect x="1439" y="158.9" width="1" height="14.8" fill="#5a7886"/>
<rect x="1441" y="157.7" width="1" height="26.5" fill="#2c404c"/>
<rect x="1443" y="165.5" width="1" height="20.6" fill="#b8949a"/>
<rect x="1445" y="169.1" width="1" height="14.6" fill="#7a4048"/>
<rect x="1447" y="165.9" width="1" height="22.1" fill="#5a7886"/>
<rect x="1449" y="168.4" width="1" height="27" fill="#5a7886"/>
<rect x="1451" y="172.6" width="1" height="30.1" fill="#384c5c"/>
<rect x="1452" y="174.9" width="1" height="25.4" fill="#8e5258"/>
<rect x="1454" y="168.4" width="1" height="22.4" fill="#2c404c"/>
<rect x="1456" y="176.4" width="1" height="28.3" fill="#5a7886"/>
<rect x="1458" y="173.1" width="1" height="30.8" fill="#8e5258"/>
<rect x="1460" y="173.7" width="1" height="19.9" fill="#7a4048"/>
<rect x="1459.5" y="180.6" width="2" height="5.4" fill="#c29aa2" opacity="0.8"/>
<rect x="1462" y="170.7" width="1" height="25.2" fill="#83a0aa"/>
<rect x="1464" y="177" width="1" height="32.7" fill="#2c404c"/>
<rect x="1466" y="191.2" width="1" height="28.3" fill="#83a0aa"/>
<rect x="1467" y="215.4" width="1" height="18.4" fill="#5a7886"/>
<rect x="1469" y="222.7" width="1" height="13" fill="#2c404c"/>
<rect x="1471" y="212.1" width="1" height="19.1" fill="#7a4048"/>
<rect x="1473" y="181.1" width="1" height="47.6" fill="#7a4048"/>
<rect x="1472.5" y="194.1" width="2" height="23.5" fill="#a8b8c4" opacity="0.8"/>
<rect x="1475" y="186.5" width="1" height="14.4" fill="#5a7886"/>
<rect x="1477" y="188.2" width="1" height="28.3" fill="#2c404c"/>
<rect x="1479" y="181.3" width="1" height="41.7" fill="#b8949a"/>
<rect x="1478.5" y="193.2" width="2" height="21.4" fill="#b48890" opacity="0.8"/>
<rect x="1480" y="176.3" width="1" height="22.2" fill="#b8949a"/>
<rect x="1479.5" y="179.1" width="2" height="13.8" fill="#c29aa2" opacity="0.8"/>
<rect x="1482" y="161.3" width="1" height="32.9" fill="#384c5c"/>
<rect x="1484" y="176.6" width="1" height="20.3" fill="#a87880"/>
<rect x="1483.5" y="184.9" width="2" height="5.5" fill="#a8b8c4" opacity="0.8"/>
<rect x="1486" y="164.2" width="1" height="28.2" fill="#8e5258"/>
<rect x="1485.5" y="173.1" width="2" height="13" fill="#b48890" opacity="0.8"/>
<rect x="1488" y="157.6" width="1" height="27.7" fill="#384c5c"/>
<rect x="1490" y="169.6" width="1" height="19.3" fill="#2c404c"/>
<rect x="1492" y="165.3" width="1" height="26.5" fill="#a87880"/>
<rect x="1493" y="156.2" width="1" height="30.4" fill="#a87880"/>
<rect x="1495" y="142.9" width="1" height="40.2" fill="#a87880"/>
<rect x="1494.5" y="150.2" width="2" height="20.4" fill="#c29aa2" opacity="0.8"/>
<rect x="1497" y="142.3" width="1" height="26.7" fill="#2c404c"/>
<rect x="1499" y="153" width="1" height="16.2" fill="#b8949a"/>
<rect x="1501" y="147.7" width="1" height="21.9" fill="#83a0aa"/>
<rect x="1503" y="137.7" width="1" height="22.3" fill="#b8949a"/>
<rect x="1505" y="127.7" width="1" height="21.1" fill="#5a7886"/>
<rect x="1506" y="131.8" width="1" height="27.6" fill="#b8949a"/>
<rect x="1508" y="125.4" width="1" height="35.7" fill="#7a4048"/>
<rect x="1507.5" y="131" width="2" height="16.4" fill="#c29aa2" opacity="0.8"/>
<rect x="1510" y="125.4" width="1" height="19.3" fill="#5a7886"/>
<rect x="1512" y="129.7" width="1" height="24.7" fill="#83a0aa"/>
<rect x="1514" y="121.7" width="1" height="29.8" fill="#8e5258"/>
<rect x="1516" y="115.6" width="1" height="23" fill="#5a7886"/>
<rect x="1518" y="110" width="1" height="50" fill="#83a0aa"/>
<rect x="1520" y="134.2" width="1" height="23.7" fill="#5a7886"/>
<rect x="1521" y="139.5" width="1" height="36.8" fill="#5a7886"/>
<rect x="1523" y="153.2" width="1" height="19.5" fill="#83a0aa"/>
<rect x="1525" y="147.1" width="1" height="58.4" fill="#83a0aa"/>
<rect x="1527" y="167.5" width="1" height="41.7" fill="#b8949a"/>
<rect x="1529" y="168.3" width="1" height="24.4" fill="#8e5258"/>
<rect x="1531" y="158" width="1" height="20.2" fill="#a87880"/>
<rect x="1533" y="140.2" width="1" height="36.7" fill="#a87880"/>
<rect x="1534" y="125.8" width="1" height="43.9" fill="#b8949a"/>
<rect x="1533.5" y="136.8" width="2" height="16.8" fill="#a8b8c4" opacity="0.8"/>
<rect x="1536" y="88.2" width="1" height="61.6" fill="#8e5258"/>
<rect x="1538" y="72.5" width="1" height="46.6" fill="#8e5258"/>
<rect x="1537.5" y="79" width="2" height="26.2" fill="#a8b8c4" opacity="0.8"/>
<rect x="1540" y="39.5" width="1" height="42.5" fill="#8e5258"/>
<rect x="1542" y="45.6" width="1" height="29.5" fill="#8e5258"/>
<rect x="1544" y="41.9" width="1" height="22.8" fill="#8e5258"/>
<rect x="1546" y="44.7" width="1" height="34.9" fill="#83a0aa"/>
<rect x="1547" y="52.5" width="1" height="24.6" fill="#b8949a"/>
<rect x="1546.5" y="65.5" width="2" height="6.2" fill="#a8b8c4" opacity="0.8"/>
<rect x="1549" y="68.2" width="1" height="43.6" fill="#2c404c"/>
<rect x="1551" y="87.3" width="1" height="31.9" fill="#5a7886"/>
<rect x="1553" y="103.5" width="1" height="34.3" fill="#83a0aa"/>
<rect x="1555" y="125.3" width="1" height="16.1" fill="#a87880"/>
<rect x="1557" y="106.5" width="1" height="32.2" fill="#a87880"/>
<rect x="1556.5" y="112.1" width="2" height="18.1" fill="#a8b8c4" opacity="0.8"/>
<rect x="1559" y="108" width="1" height="62" fill="#8e5258"/>
<rect x="1558.5" y="114.5" width="2" height="24.5" fill="#c29aa2" opacity="0.8"/>
<rect x="1560" y="100.5" width="1" height="54.6" fill="#8e5258"/>
<rect x="1562" y="93.3" width="1" height="30.7" fill="#384c5c"/>
<rect x="1564" y="114.7" width="1" height="18.9" fill="#2c404c"/>
<rect x="1566" y="118.2" width="1" height="29.8" fill="#384c5c"/>
<rect x="1568" y="129.3" width="1" height="22.8" fill="#2c404c"/>
<rect x="1570" y="121.8" width="1" height="23.2" fill="#a87880"/>
<rect x="1569.5" y="134.3" width="2" height="7.3" fill="#a8b8c4" opacity="0.8"/>
<rect x="1572" y="124.5" width="1" height="30.8" fill="#83a0aa"/>
<rect x="1574" y="133.9" width="1" height="29.7" fill="#83a0aa"/>
<rect x="1575" y="137.1" width="1" height="38.5" fill="#384c5c"/>
<rect x="1577" y="163.3" width="1" height="26.6" fill="#2c404c"/>
<rect x="1579" y="170.3" width="1" height="27.8" fill="#b8949a"/>
<rect x="1581" y="167.9" width="1" height="21.3" fill="#a87880"/>
<rect x="1583" y="142.4" width="1" height="54.5" fill="#a87880"/>
<rect x="1582.5" y="158.2" width="2" height="25.6" fill="#b48890" opacity="0.8"/>
<rect x="1585" y="138.8" width="1" height="34.8" fill="#a87880"/>
<rect x="1587" y="140.1" width="1" height="29.5" fill="#83a0aa"/>
<rect x="1588" y="148.4" width="1" height="35" fill="#5a7886"/>
<rect x="1590" y="149.4" width="1" height="35.6" fill="#b8949a"/>
<rect x="1592" y="148.8" width="1" height="33.5" fill="#5a7886"/>
<rect x="1594" y="149.6" width="1" height="45.8" fill="#384c5c"/>
<rect x="1596" y="159.7" width="1" height="32.7" fill="#b8949a"/>
<rect x="1595.5" y="173" width="2" height="6.6" fill="#a8b8c4" opacity="0.8"/>
<rect x="1598" y="155.3" width="1" height="39.3" fill="#2c404c"/>
<rect x="1600" y="169.4" width="1" height="34.3" fill="#384c5c"/>
<rect x="1601" y="185.9" width="1" height="18.6" fill="#a87880"/>
<rect x="1600.5" y="191.4" width="2" height="8.1" fill="#a8b8c4" opacity="0.8"/>
<rect x="1603" y="169.4" width="1" height="37" fill="#8e5258"/>
<rect x="1605" y="158.6" width="1" height="25.9" fill="#7a4048"/>
<rect x="1607" y="144.6" width="1" height="33.8" fill="#83a0aa"/>
<rect x="1609" y="141" width="1" height="38.7" fill="#8e5258"/>
<rect x="1608.5" y="152.3" width="2" height="13.7" fill="#c29aa2" opacity="0.8"/>
<rect x="1611" y="126.5" width="1" height="44.3" fill="#a87880"/>
<rect x="1613" y="137.7" width="1" height="14.8" fill="#2c404c"/>
<rect x="1614" y="133.1" width="1" height="20.3" fill="#83a0aa"/>
<rect x="1616" y="127.4" width="1" height="34.3" fill="#7a4048"/>
<rect x="1615.5" y="134.8" width="2" height="12.7" fill="#b48890" opacity="0.8"/>
<rect x="1618" y="125.1" width="1" height="13.3" fill="#b8949a"/>
<rect x="1620" y="112.4" width="1" height="31.1" fill="#384c5c"/>
<rect x="1622" y="131.7" width="1" height="26.2" fill="#2c404c"/>
<rect x="1624" y="128.2" width="1" height="26.8" fill="#a87880"/>
<rect x="1623.5" y="143.8" width="2" height="3.8" fill="#c29aa2" opacity="0.8"/>
<rect x="1626" y="133.5" width="1" height="34.7" fill="#a87880"/>
<rect x="1628" y="118" width="1" height="39.2" fill="#7a4048"/>
<rect x="1627.5" y="133.4" width="2" height="14.3" fill="#b48890" opacity="0.8"/>
<rect x="1629" y="119.5" width="1" height="29.1" fill="#384c5c"/>
<rect x="1631" y="139" width="1" height="20.9" fill="#83a0aa"/>
<rect x="1633" y="125" width="1" height="29.3" fill="#a87880"/>
<rect x="1635" y="120.4" width="1" height="40.3" fill="#2c404c"/>
<rect x="1637" y="123.7" width="1" height="46.4" fill="#a87880"/>
<rect x="1639" y="132.6" width="1" height="39.5" fill="#5a7886"/>
<rect x="1641" y="134.9" width="1" height="34.8" fill="#a87880"/>
<rect x="1642" y="117.7" width="1" height="36.2" fill="#8e5258"/>
<rect x="1641.5" y="132.2" width="2" height="12.5" fill="#b48890" opacity="0.8"/>
<rect x="1644" y="117" width="1" height="38.5" fill="#a87880"/>
<rect x="1643.5" y="120.3" width="2" height="21.6" fill="#a8b8c4" opacity="0.8"/>
<rect x="1646" y="106.3" width="1" height="31.3" fill="#83a0aa"/>
<rect x="1648" y="107.6" width="1" height="37.4" fill="#384c5c"/>
<rect x="1650" y="120.5" width="1" height="38.3" fill="#7a4048"/>
<rect x="1652" y="130.5" width="1" height="16" fill="#2c404c"/>
<rect x="1654" y="117.4" width="1" height="37.2" fill="#a87880"/>
<rect x="1653.5" y="128.5" width="2" height="19.8" fill="#c29aa2" opacity="0.8"/>
<rect x="1655" y="114.8" width="1" height="29.8" fill="#5a7886"/>
<rect x="1657" y="122.4" width="1" height="44.8" fill="#384c5c"/>
<rect x="1659" y="135.3" width="1" height="40" fill="#7a4048"/>
<rect x="1658.5" y="147" width="2" height="16.9" fill="#c29aa2" opacity="0.8"/>
<rect x="1661" y="139.9" width="1" height="39.3" fill="#83a0aa"/>
<rect x="1663" y="158.1" width="1" height="31.7" fill="#83a0aa"/>
<rect x="1665" y="172" width="1" height="39" fill="#83a0aa"/>
<rect x="1667" y="182" width="1" height="18" fill="#a87880"/>
<rect x="1666.5" y="188.1" width="2" height="4.8" fill="#b48890" opacity="0.8"/>
<rect x="1668" y="181" width="1" height="22.5" fill="#2c404c"/>
<rect x="1670" y="151.8" width="1" height="52.5" fill="#b8949a"/>
<rect x="1672" y="134.1" width="1" height="34.4" fill="#a87880"/>
<rect x="1674" y="134" width="1" height="21.8" fill="#7a4048"/>
<rect x="1676" y="122.2" width="1" height="32.5" fill="#a87880"/>
<rect x="1675.5" y="133" width="2" height="9" fill="#c29aa2" opacity="0.8"/>
<polyline points="0,833 59,833 63,835 68,837 73,838 75,841.7 80,849 92.7,849.5 95.8,854.7 108.3,855.2 114.6,858.9 147,859.2 149,860 245,860 250,857.5 255,855.6 262.5,853 267.5,852 283.8,851.2 286,850 297.5,849.4 307.5,848.8 312.5,846.2 317.5,842 330,840 336,837 355,837 357.5,835 367.5,835 370,833 388.8,833 392.5,829.4 394,828 401.5,828 402.2,812.5 407.5,805.8 426,805.8 430,799 439,796 446,791.7 459,791.7 463,779.7 485,779.7 487,776.4 509,776.4 511,773 518,765.5 522,763.3 568,763.3 577,760 590,760 599,757.8 605,755.6 607.5,741.4 620.6,741.4 627,737 629,735.3 690.6,735.3 695,728 704,722.8 712.5,710.8 721,709.2 725,709 728,697 738,686.6 749.4,686.6 752.6,669.5 760.7,669.5 764,658 770,639 773.6,637.2 812.4,637.2 818.8,626 854,626 867,622 870.5,603 873.7,584.6 883.4,582.3 886.6,564.6 893,561.3 899.6,532.3 906,516 914,504 924,500.9 933.6,491.2 951.4,491.2 953,476.6 956,470.8 1030.5,470.8 1033.7,467 1040,459 1046.6,447.6 1053,444.4 1059,441 1062.8,433 1082,431.4 1088.6,420 1103,419 1106,415.3 1162,415.3 1165,412 1167.8,400.8 1173,392.7 1205.6,392.7 1210,384.6 1215,368.5 1226.6,366.9 1233,373.3 1237.9,384.6 1267,384.6 1271.8,392.7 1273.4,412 1275,422.4 1363.8,422.4 1365.4,431.4 1375,431.4 1376.7,421.8 1378.3,412 1388,405.6 1394.5,396 1401,379.8 1413.8,378 1423.5,359.8 1440,357.4 1479,357.4 1479.5,341 1496,340 1499.5,320 1504.3,307.4 1509,294.5 1512.4,284.8 1519,275 1525.3,249 1527,246 1536.6,246 1540,213.7 1543,204 1548,202.4 1556,186.3 1560.8,185.3 1573.7,185.3 1577,175 1583.4,163.7 1593,150.8 1599.6,142.7 1606,137.9 1673.8,137.9 1677,133" fill="none" stroke="#15665a" stroke-width="1.8"/>
<polyline points="0,820.5 49,820.5 57,824 62.5,826 73,829 96,833.3 104,833.9 107,837.5 114.6,839 210,839 219,852 230,852.5 245,857.5 250,857.5 255,855.6 262.5,853 267.5,852 283.8,851.2 286,850 297.5,849.4 307.5,848.8 312.5,846.2 317.5,842.5 323.8,841.2 336,840.6 365,840.6 367.5,839.4 386,838.8 390,835 397.5,833.8 400,830 402.5,817.5 407.5,812.5 426,812.5 428,808.8 461,808.8 464,800.5 476,797 502,794 518,794 520,788.4 577,788.4 588,784 599,778.6 612,775.3 634,775.3 636,770.5 662,770.5 666.6,766.6 675,763.3 688,763.3 695,755.6 701.6,749 712.5,737 723.5,732.7 725,732.5 728.4,722.8 738,709.2 747.8,703.4 754,684 762.3,668 767,648.5 773.6,637.2 869,637.2 870.5,603 873.7,600 883.4,598.5 886.6,579 893,577.5 902.8,548.4 904.6,547 961,547 962.7,538 969,535 1002.6,535 1015.5,530.5 1043.4,530.5 1046.6,519 1054,515.5 1059.6,509 1062.8,497.6 1076.8,493.6 1079,492.8 1088.6,471.8 1103,470.8 1106.4,446 1178,446 1184.6,438 1194,430 1199,419 1210.4,414.7 1271.8,414.7 1275,422.4 1375,422.4 1378.3,412 1388,405.6 1394.5,396 1401,379.8 1413.8,378 1423.5,359.8 1440,357.4 1499,357.4 1502,346 1513.6,343 1515,334.5 1536,334.5 1538,320 1540.5,299.3 1628.6,299.3 1630,283 1646.4,283 1648,265.4 1657.7,265.4 1659.3,249.3 1667.4,249.3 1672.2,236.3 1677,212" fill="none" stroke="#b89fd4" stroke-width="1.7"/>
<ellipse cx="309.5" cy="810" rx="23" ry="22.5" fill="none" stroke="#e01c1c" stroke-width="3.6"/>
<ellipse cx="331" cy="848" rx="31" ry="18.5" fill="none" stroke="#e01c1c" stroke-width="3.6"/>
<text x="1412" y="31" font-family="Liberation Sans, NanumGothic, Noto Sans CJK KR, sans-serif" font-size="13.5" fill="#5a2228" textLength="113" lengthAdjust="spacingAndGlyphs">최고 212,1899 (10/29)</text>
<polyline points="1529,24.5 1541,24.5 1541,31" fill="none" stroke="#3a2a2a" stroke-width="1"/>
<polygon points="1536.5,31 1545.5,31 1541,35.5" fill="#c81818"/>
<text x="841" y="387" font-family="Liberation Sans, NanumGothic, Noto Sans CJK KR, sans-serif" font-size="13.5" fill="#111" textLength="97" lengthAdjust="spacingAndGlyphs">액면분할(-90,00%)</text>
<rect x="890" y="389" width="1" height="13" fill="#333"/>
<polygon points="885,402 896,402 890.5,408" fill="#d41a1a"/>
<text x="131" y="895" font-family="Liberation Sans, NanumGothic, Noto Sans CJK KR, sans-serif" font-size="13.5" fill="#2a2a48" textLength="106" lengthAdjust="spacingAndGlyphs">최저 10,8130 (10/13)</text>
<polygon points="111.5,884.6 120,884.6 115.8,880" fill="#1a1a7a"/>
<polyline points="116,884.5 116,891 128,891" fill="none" stroke="#2a2a70" stroke-width="1.6"/>
<rect x="1857" y="1" width="63" height="928" fill="#d8e2ef"/>
<rect x="1857" y="1" width="2" height="928" fill="#9aa2ad"/>
<rect x="1857" y="89" width="7" height="1" fill="#5e646c"/>
<rect x="1857" y="193" width="7" height="1" fill="#5e646c"/>
<rect x="1857" y="297" width="7" height="1" fill="#5e646c"/>
<rect x="1857" y="402" width="7" height="1" fill="#5e646c"/>
<rect x="1857" y="506" width="7" height="1" fill="#5e646c"/>
<rect x="1857" y="610" width="7" height="1" fill="#5e646c"/>
<rect x="1857" y="714" width="7" height="1" fill="#5e646c"/>
<rect x="1857" y="818" width="7" height="1" fill="#5e646c"/>
<rect x="1859" y="110" width="2" height="1" fill="#7a8088"/>
<rect x="1859" y="131" width="2" height="1" fill="#7a8088"/>
<rect x="1859" y="151" width="2" height="1" fill="#7a8088"/>
<rect x="1859" y="172" width="2" height="1" fill="#7a8088"/>
<rect x="1859" y="214" width="2" height="1" fill="#7a8088"/>
<rect x="1859" y="235" width="2" height="1" fill="#7a8088"/>
<rect x="1859" y="255" width="2" height="1" fill="#7a8088"/>
<rect x="1859" y="276" width="2" height="1" fill="#7a8088"/>
<rect x="1859" y="318" width="2" height="1" fill="#7a8088"/>
<rect x="1859" y="339" width="2" height="1" fill="#7a8088"/>
<rect x="1859" y="359" width="2" height="1" fill="#7a8088"/>
<rect x="1859" y="380" width="2" height="1" fill="#7a8088"/>
<rect x="1859" y="423" width="2" height="1" fill="#7a8088"/>
<rect x="1859" y="444" width="2" height="1" fill="#7a8088"/>
<rect x="1859" y="464" width="2" height="1" fill="#7a8088"/>
<rect x="1859" y="485" width="2" height="1" fill="#7a8088"/>
<rect x="1859" y="527" width="2" height="1" fill="#7a8088"/>
<rect x="1859" y="548" width="2" height="1" fill="#7a8088"/>
<rect x="1859" y="568" width="2" height="1" fill="#7a8088"/>
<rect x="1859" y="589" width="2" height="1" fill="#7a8088"/>
<rect x="1859" y="631" width="2" height="1" fill="#7a8088"/>
<rect x="1859" y="652" width="2" height="1" fill="#7a8088"/>
<rect x="1859" y="672" width="2" height="1" fill="#7a8088"/>
<rect x="1859" y="693" width="2" height="1" fill="#7a8088"/>
<rect x="1859" y="735" width="2" height="1" fill="#7a8088"/>
<rect x="1859" y="756" width="2" height="1" fill="#7a8088"/>
<rect x="1859" y="776" width="2" height="1" fill="#7a8088"/>
<rect x="1859" y="797" width="2" height="1" fill="#7a8088"/>
<rect x="1859" y="28" width="2" height="1" fill="#7a8088"/>
<rect x="1859" y="48" width="2" height="1" fill="#7a8088"/>
<rect x="1859" y="69" width="2" height="1" fill="#7a8088"/>
<rect x="1859" y="842" width="2" height="1" fill="#7a8088"/>
<rect x="1859" y="862" width="2" height="1" fill="#7a8088"/>
<rect x="1859" y="882" width="2" height="1" fill="#7a8088"/>
<rect x="1859" y="902" width="2" height="1" fill="#7a8088"/>
<text x="1866" y="92.6" font-family="Liberation Sans, NanumGothic, Noto Sans CJK KR, sans-serif" font-size="13.5" fill="#1c2028" textLength="44" lengthAdjust="spacingAndGlyphs">200,0000</text>
<text x="1866" y="196.6" font-family="Liberation Sans, NanumGothic, Noto Sans CJK KR, sans-serif" font-size="13.5" fill="#1c2028" textLength="44" lengthAdjust="spacingAndGlyphs">175,0000</text>
<text x="1866" y="300.6" font-family="Liberation Sans, NanumGothic, Noto Sans CJK KR, sans-serif" font-size="13.5" fill="#1c2028" textLength="44" lengthAdjust="spacingAndGlyphs">150,0000</text>
<text x="1866" y="405.6" font-family="Liberation Sans, NanumGothic, Noto Sans CJK KR, sans-serif" font-size="13.5" fill="#1c2028" textLength="44" lengthAdjust="spacingAndGlyphs">125,0000</text>
<text x="1866" y="509.6" font-family="Liberation Sans, NanumGothic, Noto Sans CJK KR, sans-serif" font-size="13.5" fill="#1c2028" textLength="44" lengthAdjust="spacingAndGlyphs">100,0000</text>
<text x="1866" y="613.6" font-family="Liberation Sans, NanumGothic, Noto Sans CJK KR, sans-serif" font-size="13.5" fill="#1c2028" textLength="44" lengthAdjust="spacingAndGlyphs">75,0000</text>
<text x="1866" y="717.6" font-family="Liberation Sans, NanumGothic, Noto Sans CJK KR, sans-serif" font-size="13.5" fill="#1c2028" textLength="44" lengthAdjust="spacingAndGlyphs">50,0000</text>
<text x="1866" y="821.6" font-family="Liberation Sans, NanumGothic, Noto Sans CJK KR, sans-serif" font-size="13.5" fill="#1c2028" textLength="44" lengthAdjust="spacingAndGlyphs">25,0000</text>
<text x="1859" y="12.5" font-family="Liberation Sans, NanumGothic, Noto Sans CJK KR, sans-serif" font-size="13.5" fill="#6e2a32" textLength="57" lengthAdjust="spacingAndGlyphs">LC:1590,65</text>
<text x="1859" y="23.8" font-family="Liberation Sans, NanumGothic, Noto Sans CJK KR, sans-serif" font-size="13.5" fill="#1d3a58" textLength="52" lengthAdjust="spacingAndGlyphs">HC:-13,85</text>
<rect x="1862" y="154" width="56" height="12" fill="#1f5cc6"/>
<text x="1866.5" y="163.6" font-family="Liberation Sans, NanumGothic, Noto Sans CJK KR, sans-serif" font-size="13.5" fill="#ffffff" textLength="44" lengthAdjust="spacingAndGlyphs">182,8100</text>
<text x="1865.5" y="175.6" font-family="Liberation Sans, NanumGothic, Noto Sans CJK KR, sans-serif" font-size="13.5" fill="#1c2028" textLength="36" lengthAdjust="spacingAndGlyphs">-2,21%</text>
<rect x="0" y="910" width="1920" height="19" fill="#d8e2ef"/>
<rect x="0" y="910" width="1920" height="1" fill="#7d8288"/>
<rect x="0" y="927.5" width="1920" height="1.5" fill="#80848c"/>
<rect x="218" y="911" width="1" height="17" fill="#6e737a"/>
<text x="220" y="923" font-family="Liberation Sans, NanumGothic, Noto Sans CJK KR, sans-serif" font-size="13.5" fill="#1c2028" textLength="22" lengthAdjust="spacingAndGlyphs">2023</text>
<rect x="685" y="911" width="1" height="17" fill="#6e737a"/>
<text x="687" y="923" font-family="Liberation Sans, NanumGothic, Noto Sans CJK KR, sans-serif" font-size="13.5" fill="#1c2028" textLength="22" lengthAdjust="spacingAndGlyphs">2024</text>
<rect x="1155" y="911" width="1" height="17" fill="#6e737a"/>
<text x="1157" y="923" font-family="Liberation Sans, NanumGothic, Noto Sans CJK KR, sans-serif" font-size="13.5" fill="#1c2028" textLength="22" lengthAdjust="spacingAndGlyphs">2025</text>
<rect x="1622" y="911" width="1" height="17" fill="#6e737a"/>
<text x="1624" y="923" font-family="Liberation Sans, NanumGothic, Noto Sans CJK KR, sans-serif" font-size="13.5" fill="#1c2028" textLength="22" lengthAdjust="spacingAndGlyphs">2026</text>
<text x="3" y="923" font-family="Liberation Sans, NanumGothic, Noto Sans CJK KR, sans-serif" font-size="13.5" fill="#1c2028" textLength="22" lengthAdjust="spacingAndGlyphs">2022</text>
<text x="1865.5" y="923" font-family="Liberation Sans, NanumGothic, Noto Sans CJK KR, sans-serif" font-size="13.5" fill="#1c2028" textLength="29" lengthAdjust="spacingAndGlyphs">02/13</text>
<rect x="1857" y="910" width="2" height="19" fill="#8e959e"/>
<rect x="0" y="0" width="1920" height="1" fill="#7a7a7a"/>
<rect x="0" y="0" width="2" height="929" fill="#8a8a8a"/>
<rect x="5" y="6" width="5" height="5" fill="#6e6e6e"/><rect x="6" y="7" width="3" height="3" fill="#dcdcdc"/>
<rect x="12.5" y="2.5" width="132" height="12.5" fill="#e9e9e9" stroke="#b4b4b4" stroke-width="1"/>
<text x="15.8" y="13.6" font-family="Liberation Sans, NanumGothic, Noto Sans CJK KR, sans-serif" font-size="13.5" fill="#111" textLength="72.5" lengthAdjust="spacingAndGlyphs">NVIDIA CORP</text>
<text x="97.5" y="13.6" font-family="Liberation Sans, NanumGothic, Noto Sans CJK KR, sans-serif" font-size="13" fill="#111" textLength="45.5" lengthAdjust="spacingAndGlyphs">엔비디아</text>
<rect x="148" y="6" width="5" height="5" fill="#7a7a7a"/><rect x="149" y="7" width="3" height="3" fill="#d4d4d4"/>
<text x="1745.8" y="858.2" font-family="Liberation Sans, NanumGothic, Noto Sans CJK KR, sans-serif" font-size="12" fill="#2b7a6c" textLength="37.2" lengthAdjust="spacingAndGlyphs">전환선</text>
<text x="1752.8" y="858.2" font-family="Liberation Sans, NanumGothic, Noto Sans CJK KR, sans-serif" font-size="12" fill="#2b7a6c" textLength="37.2" lengthAdjust="spacingAndGlyphs" opacity="0.85">전환선</text>
<text x="1788.5" y="858.2" font-family="Liberation Sans, NanumGothic, Noto Sans CJK KR, sans-serif" font-size="12.5" fill="#2b7a6c" textLength="16.5" lengthAdjust="spacingAndGlyphs">(18):</text>
<text x="1810" y="858.2" font-family="Liberation Sans, NanumGothic, Noto Sans CJK KR, sans-serif" font-size="12.5" fill="#2b7a6c" textLength="43" lengthAdjust="spacingAndGlyphs">188,3850</text>
<text x="1745.8" y="869.8" font-family="Liberation Sans, NanumGothic, Noto Sans CJK KR, sans-serif" font-size="12" fill="#4a2228" textLength="31.2" lengthAdjust="spacingAndGlyphs">기준선</text>
<text x="1752.8" y="869.8" font-family="Liberation Sans, NanumGothic, Noto Sans CJK KR, sans-serif" font-size="12" fill="#4a2228" textLength="31.2" lengthAdjust="spacingAndGlyphs" opacity="0.85">기준선</text>
<text x="1783.5" y="869.8" font-family="Liberation Sans, NanumGothic, Noto Sans CJK KR, sans-serif" font-size="12.5" fill="#4a2228" textLength="21.5" lengthAdjust="spacingAndGlyphs">(18):</text>
<text x="1810" y="869.8" font-family="Liberation Sans, NanumGothic, Noto Sans CJK KR, sans-serif" font-size="12.5" fill="#4a2228" textLength="43" lengthAdjust="spacingAndGlyphs">188,8300</text>
<text x="1734.5" y="881.3" font-family="Liberation Sans, NanumGothic, Noto Sans CJK KR, sans-serif" font-size="12" fill="#5e2a78" textLength="42.5" lengthAdjust="spacingAndGlyphs">후행스팬</text>
<text x="1741.5" y="881.3" font-family="Liberation Sans, NanumGothic, Noto Sans CJK KR, sans-serif" font-size="12" fill="#5e2a78" textLength="42.5" lengthAdjust="spacingAndGlyphs" opacity="0.85">후행스팬</text>
<text x="1783.5" y="881.3" font-family="Liberation Sans, NanumGothic, Noto Sans CJK KR, sans-serif" font-size="12.5" fill="#5e2a78" textLength="21.5" lengthAdjust="spacingAndGlyphs">(18):</text>
<text x="1810" y="881.3" font-family="Liberation Sans, NanumGothic, Noto Sans CJK KR, sans-serif" font-size="12.5" fill="#5e2a78" textLength="43" lengthAdjust="spacingAndGlyphs">182,8100</text>
<rect x="1735.5" y="882.3" width="37.5" height="1" fill="#5e2a78"/>
<text x="1708" y="892.6" font-family="Liberation Sans, NanumGothic, Noto Sans CJK KR, sans-serif" font-size="12" fill="#deae7c" textLength="52" lengthAdjust="spacingAndGlyphs">선행스팬1</text>
<text x="1715" y="892.6" font-family="Liberation Sans, NanumGothic, Noto Sans CJK KR, sans-serif" font-size="12" fill="#deae7c" textLength="52" lengthAdjust="spacingAndGlyphs" opacity="0.85">선행스팬1</text>
<text x="1766.5" y="892.6" font-family="Liberation Sans, NanumGothic, Noto Sans CJK KR, sans-serif" font-size="12.5" fill="#deae7c" textLength="38.5" lengthAdjust="spacingAndGlyphs">(9,18):</text>
<text x="1810" y="892.6" font-family="Liberation Sans, NanumGothic, Noto Sans CJK KR, sans-serif" font-size="12.5" fill="#deae7c" textLength="43" lengthAdjust="spacingAndGlyphs">188,8808</text>
<text x="1708" y="904" font-family="Liberation Sans, NanumGothic, Noto Sans CJK KR, sans-serif" font-size="12" fill="#52608e" textLength="49" lengthAdjust="spacingAndGlyphs">선행스팬2</text>
<text x="1715" y="904" font-family="Liberation Sans, NanumGothic, Noto Sans CJK KR, sans-serif" font-size="12" fill="#52608e" textLength="49" lengthAdjust="spacingAndGlyphs" opacity="0.85">선행스팬2</text>
<text x="1763.5" y="904" font-family="Liberation Sans, NanumGothic, Noto Sans CJK KR, sans-serif" font-size="12.5" fill="#52608e" textLength="41.5" lengthAdjust="spacingAndGlyphs">(52,18):</text>
<text x="1810" y="904" font-family="Liberation Sans, NanumGothic, Noto Sans CJK KR, sans-serif" font-size="12.5" fill="#52608e" textLength="43" lengthAdjust="spacingAndGlyphs">188,4008</text>
<rect x="1709" y="905" width="44" height="1" fill="#52608e"/>
</svg>
</body></html>
